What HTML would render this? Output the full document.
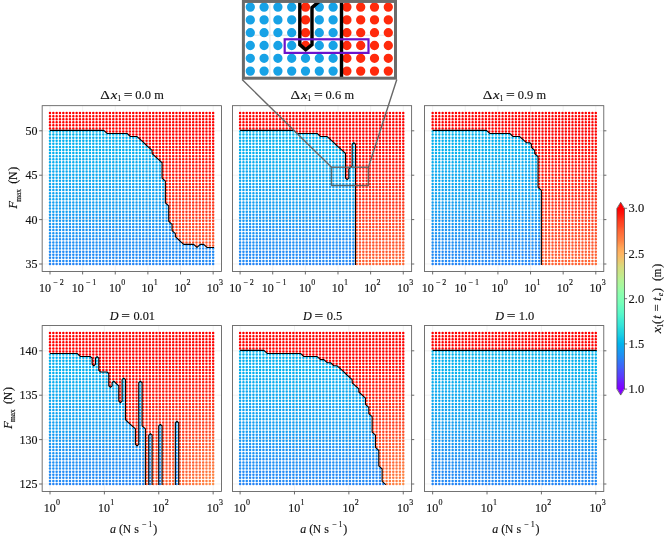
<!DOCTYPE html>
<html lang="en"><head><meta charset="utf-8"><title>Phase diagrams</title>
<style>html,body{margin:0;padding:0;background:#fff}svg{display:block}text{font-family:"Liberation Serif",serif;fill:#111;stroke:#111;stroke-width:.14px}.i{font-style:italic}</style></head><body>
<svg width="668" height="542" viewBox="0 0 668 542">
<rect width="668" height="542" fill="#fff"/>
<path d="M50 105.7V271.45M82.63 105.7V271.45M115.26 105.7V271.45M147.89 105.7V271.45M180.52 105.7V271.45M213.15 105.7V271.45M42.15 130.81H221.55M42.15 175.21H221.55M42.15 219.6H221.55M42.15 264H221.55" stroke="#ececec" stroke-width="0.7" fill="none"/>
<g stroke-linecap="round" stroke-width="2.5" fill="none">
<path stroke="#ff0000" d="M50 113.05h0M53.33 113.05h0M56.66 113.05h0M59.99 113.05h0M63.32 113.05h0M66.65 113.05h0M69.98 113.05h0M73.31 113.05h0M76.64 113.05h0M79.97 113.05h0M83.3 113.05h0M86.63 113.05h0M89.96 113.05h0M93.28 113.05h0M96.61 113.05h0M99.94 113.05h0M103.27 113.05h0M106.6 113.05h0M109.93 113.05h0M113.26 113.05h0M116.59 113.05h0M119.92 113.05h0M123.25 113.05h0M126.58 113.05h0M129.91 113.05h0M133.24 113.05h0M136.57 113.05h0M139.9 113.05h0M143.23 113.05h0M146.56 113.05h0M149.89 113.05h0M153.22 113.05h0M156.55 113.05h0M159.88 113.05h0M163.21 113.05h0M166.54 113.05h0M169.87 113.05h0M173.19 113.05h0M176.52 113.05h0M179.85 113.05h0M183.18 113.05h0M186.51 113.05h0M189.84 113.05h0M193.17 113.05h0M196.5 113.05h0M199.83 113.05h0M203.16 113.05h0M206.49 113.05h0M209.82 113.05h0M213.15 113.05h0M50 116.13h0M53.33 116.13h0M56.66 116.13h0M59.99 116.13h0M63.32 116.13h0M66.65 116.13h0M69.98 116.13h0M73.31 116.13h0M76.64 116.13h0M79.97 116.13h0M83.3 116.13h0M86.63 116.13h0M89.96 116.13h0M93.28 116.13h0M96.61 116.13h0M99.94 116.13h0M103.27 116.13h0M106.6 116.13h0M109.93 116.13h0M113.26 116.13h0M116.59 116.13h0M119.92 116.13h0M123.25 116.13h0M126.58 116.13h0M129.91 116.13h0M133.24 116.13h0M136.57 116.13h0M139.9 116.13h0M143.23 116.13h0M146.56 116.13h0M149.89 116.13h0M153.22 116.13h0M156.55 116.13h0M159.88 116.13h0M163.21 116.13h0M166.54 116.13h0M169.87 116.13h0M173.19 116.13h0M176.52 116.13h0M179.85 116.13h0M183.18 116.13h0M186.51 116.13h0M189.84 116.13h0M193.17 116.13h0M196.5 116.13h0M199.83 116.13h0M203.16 116.13h0M206.49 116.13h0M209.82 116.13h0M213.15 116.13h0M50 119.21h0M53.33 119.21h0M56.66 119.21h0M59.99 119.21h0M63.32 119.21h0M66.65 119.21h0M69.98 119.21h0M73.31 119.21h0M76.64 119.21h0M79.97 119.21h0M83.3 119.21h0M86.63 119.21h0M89.96 119.21h0M93.28 119.21h0M96.61 119.21h0M99.94 119.21h0M103.27 119.21h0M106.6 119.21h0M109.93 119.21h0M113.26 119.21h0M116.59 119.21h0M119.92 119.21h0M123.25 119.21h0M126.58 119.21h0M129.91 119.21h0M133.24 119.21h0M136.57 119.21h0M139.9 119.21h0M143.23 119.21h0M146.56 119.21h0M149.89 119.21h0M153.22 119.21h0M156.55 119.21h0M159.88 119.21h0M163.21 119.21h0M166.54 119.21h0M169.87 119.21h0M173.19 119.21h0M176.52 119.21h0M179.85 119.21h0M183.18 119.21h0M186.51 119.21h0M189.84 119.21h0M193.17 119.21h0M196.5 119.21h0M199.83 119.21h0M203.16 119.21h0M206.49 119.21h0M209.82 119.21h0M213.15 119.21h0M50 122.29h0M53.33 122.29h0M56.66 122.29h0M59.99 122.29h0M63.32 122.29h0M66.65 122.29h0M69.98 122.29h0M73.31 122.29h0M76.64 122.29h0M79.97 122.29h0M83.3 122.29h0M86.63 122.29h0M89.96 122.29h0M93.28 122.29h0M96.61 122.29h0M99.94 122.29h0M103.27 122.29h0M106.6 122.29h0M109.93 122.29h0M113.26 122.29h0M116.59 122.29h0M119.92 122.29h0M123.25 122.29h0M126.58 122.29h0M129.91 122.29h0M133.24 122.29h0M136.57 122.29h0M139.9 122.29h0M143.23 122.29h0M146.56 122.29h0M149.89 122.29h0M153.22 122.29h0M156.55 122.29h0M159.88 122.29h0M163.21 122.29h0M166.54 122.29h0M169.87 122.29h0M173.19 122.29h0M176.52 122.29h0M179.85 122.29h0M183.18 122.29h0M186.51 122.29h0M189.84 122.29h0M193.17 122.29h0M196.5 122.29h0M199.83 122.29h0M203.16 122.29h0M206.49 122.29h0M209.82 122.29h0M213.15 122.29h0M50 125.37h0M53.33 125.37h0M56.66 125.37h0M59.99 125.37h0M63.32 125.37h0M66.65 125.37h0M69.98 125.37h0M73.31 125.37h0M76.64 125.37h0M79.97 125.37h0M83.3 125.37h0M86.63 125.37h0M89.96 125.37h0M93.28 125.37h0M96.61 125.37h0M99.94 125.37h0M103.27 125.37h0M106.6 125.37h0M109.93 125.37h0M113.26 125.37h0M116.59 125.37h0M119.92 125.37h0M123.25 125.37h0M126.58 125.37h0M129.91 125.37h0M133.24 125.37h0M136.57 125.37h0M139.9 125.37h0M143.23 125.37h0M146.56 125.37h0M149.89 125.37h0M153.22 125.37h0M156.55 125.37h0M159.88 125.37h0M163.21 125.37h0M166.54 125.37h0M169.87 125.37h0M173.19 125.37h0M176.52 125.37h0M179.85 125.37h0M183.18 125.37h0M186.51 125.37h0M189.84 125.37h0M193.17 125.37h0M196.5 125.37h0M199.83 125.37h0M203.16 125.37h0M206.49 125.37h0M209.82 125.37h0M213.15 125.37h0M50 128.45h0M53.33 128.45h0M56.66 128.45h0M59.99 128.45h0M63.32 128.45h0M66.65 128.45h0M69.98 128.45h0M73.31 128.45h0M76.64 128.45h0M79.97 128.45h0M83.3 128.45h0M86.63 128.45h0M89.96 128.45h0M93.28 128.45h0M96.61 128.45h0M99.94 128.45h0M103.27 128.45h0M106.6 128.45h0M109.93 128.45h0M113.26 128.45h0M116.59 128.45h0M119.92 128.45h0M123.25 128.45h0M126.58 128.45h0M129.91 128.45h0M133.24 128.45h0M136.57 128.45h0M139.9 128.45h0M143.23 128.45h0M146.56 128.45h0M149.89 128.45h0M153.22 128.45h0M156.55 128.45h0M159.88 128.45h0M163.21 128.45h0M166.54 128.45h0M169.87 128.45h0M173.19 128.45h0M176.52 128.45h0M179.85 128.45h0M183.18 128.45h0M186.51 128.45h0M189.84 128.45h0M193.17 128.45h0M196.5 128.45h0M199.83 128.45h0M203.16 128.45h0M206.49 128.45h0M209.82 128.45h0M213.15 128.45h0M106.6 131.53h0M109.93 131.53h0M113.26 131.53h0M116.59 131.53h0M119.92 131.53h0M123.25 131.53h0M126.58 131.53h0M129.91 131.53h0M133.24 131.53h0M136.57 131.53h0M139.9 131.53h0M143.23 131.53h0M146.56 131.53h0M149.89 131.53h0M153.22 131.53h0M156.55 131.53h0M159.88 131.53h0M163.21 131.53h0M166.54 131.53h0M169.87 131.53h0M173.19 131.53h0M176.52 131.53h0M179.85 131.53h0M183.18 131.53h0M186.51 131.53h0M189.84 131.53h0M193.17 131.53h0M196.5 131.53h0M199.83 131.53h0M203.16 131.53h0M206.49 131.53h0M209.82 131.53h0M213.15 131.53h0M129.91 134.61h0M133.24 134.61h0M136.57 134.61h0M139.9 134.61h0M143.23 134.61h0M146.56 134.61h0M149.89 134.61h0M153.22 134.61h0M156.55 134.61h0M159.88 134.61h0M163.21 134.61h0M166.54 134.61h0M169.87 134.61h0M173.19 134.61h0M176.52 134.61h0M179.85 134.61h0M183.18 134.61h0M186.51 134.61h0M189.84 134.61h0M193.17 134.61h0M196.5 134.61h0M199.83 134.61h0M203.16 134.61h0M206.49 134.61h0M209.82 134.61h0M213.15 134.61h0M139.9 137.69h0M143.23 137.69h0M146.56 137.69h0M149.89 137.69h0M153.22 137.69h0M156.55 137.69h0M159.88 137.69h0M163.21 137.69h0M166.54 137.69h0M169.87 137.69h0M173.19 137.69h0M176.52 137.69h0M179.85 137.69h0M183.18 137.69h0M186.51 137.69h0M189.84 137.69h0"/>
<path stroke="#00b4ec" d="M50 131.53h0M53.33 131.53h0M56.66 131.53h0M59.99 131.53h0M63.32 131.53h0M66.65 131.53h0M69.98 131.53h0M73.31 131.53h0M76.64 131.53h0M79.97 131.53h0M83.3 131.53h0M86.63 131.53h0M89.96 131.53h0M93.28 131.53h0M96.61 131.53h0M99.94 131.53h0M103.27 131.53h0M50 134.61h0M53.33 134.61h0M56.66 134.61h0M59.99 134.61h0M63.32 134.61h0M66.65 134.61h0M69.98 134.61h0M73.31 134.61h0M76.64 134.61h0M79.97 134.61h0M83.3 134.61h0M86.63 134.61h0M89.96 134.61h0M93.28 134.61h0M96.61 134.61h0M99.94 134.61h0M103.27 134.61h0M106.6 134.61h0M109.93 134.61h0M113.26 134.61h0M116.59 134.61h0M119.92 134.61h0M123.25 134.61h0M126.58 134.61h0"/>
<path stroke="#04b0ed" d="M50 137.69h0M53.33 137.69h0M56.66 137.69h0M59.99 137.69h0M63.32 137.69h0M66.65 137.69h0M69.98 137.69h0M73.31 137.69h0M76.64 137.69h0M79.97 137.69h0M83.3 137.69h0M86.63 137.69h0M89.96 137.69h0M93.28 137.69h0M96.61 137.69h0M99.94 137.69h0M103.27 137.69h0M106.6 137.69h0M109.93 137.69h0M113.26 137.69h0M116.59 137.69h0M119.92 137.69h0M123.25 137.69h0M126.58 137.69h0M129.91 137.69h0M133.24 137.69h0M136.57 137.69h0M50 140.78h0M53.33 140.78h0M56.66 140.78h0M59.99 140.78h0M63.32 140.78h0M66.65 140.78h0M69.98 140.78h0M73.31 140.78h0M76.64 140.78h0M79.97 140.78h0M83.3 140.78h0M86.63 140.78h0M89.96 140.78h0M93.28 140.78h0M96.61 140.78h0M99.94 140.78h0M103.27 140.78h0M106.6 140.78h0M109.93 140.78h0M113.26 140.78h0M116.59 140.78h0M119.92 140.78h0M123.25 140.78h0M126.58 140.78h0M129.91 140.78h0M133.24 140.78h0M136.57 140.78h0M139.9 140.78h0M50 143.86h0M53.33 143.86h0M56.66 143.86h0M59.99 143.86h0M63.32 143.86h0M66.65 143.86h0M69.98 143.86h0M73.31 143.86h0M76.64 143.86h0M79.97 143.86h0M83.3 143.86h0M86.63 143.86h0M89.96 143.86h0M93.28 143.86h0M96.61 143.86h0M99.94 143.86h0M103.27 143.86h0M106.6 143.86h0M109.93 143.86h0M113.26 143.86h0M116.59 143.86h0M119.92 143.86h0M123.25 143.86h0M126.58 143.86h0M129.91 143.86h0M133.24 143.86h0M136.57 143.86h0M139.9 143.86h0M143.23 143.86h0M50 146.94h0M53.33 146.94h0M56.66 146.94h0M59.99 146.94h0M63.32 146.94h0M66.65 146.94h0M69.98 146.94h0M73.31 146.94h0M76.64 146.94h0M79.97 146.94h0M83.3 146.94h0M86.63 146.94h0M89.96 146.94h0M93.28 146.94h0M96.61 146.94h0M99.94 146.94h0M103.27 146.94h0M106.6 146.94h0M109.93 146.94h0M113.26 146.94h0M116.59 146.94h0M119.92 146.94h0M123.25 146.94h0M126.58 146.94h0M129.91 146.94h0M133.24 146.94h0M136.57 146.94h0M139.9 146.94h0M143.23 146.94h0M146.56 146.94h0M50 150.02h0M53.33 150.02h0M56.66 150.02h0M59.99 150.02h0M63.32 150.02h0M66.65 150.02h0M69.98 150.02h0M73.31 150.02h0M76.64 150.02h0M79.97 150.02h0M83.3 150.02h0M86.63 150.02h0M89.96 150.02h0M93.28 150.02h0M96.61 150.02h0M99.94 150.02h0M103.27 150.02h0M106.6 150.02h0M109.93 150.02h0M113.26 150.02h0M116.59 150.02h0M119.92 150.02h0M123.25 150.02h0M126.58 150.02h0M129.91 150.02h0M133.24 150.02h0M136.57 150.02h0M139.9 150.02h0M143.23 150.02h0M146.56 150.02h0M149.89 150.02h0M50 153.1h0M53.33 153.1h0M56.66 153.1h0M59.99 153.1h0M63.32 153.1h0M66.65 153.1h0M69.98 153.1h0M73.31 153.1h0M76.64 153.1h0M79.97 153.1h0M83.3 153.1h0M86.63 153.1h0M89.96 153.1h0M93.28 153.1h0M96.61 153.1h0M99.94 153.1h0M103.27 153.1h0M106.6 153.1h0M109.93 153.1h0M113.26 153.1h0M116.59 153.1h0M119.92 153.1h0M123.25 153.1h0M126.58 153.1h0M129.91 153.1h0M133.24 153.1h0M136.57 153.1h0M139.9 153.1h0M143.23 153.1h0M146.56 153.1h0M149.89 153.1h0"/>
<path stroke="#ff0603" d="M193.17 137.69h0M196.5 137.69h0M199.83 137.69h0M203.16 137.69h0M206.49 137.69h0M209.82 137.69h0M213.15 137.69h0M143.23 140.78h0M146.56 140.78h0M149.89 140.78h0M153.22 140.78h0M156.55 140.78h0M159.88 140.78h0M163.21 140.78h0M166.54 140.78h0M169.87 140.78h0M173.19 140.78h0M176.52 140.78h0M179.85 140.78h0M183.18 140.78h0M186.51 140.78h0M189.84 140.78h0M193.17 140.78h0M196.5 140.78h0M199.83 140.78h0M203.16 140.78h0M206.49 140.78h0M209.82 140.78h0M213.15 140.78h0M146.56 143.86h0M149.89 143.86h0M153.22 143.86h0M156.55 143.86h0M159.88 143.86h0M163.21 143.86h0M166.54 143.86h0M169.87 143.86h0M173.19 143.86h0M176.52 143.86h0M179.85 143.86h0M183.18 143.86h0M186.51 143.86h0M189.84 143.86h0M193.17 143.86h0M196.5 143.86h0M199.83 143.86h0M203.16 143.86h0M206.49 143.86h0M209.82 143.86h0M213.15 143.86h0M149.89 146.94h0M153.22 146.94h0M156.55 146.94h0M159.88 146.94h0M163.21 146.94h0M166.54 146.94h0M169.87 146.94h0M173.19 146.94h0M176.52 146.94h0M179.85 146.94h0M183.18 146.94h0M186.51 146.94h0M189.84 146.94h0M193.17 146.94h0M196.5 146.94h0M199.83 146.94h0"/>
<path stroke="#ff0c06" d="M203.16 146.94h0M206.49 146.94h0M209.82 146.94h0M213.15 146.94h0M153.22 150.02h0M156.55 150.02h0M159.88 150.02h0M163.21 150.02h0M166.54 150.02h0M169.87 150.02h0M173.19 150.02h0M176.52 150.02h0M179.85 150.02h0M183.18 150.02h0M186.51 150.02h0M189.84 150.02h0M193.17 150.02h0M196.5 150.02h0M199.83 150.02h0M203.16 150.02h0M206.49 150.02h0M209.82 150.02h0M213.15 150.02h0M153.22 153.1h0M156.55 153.1h0M159.88 153.1h0M163.21 153.1h0M166.54 153.1h0M169.87 153.1h0M173.19 153.1h0M176.52 153.1h0M179.85 153.1h0M183.18 153.1h0M186.51 153.1h0M189.84 153.1h0M193.17 153.1h0M196.5 153.1h0M199.83 153.1h0M203.16 153.1h0M206.49 153.1h0M209.82 153.1h0M213.15 153.1h0M156.55 156.18h0M159.88 156.18h0M163.21 156.18h0M166.54 156.18h0M169.87 156.18h0M173.19 156.18h0M176.52 156.18h0M179.85 156.18h0M183.18 156.18h0M186.51 156.18h0M189.84 156.18h0M193.17 156.18h0M196.5 156.18h0M199.83 156.18h0"/>
<path stroke="#08acee" d="M50 156.18h0M53.33 156.18h0M56.66 156.18h0M59.99 156.18h0M63.32 156.18h0M66.65 156.18h0M69.98 156.18h0M73.31 156.18h0M76.64 156.18h0M79.97 156.18h0M83.3 156.18h0M86.63 156.18h0M89.96 156.18h0M93.28 156.18h0M96.61 156.18h0M99.94 156.18h0M103.27 156.18h0M106.6 156.18h0M109.93 156.18h0M113.26 156.18h0M116.59 156.18h0M119.92 156.18h0M123.25 156.18h0M126.58 156.18h0M129.91 156.18h0M133.24 156.18h0M136.57 156.18h0M139.9 156.18h0M143.23 156.18h0M146.56 156.18h0M149.89 156.18h0M153.22 156.18h0M50 159.26h0M53.33 159.26h0M56.66 159.26h0M59.99 159.26h0M63.32 159.26h0M66.65 159.26h0M69.98 159.26h0M73.31 159.26h0M76.64 159.26h0M79.97 159.26h0M83.3 159.26h0M86.63 159.26h0M89.96 159.26h0M93.28 159.26h0M96.61 159.26h0M99.94 159.26h0M103.27 159.26h0M106.6 159.26h0M109.93 159.26h0M113.26 159.26h0M116.59 159.26h0M119.92 159.26h0M123.25 159.26h0M126.58 159.26h0M129.91 159.26h0M133.24 159.26h0M136.57 159.26h0M139.9 159.26h0M143.23 159.26h0M146.56 159.26h0M149.89 159.26h0M153.22 159.26h0M156.55 159.26h0M50 162.34h0M53.33 162.34h0M56.66 162.34h0M59.99 162.34h0M63.32 162.34h0M66.65 162.34h0M69.98 162.34h0M73.31 162.34h0M76.64 162.34h0M79.97 162.34h0M83.3 162.34h0M86.63 162.34h0M89.96 162.34h0M93.28 162.34h0M96.61 162.34h0M99.94 162.34h0M103.27 162.34h0M106.6 162.34h0M109.93 162.34h0M113.26 162.34h0M116.59 162.34h0M119.92 162.34h0M123.25 162.34h0M126.58 162.34h0M129.91 162.34h0M133.24 162.34h0M136.57 162.34h0M139.9 162.34h0M143.23 162.34h0M146.56 162.34h0M149.89 162.34h0M153.22 162.34h0M156.55 162.34h0M159.88 162.34h0M50 165.42h0M53.33 165.42h0M56.66 165.42h0M59.99 165.42h0M63.32 165.42h0M66.65 165.42h0M69.98 165.42h0M73.31 165.42h0M76.64 165.42h0M79.97 165.42h0M83.3 165.42h0M86.63 165.42h0M89.96 165.42h0M93.28 165.42h0M96.61 165.42h0M99.94 165.42h0M103.27 165.42h0M106.6 165.42h0M109.93 165.42h0M113.26 165.42h0M116.59 165.42h0M119.92 165.42h0M123.25 165.42h0M126.58 165.42h0M129.91 165.42h0M133.24 165.42h0M136.57 165.42h0M139.9 165.42h0M143.23 165.42h0M146.56 165.42h0M149.89 165.42h0M153.22 165.42h0M156.55 165.42h0M159.88 165.42h0M50 168.5h0M53.33 168.5h0M56.66 168.5h0M59.99 168.5h0M63.32 168.5h0M66.65 168.5h0M69.98 168.5h0M73.31 168.5h0M76.64 168.5h0M79.97 168.5h0M83.3 168.5h0M86.63 168.5h0M89.96 168.5h0M93.28 168.5h0M96.61 168.5h0M99.94 168.5h0M103.27 168.5h0M106.6 168.5h0M109.93 168.5h0M113.26 168.5h0M116.59 168.5h0M119.92 168.5h0M123.25 168.5h0M126.58 168.5h0M129.91 168.5h0M133.24 168.5h0M136.57 168.5h0M139.9 168.5h0M143.23 168.5h0M146.56 168.5h0M149.89 168.5h0M153.22 168.5h0M156.55 168.5h0M159.88 168.5h0"/>
<path stroke="#ff1209" d="M203.16 156.18h0M206.49 156.18h0M209.82 156.18h0M213.15 156.18h0M159.88 159.26h0M163.21 159.26h0M166.54 159.26h0M169.87 159.26h0M173.19 159.26h0M176.52 159.26h0M179.85 159.26h0M183.18 159.26h0M186.51 159.26h0M189.84 159.26h0M193.17 159.26h0M196.5 159.26h0M199.83 159.26h0M203.16 159.26h0M206.49 159.26h0M209.82 159.26h0M213.15 159.26h0M163.21 162.34h0M166.54 162.34h0M169.87 162.34h0M173.19 162.34h0M176.52 162.34h0M179.85 162.34h0M183.18 162.34h0M186.51 162.34h0M189.84 162.34h0M193.17 162.34h0M196.5 162.34h0M199.83 162.34h0M203.16 162.34h0M206.49 162.34h0M209.82 162.34h0M213.15 162.34h0M163.21 165.42h0M166.54 165.42h0M169.87 165.42h0M173.19 165.42h0M176.52 165.42h0M179.85 165.42h0M183.18 165.42h0M186.51 165.42h0M189.84 165.42h0M193.17 165.42h0M196.5 165.42h0"/>
<path stroke="#ff180c" d="M199.83 165.42h0M203.16 165.42h0M206.49 165.42h0M209.82 165.42h0M213.15 165.42h0M163.21 168.5h0M166.54 168.5h0M169.87 168.5h0M173.19 168.5h0M176.52 168.5h0M179.85 168.5h0M183.18 168.5h0M186.51 168.5h0M189.84 168.5h0M193.17 168.5h0M196.5 168.5h0M199.83 168.5h0M203.16 168.5h0M206.49 168.5h0M209.82 168.5h0M213.15 168.5h0M163.21 171.58h0M166.54 171.58h0M169.87 171.58h0M173.19 171.58h0M176.52 171.58h0M179.85 171.58h0M183.18 171.58h0M186.51 171.58h0M189.84 171.58h0M193.17 171.58h0M196.5 171.58h0M199.83 171.58h0M203.16 171.58h0M206.49 171.58h0M209.82 171.58h0M163.21 174.66h0M166.54 174.66h0M169.87 174.66h0M173.19 174.66h0M176.52 174.66h0M179.85 174.66h0M183.18 174.66h0M186.51 174.66h0"/>
<path stroke="#0ba7ef" d="M50 171.58h0M53.33 171.58h0M56.66 171.58h0M59.99 171.58h0M63.32 171.58h0M66.65 171.58h0M69.98 171.58h0M73.31 171.58h0M76.64 171.58h0M79.97 171.58h0M83.3 171.58h0M86.63 171.58h0M89.96 171.58h0M93.28 171.58h0M96.61 171.58h0M99.94 171.58h0M103.27 171.58h0M106.6 171.58h0M109.93 171.58h0M113.26 171.58h0M116.59 171.58h0M119.92 171.58h0M123.25 171.58h0M126.58 171.58h0M129.91 171.58h0M133.24 171.58h0M136.57 171.58h0M139.9 171.58h0M143.23 171.58h0M146.56 171.58h0M149.89 171.58h0M153.22 171.58h0M156.55 171.58h0M159.88 171.58h0M50 174.66h0M53.33 174.66h0M56.66 174.66h0M59.99 174.66h0M63.32 174.66h0M66.65 174.66h0M69.98 174.66h0M73.31 174.66h0M76.64 174.66h0M79.97 174.66h0M83.3 174.66h0M86.63 174.66h0M89.96 174.66h0M93.28 174.66h0M96.61 174.66h0M99.94 174.66h0M103.27 174.66h0M106.6 174.66h0M109.93 174.66h0M113.26 174.66h0M116.59 174.66h0M119.92 174.66h0M123.25 174.66h0M126.58 174.66h0M129.91 174.66h0M133.24 174.66h0M136.57 174.66h0M139.9 174.66h0M143.23 174.66h0M146.56 174.66h0M149.89 174.66h0M153.22 174.66h0M156.55 174.66h0M159.88 174.66h0M50 177.74h0M53.33 177.74h0M56.66 177.74h0M59.99 177.74h0M63.32 177.74h0M66.65 177.74h0M69.98 177.74h0M73.31 177.74h0M76.64 177.74h0M79.97 177.74h0M83.3 177.74h0M86.63 177.74h0M89.96 177.74h0M93.28 177.74h0M96.61 177.74h0M99.94 177.74h0M103.27 177.74h0M106.6 177.74h0M109.93 177.74h0M113.26 177.74h0M116.59 177.74h0M119.92 177.74h0M123.25 177.74h0M126.58 177.74h0M129.91 177.74h0M133.24 177.74h0M136.57 177.74h0M139.9 177.74h0M143.23 177.74h0M146.56 177.74h0M149.89 177.74h0M153.22 177.74h0M156.55 177.74h0M159.88 177.74h0M50 180.82h0M53.33 180.82h0M56.66 180.82h0M59.99 180.82h0M63.32 180.82h0M66.65 180.82h0M69.98 180.82h0M73.31 180.82h0M76.64 180.82h0M79.97 180.82h0M83.3 180.82h0M86.63 180.82h0M89.96 180.82h0M93.28 180.82h0M96.61 180.82h0M99.94 180.82h0M103.27 180.82h0M106.6 180.82h0M109.93 180.82h0M113.26 180.82h0M116.59 180.82h0M119.92 180.82h0M123.25 180.82h0M126.58 180.82h0M129.91 180.82h0M133.24 180.82h0M136.57 180.82h0M139.9 180.82h0M143.23 180.82h0M146.56 180.82h0M149.89 180.82h0M153.22 180.82h0M156.55 180.82h0M159.88 180.82h0M163.21 180.82h0M50 183.9h0M53.33 183.9h0M56.66 183.9h0M59.99 183.9h0M63.32 183.9h0M66.65 183.9h0M69.98 183.9h0M73.31 183.9h0M76.64 183.9h0M79.97 183.9h0M83.3 183.9h0M86.63 183.9h0M89.96 183.9h0M93.28 183.9h0M96.61 183.9h0M99.94 183.9h0M103.27 183.9h0M106.6 183.9h0M109.93 183.9h0M113.26 183.9h0M116.59 183.9h0M119.92 183.9h0M123.25 183.9h0M126.58 183.9h0M129.91 183.9h0M133.24 183.9h0M136.57 183.9h0M139.9 183.9h0M143.23 183.9h0M146.56 183.9h0M149.89 183.9h0M153.22 183.9h0M156.55 183.9h0M159.88 183.9h0M163.21 183.9h0"/>
<path stroke="#ff1e0f" d="M213.15 171.58h0M189.84 174.66h0M193.17 174.66h0M196.5 174.66h0M199.83 174.66h0M203.16 174.66h0M206.49 174.66h0M209.82 174.66h0M213.15 174.66h0M163.21 177.74h0M166.54 177.74h0M169.87 177.74h0M173.19 177.74h0M176.52 177.74h0M179.85 177.74h0M183.18 177.74h0M186.51 177.74h0M189.84 177.74h0M193.17 177.74h0M196.5 177.74h0M199.83 177.74h0M203.16 177.74h0M206.49 177.74h0M209.82 177.74h0M213.15 177.74h0M166.54 180.82h0M169.87 180.82h0M173.19 180.82h0M176.52 180.82h0M179.85 180.82h0M183.18 180.82h0M186.51 180.82h0M189.84 180.82h0M193.17 180.82h0M196.5 180.82h0M199.83 180.82h0M203.16 180.82h0M166.54 183.9h0M169.87 183.9h0M173.19 183.9h0M176.52 183.9h0"/>
<path stroke="#ff2412" d="M206.49 180.82h0M209.82 180.82h0M213.15 180.82h0M179.85 183.9h0M183.18 183.9h0M186.51 183.9h0M189.84 183.9h0M193.17 183.9h0M196.5 183.9h0M199.83 183.9h0M203.16 183.9h0M206.49 183.9h0M209.82 183.9h0M213.15 183.9h0M166.54 186.98h0M169.87 186.98h0M173.19 186.98h0M176.52 186.98h0M179.85 186.98h0M183.18 186.98h0M186.51 186.98h0M189.84 186.98h0M193.17 186.98h0M196.5 186.98h0M199.83 186.98h0M203.16 186.98h0M206.49 186.98h0M209.82 186.98h0M213.15 186.98h0M166.54 190.07h0M169.87 190.07h0M173.19 190.07h0M176.52 190.07h0M179.85 190.07h0M183.18 190.07h0M186.51 190.07h0M189.84 190.07h0M193.17 190.07h0"/>
<path stroke="#0fa3f0" d="M50 186.98h0M53.33 186.98h0M56.66 186.98h0M59.99 186.98h0M63.32 186.98h0M66.65 186.98h0M69.98 186.98h0M73.31 186.98h0M76.64 186.98h0M79.97 186.98h0M83.3 186.98h0M86.63 186.98h0M89.96 186.98h0M93.28 186.98h0M96.61 186.98h0M99.94 186.98h0M103.27 186.98h0M106.6 186.98h0M109.93 186.98h0M113.26 186.98h0M116.59 186.98h0M119.92 186.98h0M123.25 186.98h0M126.58 186.98h0M129.91 186.98h0M133.24 186.98h0M136.57 186.98h0M139.9 186.98h0M143.23 186.98h0M146.56 186.98h0M149.89 186.98h0M153.22 186.98h0M156.55 186.98h0M159.88 186.98h0M163.21 186.98h0M50 190.07h0M53.33 190.07h0M56.66 190.07h0M59.99 190.07h0M63.32 190.07h0M66.65 190.07h0M69.98 190.07h0M73.31 190.07h0M76.64 190.07h0M79.97 190.07h0M83.3 190.07h0M86.63 190.07h0M89.96 190.07h0M93.28 190.07h0M96.61 190.07h0M99.94 190.07h0M103.27 190.07h0M106.6 190.07h0M109.93 190.07h0M113.26 190.07h0M116.59 190.07h0M119.92 190.07h0M123.25 190.07h0M126.58 190.07h0M129.91 190.07h0M133.24 190.07h0M136.57 190.07h0M139.9 190.07h0M143.23 190.07h0M146.56 190.07h0M149.89 190.07h0M153.22 190.07h0M156.55 190.07h0M159.88 190.07h0M163.21 190.07h0M50 193.15h0M53.33 193.15h0M56.66 193.15h0M59.99 193.15h0M63.32 193.15h0M66.65 193.15h0M69.98 193.15h0M73.31 193.15h0M76.64 193.15h0M79.97 193.15h0M83.3 193.15h0M86.63 193.15h0M89.96 193.15h0M93.28 193.15h0M96.61 193.15h0M99.94 193.15h0M103.27 193.15h0M106.6 193.15h0M109.93 193.15h0M113.26 193.15h0M116.59 193.15h0M119.92 193.15h0M123.25 193.15h0M126.58 193.15h0M129.91 193.15h0M133.24 193.15h0M136.57 193.15h0M139.9 193.15h0M143.23 193.15h0M146.56 193.15h0M149.89 193.15h0M153.22 193.15h0M156.55 193.15h0M159.88 193.15h0M163.21 193.15h0M50 196.23h0M53.33 196.23h0M56.66 196.23h0M59.99 196.23h0M63.32 196.23h0M66.65 196.23h0M69.98 196.23h0M73.31 196.23h0M76.64 196.23h0M79.97 196.23h0M83.3 196.23h0M86.63 196.23h0M89.96 196.23h0M93.28 196.23h0M96.61 196.23h0M99.94 196.23h0M103.27 196.23h0M106.6 196.23h0M109.93 196.23h0M113.26 196.23h0M116.59 196.23h0M119.92 196.23h0M123.25 196.23h0M126.58 196.23h0M129.91 196.23h0M133.24 196.23h0M136.57 196.23h0M139.9 196.23h0M143.23 196.23h0M146.56 196.23h0M149.89 196.23h0M153.22 196.23h0M156.55 196.23h0M159.88 196.23h0M163.21 196.23h0M50 199.31h0M53.33 199.31h0M56.66 199.31h0M59.99 199.31h0M63.32 199.31h0M66.65 199.31h0M69.98 199.31h0M73.31 199.31h0M76.64 199.31h0M79.97 199.31h0M83.3 199.31h0M86.63 199.31h0M89.96 199.31h0M93.28 199.31h0M96.61 199.31h0M99.94 199.31h0M103.27 199.31h0M106.6 199.31h0M109.93 199.31h0M113.26 199.31h0M116.59 199.31h0M119.92 199.31h0M123.25 199.31h0M126.58 199.31h0M129.91 199.31h0M133.24 199.31h0M136.57 199.31h0M139.9 199.31h0M143.23 199.31h0M146.56 199.31h0M149.89 199.31h0M153.22 199.31h0M156.55 199.31h0M159.88 199.31h0M163.21 199.31h0"/>
<path stroke="#ff2a15" d="M196.5 190.07h0M199.83 190.07h0M203.16 190.07h0M206.49 190.07h0M209.82 190.07h0M213.15 190.07h0M166.54 193.15h0M169.87 193.15h0M173.19 193.15h0M176.52 193.15h0M179.85 193.15h0M183.18 193.15h0M186.51 193.15h0M189.84 193.15h0M193.17 193.15h0M196.5 193.15h0M199.83 193.15h0M203.16 193.15h0M206.49 193.15h0M209.82 193.15h0M213.15 193.15h0M166.54 196.23h0M169.87 196.23h0M173.19 196.23h0M176.52 196.23h0M179.85 196.23h0M183.18 196.23h0M186.51 196.23h0M189.84 196.23h0M193.17 196.23h0M196.5 196.23h0M199.83 196.23h0M166.54 199.31h0M169.87 199.31h0M173.19 199.31h0M176.52 199.31h0M179.85 199.31h0"/>
<path stroke="#ff3018" d="M203.16 196.23h0M206.49 196.23h0M209.82 196.23h0M213.15 196.23h0M183.18 199.31h0M186.51 199.31h0M189.84 199.31h0M193.17 199.31h0M196.5 199.31h0M199.83 199.31h0M203.16 199.31h0M206.49 199.31h0M209.82 199.31h0M213.15 199.31h0M166.54 202.39h0M169.87 202.39h0M173.19 202.39h0M176.52 202.39h0M179.85 202.39h0M183.18 202.39h0M186.51 202.39h0M189.84 202.39h0M193.17 202.39h0M196.5 202.39h0M199.83 202.39h0M203.16 202.39h0M206.49 202.39h0M169.87 205.47h0M173.19 205.47h0M176.52 205.47h0M179.85 205.47h0M183.18 205.47h0M186.51 205.47h0M189.84 205.47h0"/>
<path stroke="#139ef1" d="M50 202.39h0M53.33 202.39h0M56.66 202.39h0M59.99 202.39h0M63.32 202.39h0M66.65 202.39h0M69.98 202.39h0M73.31 202.39h0M76.64 202.39h0M79.97 202.39h0M83.3 202.39h0M86.63 202.39h0M89.96 202.39h0M93.28 202.39h0M96.61 202.39h0M99.94 202.39h0M103.27 202.39h0M106.6 202.39h0M109.93 202.39h0M113.26 202.39h0M116.59 202.39h0M119.92 202.39h0M123.25 202.39h0M126.58 202.39h0M129.91 202.39h0M133.24 202.39h0M136.57 202.39h0M139.9 202.39h0M143.23 202.39h0M146.56 202.39h0M149.89 202.39h0M153.22 202.39h0M156.55 202.39h0M159.88 202.39h0M163.21 202.39h0M50 205.47h0M53.33 205.47h0M56.66 205.47h0M59.99 205.47h0M63.32 205.47h0M66.65 205.47h0M69.98 205.47h0M73.31 205.47h0M76.64 205.47h0M79.97 205.47h0M83.3 205.47h0M86.63 205.47h0M89.96 205.47h0M93.28 205.47h0M96.61 205.47h0M99.94 205.47h0M103.27 205.47h0M106.6 205.47h0M109.93 205.47h0M113.26 205.47h0M116.59 205.47h0M119.92 205.47h0M123.25 205.47h0M126.58 205.47h0M129.91 205.47h0M133.24 205.47h0M136.57 205.47h0M139.9 205.47h0M143.23 205.47h0M146.56 205.47h0M149.89 205.47h0M153.22 205.47h0M156.55 205.47h0M159.88 205.47h0M163.21 205.47h0M166.54 205.47h0M50 208.55h0M53.33 208.55h0M56.66 208.55h0M59.99 208.55h0M63.32 208.55h0M66.65 208.55h0M69.98 208.55h0M73.31 208.55h0M76.64 208.55h0M79.97 208.55h0M83.3 208.55h0M86.63 208.55h0M89.96 208.55h0M93.28 208.55h0M96.61 208.55h0M99.94 208.55h0M103.27 208.55h0M106.6 208.55h0M109.93 208.55h0M113.26 208.55h0M116.59 208.55h0M119.92 208.55h0M123.25 208.55h0M126.58 208.55h0M129.91 208.55h0M133.24 208.55h0M136.57 208.55h0M139.9 208.55h0M143.23 208.55h0M146.56 208.55h0M149.89 208.55h0M153.22 208.55h0M156.55 208.55h0M159.88 208.55h0M163.21 208.55h0M166.54 208.55h0M50 211.63h0M53.33 211.63h0M56.66 211.63h0M59.99 211.63h0M63.32 211.63h0M66.65 211.63h0M69.98 211.63h0M73.31 211.63h0M76.64 211.63h0M79.97 211.63h0M83.3 211.63h0M86.63 211.63h0M89.96 211.63h0M93.28 211.63h0M96.61 211.63h0M99.94 211.63h0M103.27 211.63h0M106.6 211.63h0M109.93 211.63h0M113.26 211.63h0M116.59 211.63h0M119.92 211.63h0M123.25 211.63h0M126.58 211.63h0M129.91 211.63h0M133.24 211.63h0M136.57 211.63h0M139.9 211.63h0M143.23 211.63h0M146.56 211.63h0M149.89 211.63h0M153.22 211.63h0M156.55 211.63h0M159.88 211.63h0M163.21 211.63h0M166.54 211.63h0"/>
<path stroke="#ff361b" d="M209.82 202.39h0M213.15 202.39h0M193.17 205.47h0M196.5 205.47h0M199.83 205.47h0M203.16 205.47h0M206.49 205.47h0M209.82 205.47h0M213.15 205.47h0M169.87 208.55h0M173.19 208.55h0M176.52 208.55h0M179.85 208.55h0M183.18 208.55h0M186.51 208.55h0M189.84 208.55h0M193.17 208.55h0M196.5 208.55h0M199.83 208.55h0M203.16 208.55h0M206.49 208.55h0M209.82 208.55h0M213.15 208.55h0M169.87 211.63h0M173.19 211.63h0M176.52 211.63h0M179.85 211.63h0M183.18 211.63h0M186.51 211.63h0M189.84 211.63h0M193.17 211.63h0M196.5 211.63h0M169.87 214.71h0M173.19 214.71h0"/>
<path stroke="#ff3c1e" d="M199.83 211.63h0M203.16 211.63h0M206.49 211.63h0M209.82 211.63h0M213.15 211.63h0M176.52 214.71h0M179.85 214.71h0M183.18 214.71h0M186.51 214.71h0M189.84 214.71h0M193.17 214.71h0M196.5 214.71h0M199.83 214.71h0M203.16 214.71h0M206.49 214.71h0M209.82 214.71h0M213.15 214.71h0M169.87 217.79h0M173.19 217.79h0M176.52 217.79h0M179.85 217.79h0M183.18 217.79h0M186.51 217.79h0M189.84 217.79h0M193.17 217.79h0M196.5 217.79h0M199.83 217.79h0M169.87 220.87h0M173.19 220.87h0M176.52 220.87h0M179.85 220.87h0M183.18 220.87h0"/>
<path stroke="#1799f2" d="M50 214.71h0M53.33 214.71h0M56.66 214.71h0M59.99 214.71h0M63.32 214.71h0M66.65 214.71h0M69.98 214.71h0M73.31 214.71h0M76.64 214.71h0M79.97 214.71h0M83.3 214.71h0M86.63 214.71h0M89.96 214.71h0M93.28 214.71h0M96.61 214.71h0M99.94 214.71h0M103.27 214.71h0M106.6 214.71h0M109.93 214.71h0M113.26 214.71h0M116.59 214.71h0M119.92 214.71h0M123.25 214.71h0M126.58 214.71h0M129.91 214.71h0M133.24 214.71h0M136.57 214.71h0M139.9 214.71h0M143.23 214.71h0M146.56 214.71h0M149.89 214.71h0M153.22 214.71h0M156.55 214.71h0M159.88 214.71h0M163.21 214.71h0M166.54 214.71h0M50 217.79h0M53.33 217.79h0M56.66 217.79h0M59.99 217.79h0M63.32 217.79h0M66.65 217.79h0M69.98 217.79h0M73.31 217.79h0M76.64 217.79h0M79.97 217.79h0M83.3 217.79h0M86.63 217.79h0M89.96 217.79h0M93.28 217.79h0M96.61 217.79h0M99.94 217.79h0M103.27 217.79h0M106.6 217.79h0M109.93 217.79h0M113.26 217.79h0M116.59 217.79h0M119.92 217.79h0M123.25 217.79h0M126.58 217.79h0M129.91 217.79h0M133.24 217.79h0M136.57 217.79h0M139.9 217.79h0M143.23 217.79h0M146.56 217.79h0M149.89 217.79h0M153.22 217.79h0M156.55 217.79h0M159.88 217.79h0M163.21 217.79h0M166.54 217.79h0M50 220.87h0M53.33 220.87h0M56.66 220.87h0M59.99 220.87h0M63.32 220.87h0M66.65 220.87h0M69.98 220.87h0M73.31 220.87h0M76.64 220.87h0M79.97 220.87h0M83.3 220.87h0M86.63 220.87h0M89.96 220.87h0M93.28 220.87h0M96.61 220.87h0M99.94 220.87h0M103.27 220.87h0M106.6 220.87h0M109.93 220.87h0M113.26 220.87h0M116.59 220.87h0M119.92 220.87h0M123.25 220.87h0M126.58 220.87h0M129.91 220.87h0M133.24 220.87h0M136.57 220.87h0M139.9 220.87h0M143.23 220.87h0M146.56 220.87h0M149.89 220.87h0M153.22 220.87h0M156.55 220.87h0M159.88 220.87h0M163.21 220.87h0M166.54 220.87h0M50 223.95h0M53.33 223.95h0M56.66 223.95h0M59.99 223.95h0M63.32 223.95h0M66.65 223.95h0M69.98 223.95h0M73.31 223.95h0M76.64 223.95h0M79.97 223.95h0M83.3 223.95h0M86.63 223.95h0M89.96 223.95h0M93.28 223.95h0M96.61 223.95h0M99.94 223.95h0M103.27 223.95h0M106.6 223.95h0M109.93 223.95h0M113.26 223.95h0M116.59 223.95h0M119.92 223.95h0M123.25 223.95h0M126.58 223.95h0M129.91 223.95h0M133.24 223.95h0M136.57 223.95h0M139.9 223.95h0M143.23 223.95h0M146.56 223.95h0M149.89 223.95h0M153.22 223.95h0M156.55 223.95h0M159.88 223.95h0M163.21 223.95h0M166.54 223.95h0M169.87 223.95h0"/>
<path stroke="#ff4121" d="M203.16 217.79h0M206.49 217.79h0M209.82 217.79h0M213.15 217.79h0M186.51 220.87h0M189.84 220.87h0M193.17 220.87h0M196.5 220.87h0M199.83 220.87h0M203.16 220.87h0M206.49 220.87h0M209.82 220.87h0M213.15 220.87h0M173.19 223.95h0M176.52 223.95h0M179.85 223.95h0M183.18 223.95h0M186.51 223.95h0M189.84 223.95h0M193.17 223.95h0M196.5 223.95h0M199.83 223.95h0M203.16 223.95h0M173.19 227.03h0M176.52 227.03h0M179.85 227.03h0M183.18 227.03h0M186.51 227.03h0"/>
<path stroke="#ff4724" d="M206.49 223.95h0M209.82 223.95h0M213.15 223.95h0M189.84 227.03h0M193.17 227.03h0M196.5 227.03h0M199.83 227.03h0M203.16 227.03h0M206.49 227.03h0M209.82 227.03h0M213.15 227.03h0M173.19 230.11h0M176.52 230.11h0M179.85 230.11h0M183.18 230.11h0M186.51 230.11h0M189.84 230.11h0M193.17 230.11h0M196.5 230.11h0M199.83 230.11h0M203.16 230.11h0M206.49 230.11h0M176.52 233.19h0M179.85 233.19h0M183.18 233.19h0M186.51 233.19h0M189.84 233.19h0M193.17 233.19h0"/>
<path stroke="#1b94f3" d="M50 227.03h0M53.33 227.03h0M56.66 227.03h0M59.99 227.03h0M63.32 227.03h0M66.65 227.03h0M69.98 227.03h0M73.31 227.03h0M76.64 227.03h0M79.97 227.03h0M83.3 227.03h0M86.63 227.03h0M89.96 227.03h0M93.28 227.03h0M96.61 227.03h0M99.94 227.03h0M103.27 227.03h0M106.6 227.03h0M109.93 227.03h0M113.26 227.03h0M116.59 227.03h0M119.92 227.03h0M123.25 227.03h0M126.58 227.03h0M129.91 227.03h0M133.24 227.03h0M136.57 227.03h0M139.9 227.03h0M143.23 227.03h0M146.56 227.03h0M149.89 227.03h0M153.22 227.03h0M156.55 227.03h0M159.88 227.03h0M163.21 227.03h0M166.54 227.03h0M169.87 227.03h0M50 230.11h0M53.33 230.11h0M56.66 230.11h0M59.99 230.11h0M63.32 230.11h0M66.65 230.11h0M69.98 230.11h0M73.31 230.11h0M76.64 230.11h0M79.97 230.11h0M83.3 230.11h0M86.63 230.11h0M89.96 230.11h0M93.28 230.11h0M96.61 230.11h0M99.94 230.11h0M103.27 230.11h0M106.6 230.11h0M109.93 230.11h0M113.26 230.11h0M116.59 230.11h0M119.92 230.11h0M123.25 230.11h0M126.58 230.11h0M129.91 230.11h0M133.24 230.11h0M136.57 230.11h0M139.9 230.11h0M143.23 230.11h0M146.56 230.11h0M149.89 230.11h0M153.22 230.11h0M156.55 230.11h0M159.88 230.11h0M163.21 230.11h0M166.54 230.11h0M169.87 230.11h0M50 233.19h0M53.33 233.19h0M56.66 233.19h0M59.99 233.19h0M63.32 233.19h0M66.65 233.19h0M69.98 233.19h0M73.31 233.19h0M76.64 233.19h0M79.97 233.19h0M83.3 233.19h0M86.63 233.19h0M89.96 233.19h0M93.28 233.19h0M96.61 233.19h0M99.94 233.19h0M103.27 233.19h0M106.6 233.19h0M109.93 233.19h0M113.26 233.19h0M116.59 233.19h0M119.92 233.19h0M123.25 233.19h0M126.58 233.19h0M129.91 233.19h0M133.24 233.19h0M136.57 233.19h0M139.9 233.19h0M143.23 233.19h0M146.56 233.19h0M149.89 233.19h0M153.22 233.19h0M156.55 233.19h0M159.88 233.19h0M163.21 233.19h0M166.54 233.19h0M169.87 233.19h0M173.19 233.19h0M50 236.27h0M53.33 236.27h0M56.66 236.27h0M59.99 236.27h0M63.32 236.27h0M66.65 236.27h0M69.98 236.27h0M73.31 236.27h0M76.64 236.27h0M79.97 236.27h0M83.3 236.27h0M86.63 236.27h0M89.96 236.27h0M93.28 236.27h0M96.61 236.27h0M99.94 236.27h0M103.27 236.27h0M106.6 236.27h0M109.93 236.27h0M113.26 236.27h0M116.59 236.27h0M119.92 236.27h0M123.25 236.27h0M126.58 236.27h0M129.91 236.27h0M133.24 236.27h0M136.57 236.27h0M139.9 236.27h0M143.23 236.27h0M146.56 236.27h0M149.89 236.27h0M153.22 236.27h0M156.55 236.27h0M159.88 236.27h0M163.21 236.27h0M166.54 236.27h0M169.87 236.27h0M173.19 236.27h0"/>
<path stroke="#ff4d27" d="M209.82 230.11h0M213.15 230.11h0M196.5 233.19h0M199.83 233.19h0M203.16 233.19h0M206.49 233.19h0M209.82 233.19h0M213.15 233.19h0M176.52 236.27h0M179.85 236.27h0M183.18 236.27h0M186.51 236.27h0M189.84 236.27h0M193.17 236.27h0M196.5 236.27h0M199.83 236.27h0M203.16 236.27h0M206.49 236.27h0M209.82 236.27h0M179.85 239.36h0M183.18 239.36h0M186.51 239.36h0M189.84 239.36h0M193.17 239.36h0"/>
<path stroke="#ff532a" d="M213.15 236.27h0M196.5 239.36h0M199.83 239.36h0M203.16 239.36h0M206.49 239.36h0M209.82 239.36h0M213.15 239.36h0M183.18 242.44h0M186.51 242.44h0M189.84 242.44h0M193.17 242.44h0M196.5 242.44h0M199.83 242.44h0M203.16 242.44h0M206.49 242.44h0M209.82 242.44h0M196.5 245.52h0"/>
<path stroke="#1f8ff4" d="M50 239.36h0M53.33 239.36h0M56.66 239.36h0M59.99 239.36h0M63.32 239.36h0M66.65 239.36h0M69.98 239.36h0M73.31 239.36h0M76.64 239.36h0M79.97 239.36h0M83.3 239.36h0M86.63 239.36h0M89.96 239.36h0M93.28 239.36h0M96.61 239.36h0M99.94 239.36h0M103.27 239.36h0M106.6 239.36h0M109.93 239.36h0M113.26 239.36h0M116.59 239.36h0M119.92 239.36h0M123.25 239.36h0M126.58 239.36h0M129.91 239.36h0M133.24 239.36h0M136.57 239.36h0M139.9 239.36h0M143.23 239.36h0M146.56 239.36h0M149.89 239.36h0M153.22 239.36h0M156.55 239.36h0M159.88 239.36h0M163.21 239.36h0M166.54 239.36h0M169.87 239.36h0M173.19 239.36h0M176.52 239.36h0M50 242.44h0M53.33 242.44h0M56.66 242.44h0M59.99 242.44h0M63.32 242.44h0M66.65 242.44h0M69.98 242.44h0M73.31 242.44h0M76.64 242.44h0M79.97 242.44h0M83.3 242.44h0M86.63 242.44h0M89.96 242.44h0M93.28 242.44h0M96.61 242.44h0M99.94 242.44h0M103.27 242.44h0M106.6 242.44h0M109.93 242.44h0M113.26 242.44h0M116.59 242.44h0M119.92 242.44h0M123.25 242.44h0M126.58 242.44h0M129.91 242.44h0M133.24 242.44h0M136.57 242.44h0M139.9 242.44h0M143.23 242.44h0M146.56 242.44h0M149.89 242.44h0M153.22 242.44h0M156.55 242.44h0M159.88 242.44h0M163.21 242.44h0M166.54 242.44h0M169.87 242.44h0M173.19 242.44h0M176.52 242.44h0M179.85 242.44h0M50 245.52h0M53.33 245.52h0M56.66 245.52h0M59.99 245.52h0M63.32 245.52h0M66.65 245.52h0M69.98 245.52h0M73.31 245.52h0M76.64 245.52h0M79.97 245.52h0M83.3 245.52h0M86.63 245.52h0M89.96 245.52h0M93.28 245.52h0M96.61 245.52h0M99.94 245.52h0M103.27 245.52h0M106.6 245.52h0M109.93 245.52h0M113.26 245.52h0M116.59 245.52h0M119.92 245.52h0M123.25 245.52h0M126.58 245.52h0M129.91 245.52h0M133.24 245.52h0M136.57 245.52h0M139.9 245.52h0M143.23 245.52h0M146.56 245.52h0M149.89 245.52h0M153.22 245.52h0M156.55 245.52h0M159.88 245.52h0M163.21 245.52h0M166.54 245.52h0M169.87 245.52h0M173.19 245.52h0M176.52 245.52h0M179.85 245.52h0M183.18 245.52h0M186.51 245.52h0M189.84 245.52h0M193.17 245.52h0M199.83 245.52h0M203.16 245.52h0M50 248.6h0M53.33 248.6h0M56.66 248.6h0M59.99 248.6h0M63.32 248.6h0M66.65 248.6h0M69.98 248.6h0M73.31 248.6h0M76.64 248.6h0M79.97 248.6h0M83.3 248.6h0M86.63 248.6h0M89.96 248.6h0M93.28 248.6h0M96.61 248.6h0M99.94 248.6h0M103.27 248.6h0M106.6 248.6h0M109.93 248.6h0M113.26 248.6h0M116.59 248.6h0M119.92 248.6h0M123.25 248.6h0M126.58 248.6h0M129.91 248.6h0M133.24 248.6h0M136.57 248.6h0M139.9 248.6h0M143.23 248.6h0M146.56 248.6h0M149.89 248.6h0M153.22 248.6h0M156.55 248.6h0M159.88 248.6h0M163.21 248.6h0M166.54 248.6h0M169.87 248.6h0M173.19 248.6h0M176.52 248.6h0M179.85 248.6h0M183.18 248.6h0M186.51 248.6h0M189.84 248.6h0M193.17 248.6h0M196.5 248.6h0M199.83 248.6h0M203.16 248.6h0M206.49 248.6h0M209.82 248.6h0M213.15 248.6h0"/>
<path stroke="#ff582d" d="M213.15 242.44h0M206.49 245.52h0M209.82 245.52h0M213.15 245.52h0"/>
<path stroke="#228af5" d="M50 251.68h0M53.33 251.68h0M56.66 251.68h0M59.99 251.68h0M63.32 251.68h0M66.65 251.68h0M69.98 251.68h0M73.31 251.68h0M76.64 251.68h0M79.97 251.68h0M83.3 251.68h0M86.63 251.68h0M89.96 251.68h0M93.28 251.68h0M96.61 251.68h0M99.94 251.68h0M103.27 251.68h0M106.6 251.68h0M109.93 251.68h0M113.26 251.68h0M116.59 251.68h0M119.92 251.68h0M123.25 251.68h0M126.58 251.68h0M129.91 251.68h0M133.24 251.68h0M136.57 251.68h0M139.9 251.68h0M143.23 251.68h0M146.56 251.68h0M149.89 251.68h0M153.22 251.68h0M156.55 251.68h0M159.88 251.68h0M163.21 251.68h0M166.54 251.68h0M169.87 251.68h0M173.19 251.68h0M176.52 251.68h0M179.85 251.68h0M183.18 251.68h0M186.51 251.68h0M189.84 251.68h0M193.17 251.68h0M196.5 251.68h0M199.83 251.68h0M203.16 251.68h0M206.49 251.68h0M209.82 251.68h0M213.15 251.68h0M50 254.76h0M53.33 254.76h0M56.66 254.76h0M59.99 254.76h0M63.32 254.76h0M66.65 254.76h0M69.98 254.76h0M73.31 254.76h0M76.64 254.76h0M79.97 254.76h0M83.3 254.76h0M86.63 254.76h0M89.96 254.76h0M93.28 254.76h0M96.61 254.76h0M99.94 254.76h0M103.27 254.76h0M106.6 254.76h0M109.93 254.76h0M113.26 254.76h0M116.59 254.76h0M119.92 254.76h0M123.25 254.76h0M126.58 254.76h0M129.91 254.76h0M133.24 254.76h0M136.57 254.76h0M139.9 254.76h0M143.23 254.76h0M146.56 254.76h0M149.89 254.76h0M153.22 254.76h0M156.55 254.76h0M159.88 254.76h0M163.21 254.76h0M166.54 254.76h0M169.87 254.76h0M173.19 254.76h0M176.52 254.76h0M179.85 254.76h0M183.18 254.76h0M186.51 254.76h0M189.84 254.76h0M193.17 254.76h0M196.5 254.76h0M199.83 254.76h0M203.16 254.76h0M206.49 254.76h0M209.82 254.76h0M213.15 254.76h0M50 257.84h0M53.33 257.84h0M56.66 257.84h0M59.99 257.84h0M63.32 257.84h0M66.65 257.84h0M69.98 257.84h0M73.31 257.84h0M76.64 257.84h0M79.97 257.84h0M83.3 257.84h0M86.63 257.84h0M89.96 257.84h0M93.28 257.84h0M96.61 257.84h0M99.94 257.84h0M103.27 257.84h0M106.6 257.84h0M109.93 257.84h0M113.26 257.84h0M116.59 257.84h0M119.92 257.84h0M123.25 257.84h0M126.58 257.84h0M129.91 257.84h0M133.24 257.84h0M136.57 257.84h0M139.9 257.84h0M143.23 257.84h0M146.56 257.84h0M149.89 257.84h0M153.22 257.84h0M156.55 257.84h0M159.88 257.84h0M163.21 257.84h0M166.54 257.84h0M169.87 257.84h0M173.19 257.84h0M176.52 257.84h0M179.85 257.84h0M183.18 257.84h0M186.51 257.84h0M189.84 257.84h0M193.17 257.84h0M196.5 257.84h0M199.83 257.84h0M203.16 257.84h0M206.49 257.84h0M209.82 257.84h0M213.15 257.84h0M50 260.92h0M53.33 260.92h0M56.66 260.92h0M59.99 260.92h0M63.32 260.92h0M66.65 260.92h0M69.98 260.92h0M73.31 260.92h0M76.64 260.92h0M79.97 260.92h0M83.3 260.92h0M86.63 260.92h0M89.96 260.92h0M93.28 260.92h0M96.61 260.92h0M99.94 260.92h0M103.27 260.92h0M106.6 260.92h0M109.93 260.92h0M113.26 260.92h0M116.59 260.92h0M119.92 260.92h0M123.25 260.92h0M126.58 260.92h0M129.91 260.92h0M133.24 260.92h0M136.57 260.92h0M139.9 260.92h0M143.23 260.92h0M146.56 260.92h0M149.89 260.92h0M153.22 260.92h0M156.55 260.92h0M159.88 260.92h0M163.21 260.92h0M166.54 260.92h0M169.87 260.92h0M173.19 260.92h0M176.52 260.92h0M179.85 260.92h0M183.18 260.92h0M186.51 260.92h0M189.84 260.92h0M193.17 260.92h0M196.5 260.92h0M199.83 260.92h0M203.16 260.92h0M206.49 260.92h0M209.82 260.92h0M213.15 260.92h0"/>
<path stroke="#2685f5" d="M50 264h0M53.33 264h0M56.66 264h0M59.99 264h0M63.32 264h0M66.65 264h0M69.98 264h0M73.31 264h0M76.64 264h0M79.97 264h0M83.3 264h0M86.63 264h0M89.96 264h0M93.28 264h0M96.61 264h0M99.94 264h0M103.27 264h0M106.6 264h0M109.93 264h0M113.26 264h0M116.59 264h0M119.92 264h0M123.25 264h0M126.58 264h0M129.91 264h0M133.24 264h0M136.57 264h0M139.9 264h0M143.23 264h0M146.56 264h0M149.89 264h0M153.22 264h0M156.55 264h0M159.88 264h0M163.21 264h0M166.54 264h0M169.87 264h0M173.19 264h0M176.52 264h0M179.85 264h0M183.18 264h0M186.51 264h0M189.84 264h0M193.17 264h0M196.5 264h0M199.83 264h0M203.16 264h0M206.49 264h0M209.82 264h0M213.15 264h0"/>
</g>
<path d="M50.5 130.39L53.83 130.39L57.16 130.39L60.49 130.39L63.82 130.39L67.15 130.39L70.48 130.39L73.81 130.39L77.14 130.39L80.47 130.39L83.8 130.39L87.13 130.39L90.46 130.39L93.78 130.39L97.11 130.39L100.44 130.39L103.77 130.39L105.44 131.93L107.1 133.47L110.43 133.47L113.76 133.47L117.09 133.47L120.42 133.47L123.75 133.47L127.08 133.47L128.75 135.01L130.41 136.55L133.74 136.55L137.07 136.55L138.73 138.09L140.4 139.64L142.06 141.18L143.73 142.72L145.39 144.26L147.06 145.8L148.72 147.34L150.39 148.88L152.05 150.42L152.05 153.5L153.72 155.04L155.38 156.58L157.05 158.12L158.71 159.66L160.38 161.2L162.04 162.74L162.04 165.82L162.04 168.9L162.04 171.98L162.04 175.06L162.04 178.14L163.71 179.68L165.37 181.22L165.37 184.3L165.37 187.38L165.37 190.47L165.37 193.55L165.37 196.63L165.37 199.71L165.37 202.79L167.04 204.33L168.7 205.87L168.7 208.95L168.7 212.03L168.7 215.11L168.7 218.19L168.7 221.27L170.37 222.81L172.03 224.35L172.03 227.43L172.03 230.51L173.69 232.05L175.36 233.59L175.36 236.67L177.02 238.21L178.69 239.76L180.35 241.3L182.02 242.84L183.68 244.38L187.01 244.38L190.34 244.38L193.67 244.38L195.34 245.92L197 247.46L198.67 245.92L200.33 244.38L203.66 244.38L205.33 245.92L206.99 247.46L210.32 247.46L213.65 247.46" stroke="#000" stroke-width="1.1" fill="none" stroke-linejoin="round" stroke-linecap="round"/>
<rect x="42.15" y="105.7" width="179.4" height="165.75" fill="none" stroke="#505050" stroke-width="0.8"/>
<path d="M50 271.45v3M82.63 271.45v3M115.26 271.45v3M147.89 271.45v3M180.52 271.45v3M213.15 271.45v3M42.15 130.81h-3M42.15 175.21h-3M42.15 219.6h-3M42.15 264h-3" stroke="#5a5a5a" stroke-width="0.9" fill="none"/>
<text x="39.1" y="291.55" font-size="12">10</text>
<text y="285.25" font-size="8"><tspan x="53.3">−</tspan><tspan x="59.7">2</tspan></text>
<text x="71.73" y="291.55" font-size="12">10</text>
<text y="285.25" font-size="8"><tspan x="85.93">−</tspan><tspan x="92.33">1</tspan></text>
<text x="108.96" y="291.55" font-size="12">10</text>
<text x="121.16" y="285.25" font-size="8">0</text>
<text x="141.59" y="291.55" font-size="12">10</text>
<text x="153.79" y="285.25" font-size="8">1</text>
<text x="174.22" y="291.55" font-size="12">10</text>
<text x="186.42" y="285.25" font-size="8">2</text>
<text x="206.85" y="291.55" font-size="12">10</text>
<text x="219.05" y="285.25" font-size="8">3</text>
<text x="37.6" y="134.81" font-size="12" text-anchor="end">50</text>
<text x="37.6" y="179.21" font-size="12" text-anchor="end">45</text>
<text x="37.6" y="223.6" font-size="12" text-anchor="end">40</text>
<text x="37.6" y="268" font-size="12" text-anchor="end">35</text>
<path d="M240.1 105.7V271.45M272.73 105.7V271.45M305.36 105.7V271.45M337.99 105.7V271.45M370.62 105.7V271.45M403.25 105.7V271.45M232.45 130.81H411.65M232.45 175.21H411.65M232.45 219.6H411.65M232.45 264H411.65" stroke="#ececec" stroke-width="0.7" fill="none"/>
<g stroke-linecap="round" stroke-width="2.5" fill="none">
<path stroke="#ff0000" d="M240.1 113.05h0M243.43 113.05h0M246.76 113.05h0M250.09 113.05h0M253.42 113.05h0M256.75 113.05h0M260.08 113.05h0M263.41 113.05h0M266.74 113.05h0M270.07 113.05h0M273.4 113.05h0M276.73 113.05h0M280.06 113.05h0M283.38 113.05h0M286.71 113.05h0M290.04 113.05h0M293.37 113.05h0M296.7 113.05h0M300.03 113.05h0M303.36 113.05h0M306.69 113.05h0M310.02 113.05h0M313.35 113.05h0M316.68 113.05h0M320.01 113.05h0M323.34 113.05h0M326.67 113.05h0M330 113.05h0M333.33 113.05h0M336.66 113.05h0M339.99 113.05h0M343.32 113.05h0M346.65 113.05h0M349.98 113.05h0M353.31 113.05h0M356.64 113.05h0M359.97 113.05h0M363.29 113.05h0M366.62 113.05h0M369.95 113.05h0M373.28 113.05h0M376.61 113.05h0M379.94 113.05h0M383.27 113.05h0M386.6 113.05h0M389.93 113.05h0M393.26 113.05h0M396.59 113.05h0M399.92 113.05h0M403.25 113.05h0M240.1 116.13h0M243.43 116.13h0M246.76 116.13h0M250.09 116.13h0M253.42 116.13h0M256.75 116.13h0M260.08 116.13h0M263.41 116.13h0M266.74 116.13h0M270.07 116.13h0M273.4 116.13h0M276.73 116.13h0M280.06 116.13h0M283.38 116.13h0M286.71 116.13h0M290.04 116.13h0M293.37 116.13h0M296.7 116.13h0M300.03 116.13h0M303.36 116.13h0M306.69 116.13h0M310.02 116.13h0M313.35 116.13h0M316.68 116.13h0M320.01 116.13h0M323.34 116.13h0M326.67 116.13h0M330 116.13h0M333.33 116.13h0M336.66 116.13h0M339.99 116.13h0M343.32 116.13h0M346.65 116.13h0M349.98 116.13h0M353.31 116.13h0M356.64 116.13h0M359.97 116.13h0M363.29 116.13h0M366.62 116.13h0M369.95 116.13h0M373.28 116.13h0M376.61 116.13h0M379.94 116.13h0M383.27 116.13h0M386.6 116.13h0M389.93 116.13h0M393.26 116.13h0M396.59 116.13h0M399.92 116.13h0M403.25 116.13h0M240.1 119.21h0M243.43 119.21h0M246.76 119.21h0M250.09 119.21h0M253.42 119.21h0M256.75 119.21h0M260.08 119.21h0M263.41 119.21h0M266.74 119.21h0M270.07 119.21h0M273.4 119.21h0M276.73 119.21h0M280.06 119.21h0M283.38 119.21h0M286.71 119.21h0M290.04 119.21h0M293.37 119.21h0M296.7 119.21h0M300.03 119.21h0M303.36 119.21h0M306.69 119.21h0M310.02 119.21h0M313.35 119.21h0M316.68 119.21h0M320.01 119.21h0M323.34 119.21h0M326.67 119.21h0M330 119.21h0M333.33 119.21h0M336.66 119.21h0M339.99 119.21h0M343.32 119.21h0M346.65 119.21h0M349.98 119.21h0M353.31 119.21h0M356.64 119.21h0M359.97 119.21h0M363.29 119.21h0M366.62 119.21h0M369.95 119.21h0M373.28 119.21h0M376.61 119.21h0M379.94 119.21h0M383.27 119.21h0M386.6 119.21h0M389.93 119.21h0M393.26 119.21h0M396.59 119.21h0M399.92 119.21h0M403.25 119.21h0M240.1 122.29h0M243.43 122.29h0M246.76 122.29h0M250.09 122.29h0M253.42 122.29h0M256.75 122.29h0M260.08 122.29h0M263.41 122.29h0M266.74 122.29h0M270.07 122.29h0M273.4 122.29h0M276.73 122.29h0M280.06 122.29h0M283.38 122.29h0M286.71 122.29h0M290.04 122.29h0M293.37 122.29h0M296.7 122.29h0M300.03 122.29h0M303.36 122.29h0M306.69 122.29h0M310.02 122.29h0M313.35 122.29h0M316.68 122.29h0M320.01 122.29h0M323.34 122.29h0M326.67 122.29h0M330 122.29h0M333.33 122.29h0M336.66 122.29h0M339.99 122.29h0M343.32 122.29h0M346.65 122.29h0M349.98 122.29h0M353.31 122.29h0M356.64 122.29h0M359.97 122.29h0M363.29 122.29h0M366.62 122.29h0M369.95 122.29h0M373.28 122.29h0M376.61 122.29h0M379.94 122.29h0M383.27 122.29h0M386.6 122.29h0M389.93 122.29h0M393.26 122.29h0M396.59 122.29h0M399.92 122.29h0M403.25 122.29h0M240.1 125.37h0M243.43 125.37h0M246.76 125.37h0M250.09 125.37h0M253.42 125.37h0M256.75 125.37h0M260.08 125.37h0M263.41 125.37h0M266.74 125.37h0M270.07 125.37h0M273.4 125.37h0M276.73 125.37h0M280.06 125.37h0M283.38 125.37h0M286.71 125.37h0M290.04 125.37h0M293.37 125.37h0M296.7 125.37h0M300.03 125.37h0M303.36 125.37h0M306.69 125.37h0M310.02 125.37h0M313.35 125.37h0M316.68 125.37h0M320.01 125.37h0M323.34 125.37h0M326.67 125.37h0M330 125.37h0M333.33 125.37h0M336.66 125.37h0M339.99 125.37h0M343.32 125.37h0M346.65 125.37h0M349.98 125.37h0M353.31 125.37h0M356.64 125.37h0M359.97 125.37h0M363.29 125.37h0M366.62 125.37h0M369.95 125.37h0M373.28 125.37h0M376.61 125.37h0M379.94 125.37h0M383.27 125.37h0M386.6 125.37h0M389.93 125.37h0M393.26 125.37h0M396.59 125.37h0M399.92 125.37h0M403.25 125.37h0M240.1 128.45h0M243.43 128.45h0M246.76 128.45h0M250.09 128.45h0M253.42 128.45h0M256.75 128.45h0M260.08 128.45h0M263.41 128.45h0M266.74 128.45h0M270.07 128.45h0M273.4 128.45h0M276.73 128.45h0M280.06 128.45h0M283.38 128.45h0M286.71 128.45h0M290.04 128.45h0M293.37 128.45h0M296.7 128.45h0M300.03 128.45h0M303.36 128.45h0M306.69 128.45h0M310.02 128.45h0M313.35 128.45h0M316.68 128.45h0M320.01 128.45h0M323.34 128.45h0M326.67 128.45h0M330 128.45h0M333.33 128.45h0M336.66 128.45h0M339.99 128.45h0M343.32 128.45h0M346.65 128.45h0M349.98 128.45h0M353.31 128.45h0M356.64 128.45h0M359.97 128.45h0M363.29 128.45h0M366.62 128.45h0M369.95 128.45h0M373.28 128.45h0M376.61 128.45h0M379.94 128.45h0M383.27 128.45h0M386.6 128.45h0M389.93 128.45h0M393.26 128.45h0M396.59 128.45h0M399.92 128.45h0M403.25 128.45h0M296.7 131.53h0M300.03 131.53h0M303.36 131.53h0M306.69 131.53h0M310.02 131.53h0M313.35 131.53h0M316.68 131.53h0M320.01 131.53h0M323.34 131.53h0M326.67 131.53h0M330 131.53h0M333.33 131.53h0M336.66 131.53h0M339.99 131.53h0M343.32 131.53h0M346.65 131.53h0M349.98 131.53h0M353.31 131.53h0M356.64 131.53h0M359.97 131.53h0M363.29 131.53h0M366.62 131.53h0M369.95 131.53h0M373.28 131.53h0M376.61 131.53h0M379.94 131.53h0M383.27 131.53h0M386.6 131.53h0M389.93 131.53h0M393.26 131.53h0M396.59 131.53h0M399.92 131.53h0M403.25 131.53h0M320.01 134.61h0M323.34 134.61h0M326.67 134.61h0M330 134.61h0M333.33 134.61h0M336.66 134.61h0M339.99 134.61h0M343.32 134.61h0M346.65 134.61h0M349.98 134.61h0M353.31 134.61h0M356.64 134.61h0M359.97 134.61h0M363.29 134.61h0M366.62 134.61h0M369.95 134.61h0M373.28 134.61h0M376.61 134.61h0M379.94 134.61h0M383.27 134.61h0M386.6 134.61h0M389.93 134.61h0M393.26 134.61h0M396.59 134.61h0M399.92 134.61h0M403.25 134.61h0M330 137.69h0M333.33 137.69h0M336.66 137.69h0M339.99 137.69h0M343.32 137.69h0M346.65 137.69h0M349.98 137.69h0M353.31 137.69h0M356.64 137.69h0M359.97 137.69h0M363.29 137.69h0M366.62 137.69h0M369.95 137.69h0M373.28 137.69h0M376.61 137.69h0M379.94 137.69h0"/>
<path stroke="#00b4ec" d="M240.1 131.53h0M243.43 131.53h0M246.76 131.53h0M250.09 131.53h0M253.42 131.53h0M256.75 131.53h0M260.08 131.53h0M263.41 131.53h0M266.74 131.53h0M270.07 131.53h0M273.4 131.53h0M276.73 131.53h0M280.06 131.53h0M283.38 131.53h0M286.71 131.53h0M290.04 131.53h0M293.37 131.53h0M240.1 134.61h0M243.43 134.61h0M246.76 134.61h0M250.09 134.61h0M253.42 134.61h0M256.75 134.61h0M260.08 134.61h0M263.41 134.61h0M266.74 134.61h0M270.07 134.61h0M273.4 134.61h0M276.73 134.61h0M280.06 134.61h0M283.38 134.61h0M286.71 134.61h0M290.04 134.61h0M293.37 134.61h0M296.7 134.61h0M300.03 134.61h0M303.36 134.61h0M306.69 134.61h0M310.02 134.61h0M313.35 134.61h0M316.68 134.61h0"/>
<path stroke="#04b0ed" d="M240.1 137.69h0M243.43 137.69h0M246.76 137.69h0M250.09 137.69h0M253.42 137.69h0M256.75 137.69h0M260.08 137.69h0M263.41 137.69h0M266.74 137.69h0M270.07 137.69h0M273.4 137.69h0M276.73 137.69h0M280.06 137.69h0M283.38 137.69h0M286.71 137.69h0M290.04 137.69h0M293.37 137.69h0M296.7 137.69h0M300.03 137.69h0M303.36 137.69h0M306.69 137.69h0M310.02 137.69h0M313.35 137.69h0M316.68 137.69h0M320.01 137.69h0M323.34 137.69h0M326.67 137.69h0M240.1 140.78h0M243.43 140.78h0M246.76 140.78h0M250.09 140.78h0M253.42 140.78h0M256.75 140.78h0M260.08 140.78h0M263.41 140.78h0M266.74 140.78h0M270.07 140.78h0M273.4 140.78h0M276.73 140.78h0M280.06 140.78h0M283.38 140.78h0M286.71 140.78h0M290.04 140.78h0M293.37 140.78h0M296.7 140.78h0M300.03 140.78h0M303.36 140.78h0M306.69 140.78h0M310.02 140.78h0M313.35 140.78h0M316.68 140.78h0M320.01 140.78h0M323.34 140.78h0M326.67 140.78h0M330 140.78h0M240.1 143.86h0M243.43 143.86h0M246.76 143.86h0M250.09 143.86h0M253.42 143.86h0M256.75 143.86h0M260.08 143.86h0M263.41 143.86h0M266.74 143.86h0M270.07 143.86h0M273.4 143.86h0M276.73 143.86h0M280.06 143.86h0M283.38 143.86h0M286.71 143.86h0M290.04 143.86h0M293.37 143.86h0M296.7 143.86h0M300.03 143.86h0M303.36 143.86h0M306.69 143.86h0M310.02 143.86h0M313.35 143.86h0M316.68 143.86h0M320.01 143.86h0M323.34 143.86h0M326.67 143.86h0M330 143.86h0M333.33 143.86h0M353.31 143.86h0M240.1 146.94h0M243.43 146.94h0M246.76 146.94h0M250.09 146.94h0M253.42 146.94h0M256.75 146.94h0M260.08 146.94h0M263.41 146.94h0M266.74 146.94h0M270.07 146.94h0M273.4 146.94h0M276.73 146.94h0M280.06 146.94h0M283.38 146.94h0M286.71 146.94h0M290.04 146.94h0M293.37 146.94h0M296.7 146.94h0M300.03 146.94h0M303.36 146.94h0M306.69 146.94h0M310.02 146.94h0M313.35 146.94h0M316.68 146.94h0M320.01 146.94h0M323.34 146.94h0M326.67 146.94h0M330 146.94h0M333.33 146.94h0M336.66 146.94h0M353.31 146.94h0M240.1 150.02h0M243.43 150.02h0M246.76 150.02h0M250.09 150.02h0M253.42 150.02h0M256.75 150.02h0M260.08 150.02h0M263.41 150.02h0M266.74 150.02h0M270.07 150.02h0M273.4 150.02h0M276.73 150.02h0M280.06 150.02h0M283.38 150.02h0M286.71 150.02h0M290.04 150.02h0M293.37 150.02h0M296.7 150.02h0M300.03 150.02h0M303.36 150.02h0M306.69 150.02h0M310.02 150.02h0M313.35 150.02h0M316.68 150.02h0M320.01 150.02h0M323.34 150.02h0M326.67 150.02h0M330 150.02h0M333.33 150.02h0M336.66 150.02h0M339.99 150.02h0M353.31 150.02h0M240.1 153.1h0M243.43 153.1h0M246.76 153.1h0M250.09 153.1h0M253.42 153.1h0M256.75 153.1h0M260.08 153.1h0M263.41 153.1h0M266.74 153.1h0M270.07 153.1h0M273.4 153.1h0M276.73 153.1h0M280.06 153.1h0M283.38 153.1h0M286.71 153.1h0M290.04 153.1h0M293.37 153.1h0M296.7 153.1h0M300.03 153.1h0M303.36 153.1h0M306.69 153.1h0M310.02 153.1h0M313.35 153.1h0M316.68 153.1h0M320.01 153.1h0M323.34 153.1h0M326.67 153.1h0M330 153.1h0M333.33 153.1h0M336.66 153.1h0M339.99 153.1h0M343.32 153.1h0M353.31 153.1h0"/>
<path stroke="#ff0603" d="M383.27 137.69h0M386.6 137.69h0M389.93 137.69h0M393.26 137.69h0M396.59 137.69h0M399.92 137.69h0M403.25 137.69h0M333.33 140.78h0M336.66 140.78h0M339.99 140.78h0M343.32 140.78h0M346.65 140.78h0M349.98 140.78h0M353.31 140.78h0M356.64 140.78h0M359.97 140.78h0M363.29 140.78h0M366.62 140.78h0M369.95 140.78h0M373.28 140.78h0M376.61 140.78h0M379.94 140.78h0M383.27 140.78h0M386.6 140.78h0M389.93 140.78h0M393.26 140.78h0M396.59 140.78h0M399.92 140.78h0M403.25 140.78h0M336.66 143.86h0M339.99 143.86h0M343.32 143.86h0M346.65 143.86h0M349.98 143.86h0M356.64 143.86h0M359.97 143.86h0M363.29 143.86h0M366.62 143.86h0M369.95 143.86h0M373.28 143.86h0M376.61 143.86h0M379.94 143.86h0M383.27 143.86h0M386.6 143.86h0M389.93 143.86h0M393.26 143.86h0M396.59 143.86h0M399.92 143.86h0M403.25 143.86h0M339.99 146.94h0M343.32 146.94h0M346.65 146.94h0M349.98 146.94h0M356.64 146.94h0M359.97 146.94h0M363.29 146.94h0M366.62 146.94h0M369.95 146.94h0M373.28 146.94h0M376.61 146.94h0M379.94 146.94h0M383.27 146.94h0M386.6 146.94h0M389.93 146.94h0"/>
<path stroke="#ff0c06" d="M393.26 146.94h0M396.59 146.94h0M399.92 146.94h0M403.25 146.94h0M343.32 150.02h0M346.65 150.02h0M349.98 150.02h0M356.64 150.02h0M359.97 150.02h0M363.29 150.02h0M366.62 150.02h0M369.95 150.02h0M373.28 150.02h0M376.61 150.02h0M379.94 150.02h0M383.27 150.02h0M386.6 150.02h0M389.93 150.02h0M393.26 150.02h0M396.59 150.02h0M399.92 150.02h0M403.25 150.02h0M346.65 153.1h0M349.98 153.1h0M356.64 153.1h0M359.97 153.1h0M363.29 153.1h0M366.62 153.1h0M369.95 153.1h0M373.28 153.1h0M376.61 153.1h0M379.94 153.1h0M383.27 153.1h0M386.6 153.1h0M389.93 153.1h0M393.26 153.1h0M396.59 153.1h0M399.92 153.1h0M403.25 153.1h0M346.65 156.18h0M349.98 156.18h0M356.64 156.18h0M359.97 156.18h0M363.29 156.18h0M366.62 156.18h0M369.95 156.18h0M373.28 156.18h0M376.61 156.18h0M379.94 156.18h0M383.27 156.18h0M386.6 156.18h0M389.93 156.18h0M346.65 159.26h0"/>
<path stroke="#08acee" d="M240.1 156.18h0M243.43 156.18h0M246.76 156.18h0M250.09 156.18h0M253.42 156.18h0M256.75 156.18h0M260.08 156.18h0M263.41 156.18h0M266.74 156.18h0M270.07 156.18h0M273.4 156.18h0M276.73 156.18h0M280.06 156.18h0M283.38 156.18h0M286.71 156.18h0M290.04 156.18h0M293.37 156.18h0M296.7 156.18h0M300.03 156.18h0M303.36 156.18h0M306.69 156.18h0M310.02 156.18h0M313.35 156.18h0M316.68 156.18h0M320.01 156.18h0M323.34 156.18h0M326.67 156.18h0M330 156.18h0M333.33 156.18h0M336.66 156.18h0M339.99 156.18h0M343.32 156.18h0M353.31 156.18h0M240.1 159.26h0M243.43 159.26h0M246.76 159.26h0M250.09 159.26h0M253.42 159.26h0M256.75 159.26h0M260.08 159.26h0M263.41 159.26h0M266.74 159.26h0M270.07 159.26h0M273.4 159.26h0M276.73 159.26h0M280.06 159.26h0M283.38 159.26h0M286.71 159.26h0M290.04 159.26h0M293.37 159.26h0M296.7 159.26h0M300.03 159.26h0M303.36 159.26h0M306.69 159.26h0M310.02 159.26h0M313.35 159.26h0M316.68 159.26h0M320.01 159.26h0M323.34 159.26h0M326.67 159.26h0M330 159.26h0M333.33 159.26h0M336.66 159.26h0M339.99 159.26h0M343.32 159.26h0M353.31 159.26h0M240.1 162.34h0M243.43 162.34h0M246.76 162.34h0M250.09 162.34h0M253.42 162.34h0M256.75 162.34h0M260.08 162.34h0M263.41 162.34h0M266.74 162.34h0M270.07 162.34h0M273.4 162.34h0M276.73 162.34h0M280.06 162.34h0M283.38 162.34h0M286.71 162.34h0M290.04 162.34h0M293.37 162.34h0M296.7 162.34h0M300.03 162.34h0M303.36 162.34h0M306.69 162.34h0M310.02 162.34h0M313.35 162.34h0M316.68 162.34h0M320.01 162.34h0M323.34 162.34h0M326.67 162.34h0M330 162.34h0M333.33 162.34h0M336.66 162.34h0M339.99 162.34h0M343.32 162.34h0M353.31 162.34h0M240.1 165.42h0M243.43 165.42h0M246.76 165.42h0M250.09 165.42h0M253.42 165.42h0M256.75 165.42h0M260.08 165.42h0M263.41 165.42h0M266.74 165.42h0M270.07 165.42h0M273.4 165.42h0M276.73 165.42h0M280.06 165.42h0M283.38 165.42h0M286.71 165.42h0M290.04 165.42h0M293.37 165.42h0M296.7 165.42h0M300.03 165.42h0M303.36 165.42h0M306.69 165.42h0M310.02 165.42h0M313.35 165.42h0M316.68 165.42h0M320.01 165.42h0M323.34 165.42h0M326.67 165.42h0M330 165.42h0M333.33 165.42h0M336.66 165.42h0M339.99 165.42h0M343.32 165.42h0M353.31 165.42h0M240.1 168.5h0M243.43 168.5h0M246.76 168.5h0M250.09 168.5h0M253.42 168.5h0M256.75 168.5h0M260.08 168.5h0M263.41 168.5h0M266.74 168.5h0M270.07 168.5h0M273.4 168.5h0M276.73 168.5h0M280.06 168.5h0M283.38 168.5h0M286.71 168.5h0M290.04 168.5h0M293.37 168.5h0M296.7 168.5h0M300.03 168.5h0M303.36 168.5h0M306.69 168.5h0M310.02 168.5h0M313.35 168.5h0M316.68 168.5h0M320.01 168.5h0M323.34 168.5h0M326.67 168.5h0M330 168.5h0M333.33 168.5h0M336.66 168.5h0M339.99 168.5h0M343.32 168.5h0M349.98 168.5h0M353.31 168.5h0"/>
<path stroke="#ff1209" d="M393.26 156.18h0M396.59 156.18h0M399.92 156.18h0M403.25 156.18h0M349.98 159.26h0M356.64 159.26h0M359.97 159.26h0M363.29 159.26h0M366.62 159.26h0M369.95 159.26h0M373.28 159.26h0M376.61 159.26h0M379.94 159.26h0M383.27 159.26h0M386.6 159.26h0M389.93 159.26h0M393.26 159.26h0M396.59 159.26h0M399.92 159.26h0M403.25 159.26h0M346.65 162.34h0M349.98 162.34h0M356.64 162.34h0M359.97 162.34h0M363.29 162.34h0M366.62 162.34h0M369.95 162.34h0M373.28 162.34h0M376.61 162.34h0M379.94 162.34h0M383.27 162.34h0M386.6 162.34h0M389.93 162.34h0M393.26 162.34h0M396.59 162.34h0M399.92 162.34h0M403.25 162.34h0M346.65 165.42h0M349.98 165.42h0M356.64 165.42h0M359.97 165.42h0M363.29 165.42h0M366.62 165.42h0M369.95 165.42h0M373.28 165.42h0M376.61 165.42h0M379.94 165.42h0M383.27 165.42h0M386.6 165.42h0"/>
<path stroke="#ff180c" d="M389.93 165.42h0M393.26 165.42h0M396.59 165.42h0M399.92 165.42h0M403.25 165.42h0M346.65 168.5h0M356.64 168.5h0M359.97 168.5h0M363.29 168.5h0M366.62 168.5h0M369.95 168.5h0M373.28 168.5h0M376.61 168.5h0M379.94 168.5h0M383.27 168.5h0M386.6 168.5h0M389.93 168.5h0M393.26 168.5h0M396.59 168.5h0M399.92 168.5h0M403.25 168.5h0M346.65 171.58h0M356.64 171.58h0M359.97 171.58h0M363.29 171.58h0M366.62 171.58h0M369.95 171.58h0M373.28 171.58h0M376.61 171.58h0M379.94 171.58h0M383.27 171.58h0M386.6 171.58h0M389.93 171.58h0M393.26 171.58h0M396.59 171.58h0M399.92 171.58h0M346.65 174.66h0M356.64 174.66h0M359.97 174.66h0M363.29 174.66h0M366.62 174.66h0M369.95 174.66h0M373.28 174.66h0M376.61 174.66h0"/>
<path stroke="#0ba7ef" d="M240.1 171.58h0M243.43 171.58h0M246.76 171.58h0M250.09 171.58h0M253.42 171.58h0M256.75 171.58h0M260.08 171.58h0M263.41 171.58h0M266.74 171.58h0M270.07 171.58h0M273.4 171.58h0M276.73 171.58h0M280.06 171.58h0M283.38 171.58h0M286.71 171.58h0M290.04 171.58h0M293.37 171.58h0M296.7 171.58h0M300.03 171.58h0M303.36 171.58h0M306.69 171.58h0M310.02 171.58h0M313.35 171.58h0M316.68 171.58h0M320.01 171.58h0M323.34 171.58h0M326.67 171.58h0M330 171.58h0M333.33 171.58h0M336.66 171.58h0M339.99 171.58h0M343.32 171.58h0M349.98 171.58h0M353.31 171.58h0M240.1 174.66h0M243.43 174.66h0M246.76 174.66h0M250.09 174.66h0M253.42 174.66h0M256.75 174.66h0M260.08 174.66h0M263.41 174.66h0M266.74 174.66h0M270.07 174.66h0M273.4 174.66h0M276.73 174.66h0M280.06 174.66h0M283.38 174.66h0M286.71 174.66h0M290.04 174.66h0M293.37 174.66h0M296.7 174.66h0M300.03 174.66h0M303.36 174.66h0M306.69 174.66h0M310.02 174.66h0M313.35 174.66h0M316.68 174.66h0M320.01 174.66h0M323.34 174.66h0M326.67 174.66h0M330 174.66h0M333.33 174.66h0M336.66 174.66h0M339.99 174.66h0M343.32 174.66h0M349.98 174.66h0M353.31 174.66h0M240.1 177.74h0M243.43 177.74h0M246.76 177.74h0M250.09 177.74h0M253.42 177.74h0M256.75 177.74h0M260.08 177.74h0M263.41 177.74h0M266.74 177.74h0M270.07 177.74h0M273.4 177.74h0M276.73 177.74h0M280.06 177.74h0M283.38 177.74h0M286.71 177.74h0M290.04 177.74h0M293.37 177.74h0M296.7 177.74h0M300.03 177.74h0M303.36 177.74h0M306.69 177.74h0M310.02 177.74h0M313.35 177.74h0M316.68 177.74h0M320.01 177.74h0M323.34 177.74h0M326.67 177.74h0M330 177.74h0M333.33 177.74h0M336.66 177.74h0M339.99 177.74h0M343.32 177.74h0M349.98 177.74h0M353.31 177.74h0M240.1 180.82h0M243.43 180.82h0M246.76 180.82h0M250.09 180.82h0M253.42 180.82h0M256.75 180.82h0M260.08 180.82h0M263.41 180.82h0M266.74 180.82h0M270.07 180.82h0M273.4 180.82h0M276.73 180.82h0M280.06 180.82h0M283.38 180.82h0M286.71 180.82h0M290.04 180.82h0M293.37 180.82h0M296.7 180.82h0M300.03 180.82h0M303.36 180.82h0M306.69 180.82h0M310.02 180.82h0M313.35 180.82h0M316.68 180.82h0M320.01 180.82h0M323.34 180.82h0M326.67 180.82h0M330 180.82h0M333.33 180.82h0M336.66 180.82h0M339.99 180.82h0M343.32 180.82h0M346.65 180.82h0M349.98 180.82h0M353.31 180.82h0M240.1 183.9h0M243.43 183.9h0M246.76 183.9h0M250.09 183.9h0M253.42 183.9h0M256.75 183.9h0M260.08 183.9h0M263.41 183.9h0M266.74 183.9h0M270.07 183.9h0M273.4 183.9h0M276.73 183.9h0M280.06 183.9h0M283.38 183.9h0M286.71 183.9h0M290.04 183.9h0M293.37 183.9h0M296.7 183.9h0M300.03 183.9h0M303.36 183.9h0M306.69 183.9h0M310.02 183.9h0M313.35 183.9h0M316.68 183.9h0M320.01 183.9h0M323.34 183.9h0M326.67 183.9h0M330 183.9h0M333.33 183.9h0M336.66 183.9h0M339.99 183.9h0M343.32 183.9h0M346.65 183.9h0M349.98 183.9h0M353.31 183.9h0"/>
<path stroke="#ff1e0f" d="M403.25 171.58h0M379.94 174.66h0M383.27 174.66h0M386.6 174.66h0M389.93 174.66h0M393.26 174.66h0M396.59 174.66h0M399.92 174.66h0M403.25 174.66h0M346.65 177.74h0M356.64 177.74h0M359.97 177.74h0M363.29 177.74h0M366.62 177.74h0M369.95 177.74h0M373.28 177.74h0M376.61 177.74h0M379.94 177.74h0M383.27 177.74h0M386.6 177.74h0M389.93 177.74h0M393.26 177.74h0M396.59 177.74h0M399.92 177.74h0M403.25 177.74h0M356.64 180.82h0M359.97 180.82h0M363.29 180.82h0M366.62 180.82h0M369.95 180.82h0M373.28 180.82h0M376.61 180.82h0M379.94 180.82h0M383.27 180.82h0M386.6 180.82h0M389.93 180.82h0M393.26 180.82h0M356.64 183.9h0M359.97 183.9h0M363.29 183.9h0M366.62 183.9h0"/>
<path stroke="#ff2412" d="M396.59 180.82h0M399.92 180.82h0M403.25 180.82h0M369.95 183.9h0M373.28 183.9h0M376.61 183.9h0M379.94 183.9h0M383.27 183.9h0M386.6 183.9h0M389.93 183.9h0M393.26 183.9h0M396.59 183.9h0M399.92 183.9h0M403.25 183.9h0M356.64 186.98h0M359.97 186.98h0M363.29 186.98h0M366.62 186.98h0M369.95 186.98h0M373.28 186.98h0M376.61 186.98h0M379.94 186.98h0M383.27 186.98h0M386.6 186.98h0M389.93 186.98h0M393.26 186.98h0M396.59 186.98h0M399.92 186.98h0M403.25 186.98h0M356.64 190.07h0M359.97 190.07h0M363.29 190.07h0M366.62 190.07h0M369.95 190.07h0M373.28 190.07h0M376.61 190.07h0M379.94 190.07h0M383.27 190.07h0"/>
<path stroke="#0fa3f0" d="M240.1 186.98h0M243.43 186.98h0M246.76 186.98h0M250.09 186.98h0M253.42 186.98h0M256.75 186.98h0M260.08 186.98h0M263.41 186.98h0M266.74 186.98h0M270.07 186.98h0M273.4 186.98h0M276.73 186.98h0M280.06 186.98h0M283.38 186.98h0M286.71 186.98h0M290.04 186.98h0M293.37 186.98h0M296.7 186.98h0M300.03 186.98h0M303.36 186.98h0M306.69 186.98h0M310.02 186.98h0M313.35 186.98h0M316.68 186.98h0M320.01 186.98h0M323.34 186.98h0M326.67 186.98h0M330 186.98h0M333.33 186.98h0M336.66 186.98h0M339.99 186.98h0M343.32 186.98h0M346.65 186.98h0M349.98 186.98h0M353.31 186.98h0M240.1 190.07h0M243.43 190.07h0M246.76 190.07h0M250.09 190.07h0M253.42 190.07h0M256.75 190.07h0M260.08 190.07h0M263.41 190.07h0M266.74 190.07h0M270.07 190.07h0M273.4 190.07h0M276.73 190.07h0M280.06 190.07h0M283.38 190.07h0M286.71 190.07h0M290.04 190.07h0M293.37 190.07h0M296.7 190.07h0M300.03 190.07h0M303.36 190.07h0M306.69 190.07h0M310.02 190.07h0M313.35 190.07h0M316.68 190.07h0M320.01 190.07h0M323.34 190.07h0M326.67 190.07h0M330 190.07h0M333.33 190.07h0M336.66 190.07h0M339.99 190.07h0M343.32 190.07h0M346.65 190.07h0M349.98 190.07h0M353.31 190.07h0M240.1 193.15h0M243.43 193.15h0M246.76 193.15h0M250.09 193.15h0M253.42 193.15h0M256.75 193.15h0M260.08 193.15h0M263.41 193.15h0M266.74 193.15h0M270.07 193.15h0M273.4 193.15h0M276.73 193.15h0M280.06 193.15h0M283.38 193.15h0M286.71 193.15h0M290.04 193.15h0M293.37 193.15h0M296.7 193.15h0M300.03 193.15h0M303.36 193.15h0M306.69 193.15h0M310.02 193.15h0M313.35 193.15h0M316.68 193.15h0M320.01 193.15h0M323.34 193.15h0M326.67 193.15h0M330 193.15h0M333.33 193.15h0M336.66 193.15h0M339.99 193.15h0M343.32 193.15h0M346.65 193.15h0M349.98 193.15h0M353.31 193.15h0M240.1 196.23h0M243.43 196.23h0M246.76 196.23h0M250.09 196.23h0M253.42 196.23h0M256.75 196.23h0M260.08 196.23h0M263.41 196.23h0M266.74 196.23h0M270.07 196.23h0M273.4 196.23h0M276.73 196.23h0M280.06 196.23h0M283.38 196.23h0M286.71 196.23h0M290.04 196.23h0M293.37 196.23h0M296.7 196.23h0M300.03 196.23h0M303.36 196.23h0M306.69 196.23h0M310.02 196.23h0M313.35 196.23h0M316.68 196.23h0M320.01 196.23h0M323.34 196.23h0M326.67 196.23h0M330 196.23h0M333.33 196.23h0M336.66 196.23h0M339.99 196.23h0M343.32 196.23h0M346.65 196.23h0M349.98 196.23h0M353.31 196.23h0M240.1 199.31h0M243.43 199.31h0M246.76 199.31h0M250.09 199.31h0M253.42 199.31h0M256.75 199.31h0M260.08 199.31h0M263.41 199.31h0M266.74 199.31h0M270.07 199.31h0M273.4 199.31h0M276.73 199.31h0M280.06 199.31h0M283.38 199.31h0M286.71 199.31h0M290.04 199.31h0M293.37 199.31h0M296.7 199.31h0M300.03 199.31h0M303.36 199.31h0M306.69 199.31h0M310.02 199.31h0M313.35 199.31h0M316.68 199.31h0M320.01 199.31h0M323.34 199.31h0M326.67 199.31h0M330 199.31h0M333.33 199.31h0M336.66 199.31h0M339.99 199.31h0M343.32 199.31h0M346.65 199.31h0M349.98 199.31h0M353.31 199.31h0"/>
<path stroke="#ff2a15" d="M386.6 190.07h0M389.93 190.07h0M393.26 190.07h0M396.59 190.07h0M399.92 190.07h0M403.25 190.07h0M356.64 193.15h0M359.97 193.15h0M363.29 193.15h0M366.62 193.15h0M369.95 193.15h0M373.28 193.15h0M376.61 193.15h0M379.94 193.15h0M383.27 193.15h0M386.6 193.15h0M389.93 193.15h0M393.26 193.15h0M396.59 193.15h0M399.92 193.15h0M403.25 193.15h0M356.64 196.23h0M359.97 196.23h0M363.29 196.23h0M366.62 196.23h0M369.95 196.23h0M373.28 196.23h0M376.61 196.23h0M379.94 196.23h0M383.27 196.23h0M386.6 196.23h0M389.93 196.23h0M356.64 199.31h0M359.97 199.31h0M363.29 199.31h0M366.62 199.31h0M369.95 199.31h0"/>
<path stroke="#ff3018" d="M393.26 196.23h0M396.59 196.23h0M399.92 196.23h0M403.25 196.23h0M373.28 199.31h0M376.61 199.31h0M379.94 199.31h0M383.27 199.31h0M386.6 199.31h0M389.93 199.31h0M393.26 199.31h0M396.59 199.31h0M399.92 199.31h0M403.25 199.31h0M356.64 202.39h0M359.97 202.39h0M363.29 202.39h0M366.62 202.39h0M369.95 202.39h0M373.28 202.39h0M376.61 202.39h0M379.94 202.39h0M383.27 202.39h0M386.6 202.39h0M389.93 202.39h0M393.26 202.39h0M396.59 202.39h0M356.64 205.47h0M359.97 205.47h0M363.29 205.47h0M366.62 205.47h0M369.95 205.47h0M373.28 205.47h0M376.61 205.47h0M379.94 205.47h0"/>
<path stroke="#139ef1" d="M240.1 202.39h0M243.43 202.39h0M246.76 202.39h0M250.09 202.39h0M253.42 202.39h0M256.75 202.39h0M260.08 202.39h0M263.41 202.39h0M266.74 202.39h0M270.07 202.39h0M273.4 202.39h0M276.73 202.39h0M280.06 202.39h0M283.38 202.39h0M286.71 202.39h0M290.04 202.39h0M293.37 202.39h0M296.7 202.39h0M300.03 202.39h0M303.36 202.39h0M306.69 202.39h0M310.02 202.39h0M313.35 202.39h0M316.68 202.39h0M320.01 202.39h0M323.34 202.39h0M326.67 202.39h0M330 202.39h0M333.33 202.39h0M336.66 202.39h0M339.99 202.39h0M343.32 202.39h0M346.65 202.39h0M349.98 202.39h0M353.31 202.39h0M240.1 205.47h0M243.43 205.47h0M246.76 205.47h0M250.09 205.47h0M253.42 205.47h0M256.75 205.47h0M260.08 205.47h0M263.41 205.47h0M266.74 205.47h0M270.07 205.47h0M273.4 205.47h0M276.73 205.47h0M280.06 205.47h0M283.38 205.47h0M286.71 205.47h0M290.04 205.47h0M293.37 205.47h0M296.7 205.47h0M300.03 205.47h0M303.36 205.47h0M306.69 205.47h0M310.02 205.47h0M313.35 205.47h0M316.68 205.47h0M320.01 205.47h0M323.34 205.47h0M326.67 205.47h0M330 205.47h0M333.33 205.47h0M336.66 205.47h0M339.99 205.47h0M343.32 205.47h0M346.65 205.47h0M349.98 205.47h0M353.31 205.47h0M240.1 208.55h0M243.43 208.55h0M246.76 208.55h0M250.09 208.55h0M253.42 208.55h0M256.75 208.55h0M260.08 208.55h0M263.41 208.55h0M266.74 208.55h0M270.07 208.55h0M273.4 208.55h0M276.73 208.55h0M280.06 208.55h0M283.38 208.55h0M286.71 208.55h0M290.04 208.55h0M293.37 208.55h0M296.7 208.55h0M300.03 208.55h0M303.36 208.55h0M306.69 208.55h0M310.02 208.55h0M313.35 208.55h0M316.68 208.55h0M320.01 208.55h0M323.34 208.55h0M326.67 208.55h0M330 208.55h0M333.33 208.55h0M336.66 208.55h0M339.99 208.55h0M343.32 208.55h0M346.65 208.55h0M349.98 208.55h0M353.31 208.55h0M240.1 211.63h0M243.43 211.63h0M246.76 211.63h0M250.09 211.63h0M253.42 211.63h0M256.75 211.63h0M260.08 211.63h0M263.41 211.63h0M266.74 211.63h0M270.07 211.63h0M273.4 211.63h0M276.73 211.63h0M280.06 211.63h0M283.38 211.63h0M286.71 211.63h0M290.04 211.63h0M293.37 211.63h0M296.7 211.63h0M300.03 211.63h0M303.36 211.63h0M306.69 211.63h0M310.02 211.63h0M313.35 211.63h0M316.68 211.63h0M320.01 211.63h0M323.34 211.63h0M326.67 211.63h0M330 211.63h0M333.33 211.63h0M336.66 211.63h0M339.99 211.63h0M343.32 211.63h0M346.65 211.63h0M349.98 211.63h0M353.31 211.63h0"/>
<path stroke="#ff361b" d="M399.92 202.39h0M403.25 202.39h0M383.27 205.47h0M386.6 205.47h0M389.93 205.47h0M393.26 205.47h0M396.59 205.47h0M399.92 205.47h0M403.25 205.47h0M356.64 208.55h0M359.97 208.55h0M363.29 208.55h0M366.62 208.55h0M369.95 208.55h0M373.28 208.55h0M376.61 208.55h0M379.94 208.55h0M383.27 208.55h0M386.6 208.55h0M389.93 208.55h0M393.26 208.55h0M396.59 208.55h0M399.92 208.55h0M403.25 208.55h0M356.64 211.63h0M359.97 211.63h0M363.29 211.63h0M366.62 211.63h0M369.95 211.63h0M373.28 211.63h0M376.61 211.63h0M379.94 211.63h0M383.27 211.63h0M386.6 211.63h0M356.64 214.71h0M359.97 214.71h0M363.29 214.71h0"/>
<path stroke="#ff3c1e" d="M389.93 211.63h0M393.26 211.63h0M396.59 211.63h0M399.92 211.63h0M403.25 211.63h0M366.62 214.71h0M369.95 214.71h0M373.28 214.71h0M376.61 214.71h0M379.94 214.71h0M383.27 214.71h0M386.6 214.71h0M389.93 214.71h0M393.26 214.71h0M396.59 214.71h0M399.92 214.71h0M403.25 214.71h0M356.64 217.79h0M359.97 217.79h0M363.29 217.79h0M366.62 217.79h0M369.95 217.79h0M373.28 217.79h0M376.61 217.79h0M379.94 217.79h0M383.27 217.79h0M386.6 217.79h0M389.93 217.79h0M356.64 220.87h0M359.97 220.87h0M363.29 220.87h0M366.62 220.87h0M369.95 220.87h0M373.28 220.87h0"/>
<path stroke="#1799f2" d="M240.1 214.71h0M243.43 214.71h0M246.76 214.71h0M250.09 214.71h0M253.42 214.71h0M256.75 214.71h0M260.08 214.71h0M263.41 214.71h0M266.74 214.71h0M270.07 214.71h0M273.4 214.71h0M276.73 214.71h0M280.06 214.71h0M283.38 214.71h0M286.71 214.71h0M290.04 214.71h0M293.37 214.71h0M296.7 214.71h0M300.03 214.71h0M303.36 214.71h0M306.69 214.71h0M310.02 214.71h0M313.35 214.71h0M316.68 214.71h0M320.01 214.71h0M323.34 214.71h0M326.67 214.71h0M330 214.71h0M333.33 214.71h0M336.66 214.71h0M339.99 214.71h0M343.32 214.71h0M346.65 214.71h0M349.98 214.71h0M353.31 214.71h0M240.1 217.79h0M243.43 217.79h0M246.76 217.79h0M250.09 217.79h0M253.42 217.79h0M256.75 217.79h0M260.08 217.79h0M263.41 217.79h0M266.74 217.79h0M270.07 217.79h0M273.4 217.79h0M276.73 217.79h0M280.06 217.79h0M283.38 217.79h0M286.71 217.79h0M290.04 217.79h0M293.37 217.79h0M296.7 217.79h0M300.03 217.79h0M303.36 217.79h0M306.69 217.79h0M310.02 217.79h0M313.35 217.79h0M316.68 217.79h0M320.01 217.79h0M323.34 217.79h0M326.67 217.79h0M330 217.79h0M333.33 217.79h0M336.66 217.79h0M339.99 217.79h0M343.32 217.79h0M346.65 217.79h0M349.98 217.79h0M353.31 217.79h0M240.1 220.87h0M243.43 220.87h0M246.76 220.87h0M250.09 220.87h0M253.42 220.87h0M256.75 220.87h0M260.08 220.87h0M263.41 220.87h0M266.74 220.87h0M270.07 220.87h0M273.4 220.87h0M276.73 220.87h0M280.06 220.87h0M283.38 220.87h0M286.71 220.87h0M290.04 220.87h0M293.37 220.87h0M296.7 220.87h0M300.03 220.87h0M303.36 220.87h0M306.69 220.87h0M310.02 220.87h0M313.35 220.87h0M316.68 220.87h0M320.01 220.87h0M323.34 220.87h0M326.67 220.87h0M330 220.87h0M333.33 220.87h0M336.66 220.87h0M339.99 220.87h0M343.32 220.87h0M346.65 220.87h0M349.98 220.87h0M353.31 220.87h0M240.1 223.95h0M243.43 223.95h0M246.76 223.95h0M250.09 223.95h0M253.42 223.95h0M256.75 223.95h0M260.08 223.95h0M263.41 223.95h0M266.74 223.95h0M270.07 223.95h0M273.4 223.95h0M276.73 223.95h0M280.06 223.95h0M283.38 223.95h0M286.71 223.95h0M290.04 223.95h0M293.37 223.95h0M296.7 223.95h0M300.03 223.95h0M303.36 223.95h0M306.69 223.95h0M310.02 223.95h0M313.35 223.95h0M316.68 223.95h0M320.01 223.95h0M323.34 223.95h0M326.67 223.95h0M330 223.95h0M333.33 223.95h0M336.66 223.95h0M339.99 223.95h0M343.32 223.95h0M346.65 223.95h0M349.98 223.95h0M353.31 223.95h0"/>
<path stroke="#ff4121" d="M393.26 217.79h0M396.59 217.79h0M399.92 217.79h0M403.25 217.79h0M376.61 220.87h0M379.94 220.87h0M383.27 220.87h0M386.6 220.87h0M389.93 220.87h0M393.26 220.87h0M396.59 220.87h0M399.92 220.87h0M403.25 220.87h0M356.64 223.95h0M359.97 223.95h0M363.29 223.95h0M366.62 223.95h0M369.95 223.95h0M373.28 223.95h0M376.61 223.95h0M379.94 223.95h0M383.27 223.95h0M386.6 223.95h0M389.93 223.95h0M393.26 223.95h0M356.64 227.03h0M359.97 227.03h0M363.29 227.03h0M366.62 227.03h0M369.95 227.03h0M373.28 227.03h0M376.61 227.03h0"/>
<path stroke="#ff4724" d="M396.59 223.95h0M399.92 223.95h0M403.25 223.95h0M379.94 227.03h0M383.27 227.03h0M386.6 227.03h0M389.93 227.03h0M393.26 227.03h0M396.59 227.03h0M399.92 227.03h0M403.25 227.03h0M356.64 230.11h0M359.97 230.11h0M363.29 230.11h0M366.62 230.11h0M369.95 230.11h0M373.28 230.11h0M376.61 230.11h0M379.94 230.11h0M383.27 230.11h0M386.6 230.11h0M389.93 230.11h0M393.26 230.11h0M396.59 230.11h0M356.64 233.19h0M359.97 233.19h0M363.29 233.19h0M366.62 233.19h0M369.95 233.19h0M373.28 233.19h0M376.61 233.19h0M379.94 233.19h0M383.27 233.19h0M356.64 236.27h0M359.97 236.27h0"/>
<path stroke="#1b94f3" d="M240.1 227.03h0M243.43 227.03h0M246.76 227.03h0M250.09 227.03h0M253.42 227.03h0M256.75 227.03h0M260.08 227.03h0M263.41 227.03h0M266.74 227.03h0M270.07 227.03h0M273.4 227.03h0M276.73 227.03h0M280.06 227.03h0M283.38 227.03h0M286.71 227.03h0M290.04 227.03h0M293.37 227.03h0M296.7 227.03h0M300.03 227.03h0M303.36 227.03h0M306.69 227.03h0M310.02 227.03h0M313.35 227.03h0M316.68 227.03h0M320.01 227.03h0M323.34 227.03h0M326.67 227.03h0M330 227.03h0M333.33 227.03h0M336.66 227.03h0M339.99 227.03h0M343.32 227.03h0M346.65 227.03h0M349.98 227.03h0M353.31 227.03h0M240.1 230.11h0M243.43 230.11h0M246.76 230.11h0M250.09 230.11h0M253.42 230.11h0M256.75 230.11h0M260.08 230.11h0M263.41 230.11h0M266.74 230.11h0M270.07 230.11h0M273.4 230.11h0M276.73 230.11h0M280.06 230.11h0M283.38 230.11h0M286.71 230.11h0M290.04 230.11h0M293.37 230.11h0M296.7 230.11h0M300.03 230.11h0M303.36 230.11h0M306.69 230.11h0M310.02 230.11h0M313.35 230.11h0M316.68 230.11h0M320.01 230.11h0M323.34 230.11h0M326.67 230.11h0M330 230.11h0M333.33 230.11h0M336.66 230.11h0M339.99 230.11h0M343.32 230.11h0M346.65 230.11h0M349.98 230.11h0M353.31 230.11h0M240.1 233.19h0M243.43 233.19h0M246.76 233.19h0M250.09 233.19h0M253.42 233.19h0M256.75 233.19h0M260.08 233.19h0M263.41 233.19h0M266.74 233.19h0M270.07 233.19h0M273.4 233.19h0M276.73 233.19h0M280.06 233.19h0M283.38 233.19h0M286.71 233.19h0M290.04 233.19h0M293.37 233.19h0M296.7 233.19h0M300.03 233.19h0M303.36 233.19h0M306.69 233.19h0M310.02 233.19h0M313.35 233.19h0M316.68 233.19h0M320.01 233.19h0M323.34 233.19h0M326.67 233.19h0M330 233.19h0M333.33 233.19h0M336.66 233.19h0M339.99 233.19h0M343.32 233.19h0M346.65 233.19h0M349.98 233.19h0M353.31 233.19h0M240.1 236.27h0M243.43 236.27h0M246.76 236.27h0M250.09 236.27h0M253.42 236.27h0M256.75 236.27h0M260.08 236.27h0M263.41 236.27h0M266.74 236.27h0M270.07 236.27h0M273.4 236.27h0M276.73 236.27h0M280.06 236.27h0M283.38 236.27h0M286.71 236.27h0M290.04 236.27h0M293.37 236.27h0M296.7 236.27h0M300.03 236.27h0M303.36 236.27h0M306.69 236.27h0M310.02 236.27h0M313.35 236.27h0M316.68 236.27h0M320.01 236.27h0M323.34 236.27h0M326.67 236.27h0M330 236.27h0M333.33 236.27h0M336.66 236.27h0M339.99 236.27h0M343.32 236.27h0M346.65 236.27h0M349.98 236.27h0M353.31 236.27h0"/>
<path stroke="#ff4d27" d="M399.92 230.11h0M403.25 230.11h0M386.6 233.19h0M389.93 233.19h0M393.26 233.19h0M396.59 233.19h0M399.92 233.19h0M403.25 233.19h0M363.29 236.27h0M366.62 236.27h0M369.95 236.27h0M373.28 236.27h0M376.61 236.27h0M379.94 236.27h0M383.27 236.27h0M386.6 236.27h0M389.93 236.27h0M393.26 236.27h0M396.59 236.27h0M399.92 236.27h0M356.64 239.36h0M359.97 239.36h0M363.29 239.36h0M366.62 239.36h0M369.95 239.36h0M373.28 239.36h0M376.61 239.36h0M379.94 239.36h0M383.27 239.36h0M356.64 242.44h0M359.97 242.44h0M363.29 242.44h0M366.62 242.44h0"/>
<path stroke="#ff532a" d="M403.25 236.27h0M386.6 239.36h0M389.93 239.36h0M393.26 239.36h0M396.59 239.36h0M399.92 239.36h0M403.25 239.36h0M369.95 242.44h0M373.28 242.44h0M376.61 242.44h0M379.94 242.44h0M383.27 242.44h0M386.6 242.44h0M389.93 242.44h0M393.26 242.44h0M396.59 242.44h0M399.92 242.44h0M356.64 245.52h0M359.97 245.52h0M363.29 245.52h0M366.62 245.52h0M369.95 245.52h0M373.28 245.52h0M376.61 245.52h0M379.94 245.52h0M383.27 245.52h0M386.6 245.52h0M356.64 248.6h0M359.97 248.6h0M363.29 248.6h0M366.62 248.6h0M369.95 248.6h0"/>
<path stroke="#1f8ff4" d="M240.1 239.36h0M243.43 239.36h0M246.76 239.36h0M250.09 239.36h0M253.42 239.36h0M256.75 239.36h0M260.08 239.36h0M263.41 239.36h0M266.74 239.36h0M270.07 239.36h0M273.4 239.36h0M276.73 239.36h0M280.06 239.36h0M283.38 239.36h0M286.71 239.36h0M290.04 239.36h0M293.37 239.36h0M296.7 239.36h0M300.03 239.36h0M303.36 239.36h0M306.69 239.36h0M310.02 239.36h0M313.35 239.36h0M316.68 239.36h0M320.01 239.36h0M323.34 239.36h0M326.67 239.36h0M330 239.36h0M333.33 239.36h0M336.66 239.36h0M339.99 239.36h0M343.32 239.36h0M346.65 239.36h0M349.98 239.36h0M353.31 239.36h0M240.1 242.44h0M243.43 242.44h0M246.76 242.44h0M250.09 242.44h0M253.42 242.44h0M256.75 242.44h0M260.08 242.44h0M263.41 242.44h0M266.74 242.44h0M270.07 242.44h0M273.4 242.44h0M276.73 242.44h0M280.06 242.44h0M283.38 242.44h0M286.71 242.44h0M290.04 242.44h0M293.37 242.44h0M296.7 242.44h0M300.03 242.44h0M303.36 242.44h0M306.69 242.44h0M310.02 242.44h0M313.35 242.44h0M316.68 242.44h0M320.01 242.44h0M323.34 242.44h0M326.67 242.44h0M330 242.44h0M333.33 242.44h0M336.66 242.44h0M339.99 242.44h0M343.32 242.44h0M346.65 242.44h0M349.98 242.44h0M353.31 242.44h0M240.1 245.52h0M243.43 245.52h0M246.76 245.52h0M250.09 245.52h0M253.42 245.52h0M256.75 245.52h0M260.08 245.52h0M263.41 245.52h0M266.74 245.52h0M270.07 245.52h0M273.4 245.52h0M276.73 245.52h0M280.06 245.52h0M283.38 245.52h0M286.71 245.52h0M290.04 245.52h0M293.37 245.52h0M296.7 245.52h0M300.03 245.52h0M303.36 245.52h0M306.69 245.52h0M310.02 245.52h0M313.35 245.52h0M316.68 245.52h0M320.01 245.52h0M323.34 245.52h0M326.67 245.52h0M330 245.52h0M333.33 245.52h0M336.66 245.52h0M339.99 245.52h0M343.32 245.52h0M346.65 245.52h0M349.98 245.52h0M353.31 245.52h0M240.1 248.6h0M243.43 248.6h0M246.76 248.6h0M250.09 248.6h0M253.42 248.6h0M256.75 248.6h0M260.08 248.6h0M263.41 248.6h0M266.74 248.6h0M270.07 248.6h0M273.4 248.6h0M276.73 248.6h0M280.06 248.6h0M283.38 248.6h0M286.71 248.6h0M290.04 248.6h0M293.37 248.6h0M296.7 248.6h0M300.03 248.6h0M303.36 248.6h0M306.69 248.6h0M310.02 248.6h0M313.35 248.6h0M316.68 248.6h0M320.01 248.6h0M323.34 248.6h0M326.67 248.6h0M330 248.6h0M333.33 248.6h0M336.66 248.6h0M339.99 248.6h0M343.32 248.6h0M346.65 248.6h0M349.98 248.6h0M353.31 248.6h0"/>
<path stroke="#ff582d" d="M403.25 242.44h0M389.93 245.52h0M393.26 245.52h0M396.59 245.52h0M399.92 245.52h0M403.25 245.52h0M373.28 248.6h0M376.61 248.6h0M379.94 248.6h0M383.27 248.6h0M386.6 248.6h0M389.93 248.6h0M393.26 248.6h0M396.59 248.6h0M399.92 248.6h0M356.64 251.68h0M359.97 251.68h0M363.29 251.68h0M366.62 251.68h0M369.95 251.68h0M373.28 251.68h0M376.61 251.68h0M379.94 251.68h0M383.27 251.68h0M386.6 251.68h0M389.93 251.68h0M356.64 254.76h0M359.97 254.76h0M363.29 254.76h0M366.62 254.76h0M369.95 254.76h0M373.28 254.76h0"/>
<path stroke="#ff5e30" d="M403.25 248.6h0M393.26 251.68h0M396.59 251.68h0M399.92 251.68h0M403.25 251.68h0M376.61 254.76h0M379.94 254.76h0M383.27 254.76h0M386.6 254.76h0M389.93 254.76h0M393.26 254.76h0M396.59 254.76h0M399.92 254.76h0M356.64 257.84h0M359.97 257.84h0M363.29 257.84h0M366.62 257.84h0M369.95 257.84h0M373.28 257.84h0M376.61 257.84h0M379.94 257.84h0M383.27 257.84h0M386.6 257.84h0M389.93 257.84h0M356.64 260.92h0M359.97 260.92h0M363.29 260.92h0M366.62 260.92h0M369.95 260.92h0M373.28 260.92h0"/>
<path stroke="#228af5" d="M240.1 251.68h0M243.43 251.68h0M246.76 251.68h0M250.09 251.68h0M253.42 251.68h0M256.75 251.68h0M260.08 251.68h0M263.41 251.68h0M266.74 251.68h0M270.07 251.68h0M273.4 251.68h0M276.73 251.68h0M280.06 251.68h0M283.38 251.68h0M286.71 251.68h0M290.04 251.68h0M293.37 251.68h0M296.7 251.68h0M300.03 251.68h0M303.36 251.68h0M306.69 251.68h0M310.02 251.68h0M313.35 251.68h0M316.68 251.68h0M320.01 251.68h0M323.34 251.68h0M326.67 251.68h0M330 251.68h0M333.33 251.68h0M336.66 251.68h0M339.99 251.68h0M343.32 251.68h0M346.65 251.68h0M349.98 251.68h0M353.31 251.68h0M240.1 254.76h0M243.43 254.76h0M246.76 254.76h0M250.09 254.76h0M253.42 254.76h0M256.75 254.76h0M260.08 254.76h0M263.41 254.76h0M266.74 254.76h0M270.07 254.76h0M273.4 254.76h0M276.73 254.76h0M280.06 254.76h0M283.38 254.76h0M286.71 254.76h0M290.04 254.76h0M293.37 254.76h0M296.7 254.76h0M300.03 254.76h0M303.36 254.76h0M306.69 254.76h0M310.02 254.76h0M313.35 254.76h0M316.68 254.76h0M320.01 254.76h0M323.34 254.76h0M326.67 254.76h0M330 254.76h0M333.33 254.76h0M336.66 254.76h0M339.99 254.76h0M343.32 254.76h0M346.65 254.76h0M349.98 254.76h0M353.31 254.76h0M240.1 257.84h0M243.43 257.84h0M246.76 257.84h0M250.09 257.84h0M253.42 257.84h0M256.75 257.84h0M260.08 257.84h0M263.41 257.84h0M266.74 257.84h0M270.07 257.84h0M273.4 257.84h0M276.73 257.84h0M280.06 257.84h0M283.38 257.84h0M286.71 257.84h0M290.04 257.84h0M293.37 257.84h0M296.7 257.84h0M300.03 257.84h0M303.36 257.84h0M306.69 257.84h0M310.02 257.84h0M313.35 257.84h0M316.68 257.84h0M320.01 257.84h0M323.34 257.84h0M326.67 257.84h0M330 257.84h0M333.33 257.84h0M336.66 257.84h0M339.99 257.84h0M343.32 257.84h0M346.65 257.84h0M349.98 257.84h0M353.31 257.84h0M240.1 260.92h0M243.43 260.92h0M246.76 260.92h0M250.09 260.92h0M253.42 260.92h0M256.75 260.92h0M260.08 260.92h0M263.41 260.92h0M266.74 260.92h0M270.07 260.92h0M273.4 260.92h0M276.73 260.92h0M280.06 260.92h0M283.38 260.92h0M286.71 260.92h0M290.04 260.92h0M293.37 260.92h0M296.7 260.92h0M300.03 260.92h0M303.36 260.92h0M306.69 260.92h0M310.02 260.92h0M313.35 260.92h0M316.68 260.92h0M320.01 260.92h0M323.34 260.92h0M326.67 260.92h0M330 260.92h0M333.33 260.92h0M336.66 260.92h0M339.99 260.92h0M343.32 260.92h0M346.65 260.92h0M349.98 260.92h0M353.31 260.92h0"/>
<path stroke="#ff6333" d="M403.25 254.76h0M393.26 257.84h0M396.59 257.84h0M399.92 257.84h0M403.25 257.84h0M376.61 260.92h0M379.94 260.92h0M383.27 260.92h0M386.6 260.92h0M389.93 260.92h0M393.26 260.92h0M396.59 260.92h0M399.92 260.92h0M356.64 264h0M359.97 264h0M363.29 264h0M366.62 264h0M369.95 264h0M373.28 264h0M376.61 264h0M379.94 264h0M383.27 264h0M386.6 264h0M389.93 264h0"/>
<path stroke="#ff6936" d="M403.25 260.92h0M393.26 264h0M396.59 264h0M399.92 264h0M403.25 264h0"/>
<path stroke="#2685f5" d="M240.1 264h0M243.43 264h0M246.76 264h0M250.09 264h0M253.42 264h0M256.75 264h0M260.08 264h0M263.41 264h0M266.74 264h0M270.07 264h0M273.4 264h0M276.73 264h0M280.06 264h0M283.38 264h0M286.71 264h0M290.04 264h0M293.37 264h0M296.7 264h0M300.03 264h0M303.36 264h0M306.69 264h0M310.02 264h0M313.35 264h0M316.68 264h0M320.01 264h0M323.34 264h0M326.67 264h0M330 264h0M333.33 264h0M336.66 264h0M339.99 264h0M343.32 264h0M346.65 264h0M349.98 264h0M353.31 264h0"/>
</g>
<path d="M240.6 130.39L243.93 130.39L247.26 130.39L250.59 130.39L253.92 130.39L257.25 130.39L260.58 130.39L263.91 130.39L267.24 130.39L270.57 130.39L273.9 130.39L277.23 130.39L280.56 130.39L283.88 130.39L287.21 130.39L290.54 130.39L293.87 130.39L295.54 131.93L297.2 133.47L300.53 133.47L303.86 133.47L307.19 133.47L310.52 133.47L313.85 133.47L317.18 133.47L318.85 135.01L320.51 136.55L323.84 136.55L327.17 136.55L328.83 138.09L330.5 139.64L332.16 141.18L333.83 142.72L335.49 144.26L337.16 145.8L338.82 147.34L340.49 148.88L342.15 150.42L343.82 151.96L345.48 153.5L345.48 156.58L345.48 159.66L345.48 162.74L345.48 165.82L345.48 168.9L345.48 171.98L345.48 175.06L345.48 178.14L347.15 179.68L348.81 178.14L348.81 175.06L348.81 171.98L348.81 168.9L350.48 167.36L352.14 165.82L352.14 162.74L352.14 159.66L352.14 156.58L352.14 153.5L352.14 150.42L352.14 147.34L352.14 144.26L353.81 142.72L355.47 144.26L355.47 147.34L355.47 150.42L355.47 153.5L355.47 156.58L355.47 159.66L355.47 162.74L355.47 165.82L355.47 168.9L355.47 171.98L355.47 175.06L355.47 178.14L355.47 181.22L355.47 184.3L355.47 187.38L355.47 190.47L355.47 193.55L355.47 196.63L355.47 199.71L355.47 202.79L355.47 205.87L355.47 208.95L355.47 212.03L355.47 215.11L355.47 218.19L355.47 221.27L355.47 224.35L355.47 227.43L355.47 230.51L355.47 233.59L355.47 236.67L355.47 239.76L355.47 242.84L355.47 245.92L355.47 249L355.47 252.08L355.47 255.16L355.47 258.24L355.47 261.32L355.47 264.4" stroke="#000" stroke-width="1.1" fill="none" stroke-linejoin="round" stroke-linecap="round"/>
<rect x="232.45" y="105.7" width="179.2" height="165.75" fill="none" stroke="#505050" stroke-width="0.8"/>
<path d="M240.1 271.45v3M272.73 271.45v3M305.36 271.45v3M337.99 271.45v3M370.62 271.45v3M403.25 271.45v3M411.65 130.81h2.6M411.65 175.21h2.6M411.65 219.6h2.6M411.65 264h2.6" stroke="#5a5a5a" stroke-width="0.9" fill="none"/>
<text x="229.2" y="291.55" font-size="12">10</text>
<text y="285.25" font-size="8"><tspan x="243.4">−</tspan><tspan x="249.8">2</tspan></text>
<text x="261.83" y="291.55" font-size="12">10</text>
<text y="285.25" font-size="8"><tspan x="276.03">−</tspan><tspan x="282.43">1</tspan></text>
<text x="299.06" y="291.55" font-size="12">10</text>
<text x="311.26" y="285.25" font-size="8">0</text>
<text x="331.69" y="291.55" font-size="12">10</text>
<text x="343.89" y="285.25" font-size="8">1</text>
<text x="364.32" y="291.55" font-size="12">10</text>
<text x="376.52" y="285.25" font-size="8">2</text>
<text x="396.95" y="291.55" font-size="12">10</text>
<text x="409.15" y="285.25" font-size="8">3</text>
<path d="M432.65 105.7V271.45M465.28 105.7V271.45M497.91 105.7V271.45M530.54 105.7V271.45M563.17 105.7V271.45M595.8 105.7V271.45M424.5 130.81H603.8M424.5 175.21H603.8M424.5 219.6H603.8M424.5 264H603.8" stroke="#ececec" stroke-width="0.7" fill="none"/>
<g stroke-linecap="round" stroke-width="2.5" fill="none">
<path stroke="#ff0000" d="M432.65 113.05h0M435.98 113.05h0M439.31 113.05h0M442.64 113.05h0M445.97 113.05h0M449.3 113.05h0M452.63 113.05h0M455.96 113.05h0M459.29 113.05h0M462.62 113.05h0M465.95 113.05h0M469.28 113.05h0M472.61 113.05h0M475.93 113.05h0M479.26 113.05h0M482.59 113.05h0M485.92 113.05h0M489.25 113.05h0M492.58 113.05h0M495.91 113.05h0M499.24 113.05h0M502.57 113.05h0M505.9 113.05h0M509.23 113.05h0M512.56 113.05h0M515.89 113.05h0M519.22 113.05h0M522.55 113.05h0M525.88 113.05h0M529.21 113.05h0M532.54 113.05h0M535.87 113.05h0M539.2 113.05h0M542.53 113.05h0M545.86 113.05h0M549.19 113.05h0M552.52 113.05h0M555.84 113.05h0M559.17 113.05h0M562.5 113.05h0M565.83 113.05h0M569.16 113.05h0M572.49 113.05h0M575.82 113.05h0M579.15 113.05h0M582.48 113.05h0M585.81 113.05h0M589.14 113.05h0M592.47 113.05h0M595.8 113.05h0M432.65 116.13h0M435.98 116.13h0M439.31 116.13h0M442.64 116.13h0M445.97 116.13h0M449.3 116.13h0M452.63 116.13h0M455.96 116.13h0M459.29 116.13h0M462.62 116.13h0M465.95 116.13h0M469.28 116.13h0M472.61 116.13h0M475.93 116.13h0M479.26 116.13h0M482.59 116.13h0M485.92 116.13h0M489.25 116.13h0M492.58 116.13h0M495.91 116.13h0M499.24 116.13h0M502.57 116.13h0M505.9 116.13h0M509.23 116.13h0M512.56 116.13h0M515.89 116.13h0M519.22 116.13h0M522.55 116.13h0M525.88 116.13h0M529.21 116.13h0M532.54 116.13h0M535.87 116.13h0M539.2 116.13h0M542.53 116.13h0M545.86 116.13h0M549.19 116.13h0M552.52 116.13h0M555.84 116.13h0M559.17 116.13h0M562.5 116.13h0M565.83 116.13h0M569.16 116.13h0M572.49 116.13h0M575.82 116.13h0M579.15 116.13h0M582.48 116.13h0M585.81 116.13h0M589.14 116.13h0M592.47 116.13h0M595.8 116.13h0M432.65 119.21h0M435.98 119.21h0M439.31 119.21h0M442.64 119.21h0M445.97 119.21h0M449.3 119.21h0M452.63 119.21h0M455.96 119.21h0M459.29 119.21h0M462.62 119.21h0M465.95 119.21h0M469.28 119.21h0M472.61 119.21h0M475.93 119.21h0M479.26 119.21h0M482.59 119.21h0M485.92 119.21h0M489.25 119.21h0M492.58 119.21h0M495.91 119.21h0M499.24 119.21h0M502.57 119.21h0M505.9 119.21h0M509.23 119.21h0M512.56 119.21h0M515.89 119.21h0M519.22 119.21h0M522.55 119.21h0M525.88 119.21h0M529.21 119.21h0M532.54 119.21h0M535.87 119.21h0M539.2 119.21h0M542.53 119.21h0M545.86 119.21h0M549.19 119.21h0M552.52 119.21h0M555.84 119.21h0M559.17 119.21h0M562.5 119.21h0M565.83 119.21h0M569.16 119.21h0M572.49 119.21h0M575.82 119.21h0M579.15 119.21h0M582.48 119.21h0M585.81 119.21h0M589.14 119.21h0M592.47 119.21h0M595.8 119.21h0M432.65 122.29h0M435.98 122.29h0M439.31 122.29h0M442.64 122.29h0M445.97 122.29h0M449.3 122.29h0M452.63 122.29h0M455.96 122.29h0M459.29 122.29h0M462.62 122.29h0M465.95 122.29h0M469.28 122.29h0M472.61 122.29h0M475.93 122.29h0M479.26 122.29h0M482.59 122.29h0M485.92 122.29h0M489.25 122.29h0M492.58 122.29h0M495.91 122.29h0M499.24 122.29h0M502.57 122.29h0M505.9 122.29h0M509.23 122.29h0M512.56 122.29h0M515.89 122.29h0M519.22 122.29h0M522.55 122.29h0M525.88 122.29h0M529.21 122.29h0M532.54 122.29h0M535.87 122.29h0M539.2 122.29h0M542.53 122.29h0M545.86 122.29h0M549.19 122.29h0M552.52 122.29h0M555.84 122.29h0M559.17 122.29h0M562.5 122.29h0M565.83 122.29h0M569.16 122.29h0M572.49 122.29h0M575.82 122.29h0M579.15 122.29h0M582.48 122.29h0M585.81 122.29h0M589.14 122.29h0M592.47 122.29h0M595.8 122.29h0M432.65 125.37h0M435.98 125.37h0M439.31 125.37h0M442.64 125.37h0M445.97 125.37h0M449.3 125.37h0M452.63 125.37h0M455.96 125.37h0M459.29 125.37h0M462.62 125.37h0M465.95 125.37h0M469.28 125.37h0M472.61 125.37h0M475.93 125.37h0M479.26 125.37h0M482.59 125.37h0M485.92 125.37h0M489.25 125.37h0M492.58 125.37h0M495.91 125.37h0M499.24 125.37h0M502.57 125.37h0M505.9 125.37h0M509.23 125.37h0M512.56 125.37h0M515.89 125.37h0M519.22 125.37h0M522.55 125.37h0M525.88 125.37h0M529.21 125.37h0M532.54 125.37h0M535.87 125.37h0M539.2 125.37h0M542.53 125.37h0M545.86 125.37h0M549.19 125.37h0M552.52 125.37h0M555.84 125.37h0M559.17 125.37h0M562.5 125.37h0M565.83 125.37h0M569.16 125.37h0M572.49 125.37h0M575.82 125.37h0M579.15 125.37h0M582.48 125.37h0M585.81 125.37h0M589.14 125.37h0M592.47 125.37h0M595.8 125.37h0M432.65 128.45h0M435.98 128.45h0M439.31 128.45h0M442.64 128.45h0M445.97 128.45h0M449.3 128.45h0M452.63 128.45h0M455.96 128.45h0M459.29 128.45h0M462.62 128.45h0M465.95 128.45h0M469.28 128.45h0M472.61 128.45h0M475.93 128.45h0M479.26 128.45h0M482.59 128.45h0M485.92 128.45h0M489.25 128.45h0M492.58 128.45h0M495.91 128.45h0M499.24 128.45h0M502.57 128.45h0M505.9 128.45h0M509.23 128.45h0M512.56 128.45h0M515.89 128.45h0M519.22 128.45h0M522.55 128.45h0M525.88 128.45h0M529.21 128.45h0M532.54 128.45h0M535.87 128.45h0M539.2 128.45h0M542.53 128.45h0M545.86 128.45h0M549.19 128.45h0M552.52 128.45h0M555.84 128.45h0M559.17 128.45h0M562.5 128.45h0M565.83 128.45h0M569.16 128.45h0M572.49 128.45h0M575.82 128.45h0M579.15 128.45h0M582.48 128.45h0M585.81 128.45h0M589.14 128.45h0M592.47 128.45h0M595.8 128.45h0M489.25 131.53h0M492.58 131.53h0M495.91 131.53h0M499.24 131.53h0M502.57 131.53h0M505.9 131.53h0M509.23 131.53h0M512.56 131.53h0M515.89 131.53h0M519.22 131.53h0M522.55 131.53h0M525.88 131.53h0M529.21 131.53h0M532.54 131.53h0M535.87 131.53h0M539.2 131.53h0M542.53 131.53h0M545.86 131.53h0M549.19 131.53h0M552.52 131.53h0M555.84 131.53h0M559.17 131.53h0M562.5 131.53h0M565.83 131.53h0M569.16 131.53h0M572.49 131.53h0M575.82 131.53h0M579.15 131.53h0M582.48 131.53h0M585.81 131.53h0M589.14 131.53h0M592.47 131.53h0M595.8 131.53h0M512.56 134.61h0M515.89 134.61h0M519.22 134.61h0M522.55 134.61h0M525.88 134.61h0M529.21 134.61h0M532.54 134.61h0M535.87 134.61h0M539.2 134.61h0M542.53 134.61h0M545.86 134.61h0M549.19 134.61h0M552.52 134.61h0M555.84 134.61h0M559.17 134.61h0M562.5 134.61h0M565.83 134.61h0M569.16 134.61h0M572.49 134.61h0M575.82 134.61h0M579.15 134.61h0M582.48 134.61h0M585.81 134.61h0M589.14 134.61h0M592.47 134.61h0M595.8 134.61h0M522.55 137.69h0M525.88 137.69h0M529.21 137.69h0M532.54 137.69h0M535.87 137.69h0M539.2 137.69h0M542.53 137.69h0M545.86 137.69h0M549.19 137.69h0M552.52 137.69h0M555.84 137.69h0M559.17 137.69h0M562.5 137.69h0M565.83 137.69h0M569.16 137.69h0M572.49 137.69h0"/>
<path stroke="#00b4ec" d="M432.65 131.53h0M435.98 131.53h0M439.31 131.53h0M442.64 131.53h0M445.97 131.53h0M449.3 131.53h0M452.63 131.53h0M455.96 131.53h0M459.29 131.53h0M462.62 131.53h0M465.95 131.53h0M469.28 131.53h0M472.61 131.53h0M475.93 131.53h0M479.26 131.53h0M482.59 131.53h0M485.92 131.53h0M432.65 134.61h0M435.98 134.61h0M439.31 134.61h0M442.64 134.61h0M445.97 134.61h0M449.3 134.61h0M452.63 134.61h0M455.96 134.61h0M459.29 134.61h0M462.62 134.61h0M465.95 134.61h0M469.28 134.61h0M472.61 134.61h0M475.93 134.61h0M479.26 134.61h0M482.59 134.61h0M485.92 134.61h0M489.25 134.61h0M492.58 134.61h0M495.91 134.61h0M499.24 134.61h0M502.57 134.61h0M505.9 134.61h0M509.23 134.61h0"/>
<path stroke="#04b0ed" d="M432.65 137.69h0M435.98 137.69h0M439.31 137.69h0M442.64 137.69h0M445.97 137.69h0M449.3 137.69h0M452.63 137.69h0M455.96 137.69h0M459.29 137.69h0M462.62 137.69h0M465.95 137.69h0M469.28 137.69h0M472.61 137.69h0M475.93 137.69h0M479.26 137.69h0M482.59 137.69h0M485.92 137.69h0M489.25 137.69h0M492.58 137.69h0M495.91 137.69h0M499.24 137.69h0M502.57 137.69h0M505.9 137.69h0M509.23 137.69h0M512.56 137.69h0M515.89 137.69h0M519.22 137.69h0M432.65 140.78h0M435.98 140.78h0M439.31 140.78h0M442.64 140.78h0M445.97 140.78h0M449.3 140.78h0M452.63 140.78h0M455.96 140.78h0M459.29 140.78h0M462.62 140.78h0M465.95 140.78h0M469.28 140.78h0M472.61 140.78h0M475.93 140.78h0M479.26 140.78h0M482.59 140.78h0M485.92 140.78h0M489.25 140.78h0M492.58 140.78h0M495.91 140.78h0M499.24 140.78h0M502.57 140.78h0M505.9 140.78h0M509.23 140.78h0M512.56 140.78h0M515.89 140.78h0M519.22 140.78h0M522.55 140.78h0M432.65 143.86h0M435.98 143.86h0M439.31 143.86h0M442.64 143.86h0M445.97 143.86h0M449.3 143.86h0M452.63 143.86h0M455.96 143.86h0M459.29 143.86h0M462.62 143.86h0M465.95 143.86h0M469.28 143.86h0M472.61 143.86h0M475.93 143.86h0M479.26 143.86h0M482.59 143.86h0M485.92 143.86h0M489.25 143.86h0M492.58 143.86h0M495.91 143.86h0M499.24 143.86h0M502.57 143.86h0M505.9 143.86h0M509.23 143.86h0M512.56 143.86h0M515.89 143.86h0M519.22 143.86h0M522.55 143.86h0M525.88 143.86h0M529.21 143.86h0M432.65 146.94h0M435.98 146.94h0M439.31 146.94h0M442.64 146.94h0M445.97 146.94h0M449.3 146.94h0M452.63 146.94h0M455.96 146.94h0M459.29 146.94h0M462.62 146.94h0M465.95 146.94h0M469.28 146.94h0M472.61 146.94h0M475.93 146.94h0M479.26 146.94h0M482.59 146.94h0M485.92 146.94h0M489.25 146.94h0M492.58 146.94h0M495.91 146.94h0M499.24 146.94h0M502.57 146.94h0M505.9 146.94h0M509.23 146.94h0M512.56 146.94h0M515.89 146.94h0M519.22 146.94h0M522.55 146.94h0M525.88 146.94h0M529.21 146.94h0M432.65 150.02h0M435.98 150.02h0M439.31 150.02h0M442.64 150.02h0M445.97 150.02h0M449.3 150.02h0M452.63 150.02h0M455.96 150.02h0M459.29 150.02h0M462.62 150.02h0M465.95 150.02h0M469.28 150.02h0M472.61 150.02h0M475.93 150.02h0M479.26 150.02h0M482.59 150.02h0M485.92 150.02h0M489.25 150.02h0M492.58 150.02h0M495.91 150.02h0M499.24 150.02h0M502.57 150.02h0M505.9 150.02h0M509.23 150.02h0M512.56 150.02h0M515.89 150.02h0M519.22 150.02h0M522.55 150.02h0M525.88 150.02h0M529.21 150.02h0M532.54 150.02h0M432.65 153.1h0M435.98 153.1h0M439.31 153.1h0M442.64 153.1h0M445.97 153.1h0M449.3 153.1h0M452.63 153.1h0M455.96 153.1h0M459.29 153.1h0M462.62 153.1h0M465.95 153.1h0M469.28 153.1h0M472.61 153.1h0M475.93 153.1h0M479.26 153.1h0M482.59 153.1h0M485.92 153.1h0M489.25 153.1h0M492.58 153.1h0M495.91 153.1h0M499.24 153.1h0M502.57 153.1h0M505.9 153.1h0M509.23 153.1h0M512.56 153.1h0M515.89 153.1h0M519.22 153.1h0M522.55 153.1h0M525.88 153.1h0M529.21 153.1h0M532.54 153.1h0"/>
<path stroke="#ff0603" d="M575.82 137.69h0M579.15 137.69h0M582.48 137.69h0M585.81 137.69h0M589.14 137.69h0M592.47 137.69h0M595.8 137.69h0M525.88 140.78h0M529.21 140.78h0M532.54 140.78h0M535.87 140.78h0M539.2 140.78h0M542.53 140.78h0M545.86 140.78h0M549.19 140.78h0M552.52 140.78h0M555.84 140.78h0M559.17 140.78h0M562.5 140.78h0M565.83 140.78h0M569.16 140.78h0M572.49 140.78h0M575.82 140.78h0M579.15 140.78h0M582.48 140.78h0M585.81 140.78h0M589.14 140.78h0M592.47 140.78h0M595.8 140.78h0M532.54 143.86h0M535.87 143.86h0M539.2 143.86h0M542.53 143.86h0M545.86 143.86h0M549.19 143.86h0M552.52 143.86h0M555.84 143.86h0M559.17 143.86h0M562.5 143.86h0M565.83 143.86h0M569.16 143.86h0M572.49 143.86h0M575.82 143.86h0M579.15 143.86h0M582.48 143.86h0M585.81 143.86h0M589.14 143.86h0M592.47 143.86h0M595.8 143.86h0M532.54 146.94h0M535.87 146.94h0M539.2 146.94h0M542.53 146.94h0M545.86 146.94h0M549.19 146.94h0M552.52 146.94h0M555.84 146.94h0M559.17 146.94h0M562.5 146.94h0M565.83 146.94h0M569.16 146.94h0M572.49 146.94h0M575.82 146.94h0M579.15 146.94h0M582.48 146.94h0"/>
<path stroke="#ff0c06" d="M585.81 146.94h0M589.14 146.94h0M592.47 146.94h0M595.8 146.94h0M535.87 150.02h0M539.2 150.02h0M542.53 150.02h0M545.86 150.02h0M549.19 150.02h0M552.52 150.02h0M555.84 150.02h0M559.17 150.02h0M562.5 150.02h0M565.83 150.02h0M569.16 150.02h0M572.49 150.02h0M575.82 150.02h0M579.15 150.02h0M582.48 150.02h0M585.81 150.02h0M589.14 150.02h0M592.47 150.02h0M595.8 150.02h0M535.87 153.1h0M539.2 153.1h0M542.53 153.1h0M545.86 153.1h0M549.19 153.1h0M552.52 153.1h0M555.84 153.1h0M559.17 153.1h0M562.5 153.1h0M565.83 153.1h0M569.16 153.1h0M572.49 153.1h0M575.82 153.1h0M579.15 153.1h0M582.48 153.1h0M585.81 153.1h0M589.14 153.1h0M592.47 153.1h0M595.8 153.1h0M539.2 156.18h0M542.53 156.18h0M545.86 156.18h0M549.19 156.18h0M552.52 156.18h0M555.84 156.18h0M559.17 156.18h0M562.5 156.18h0M565.83 156.18h0M569.16 156.18h0M572.49 156.18h0M575.82 156.18h0M579.15 156.18h0M582.48 156.18h0M539.2 159.26h0"/>
<path stroke="#08acee" d="M432.65 156.18h0M435.98 156.18h0M439.31 156.18h0M442.64 156.18h0M445.97 156.18h0M449.3 156.18h0M452.63 156.18h0M455.96 156.18h0M459.29 156.18h0M462.62 156.18h0M465.95 156.18h0M469.28 156.18h0M472.61 156.18h0M475.93 156.18h0M479.26 156.18h0M482.59 156.18h0M485.92 156.18h0M489.25 156.18h0M492.58 156.18h0M495.91 156.18h0M499.24 156.18h0M502.57 156.18h0M505.9 156.18h0M509.23 156.18h0M512.56 156.18h0M515.89 156.18h0M519.22 156.18h0M522.55 156.18h0M525.88 156.18h0M529.21 156.18h0M532.54 156.18h0M535.87 156.18h0M432.65 159.26h0M435.98 159.26h0M439.31 159.26h0M442.64 159.26h0M445.97 159.26h0M449.3 159.26h0M452.63 159.26h0M455.96 159.26h0M459.29 159.26h0M462.62 159.26h0M465.95 159.26h0M469.28 159.26h0M472.61 159.26h0M475.93 159.26h0M479.26 159.26h0M482.59 159.26h0M485.92 159.26h0M489.25 159.26h0M492.58 159.26h0M495.91 159.26h0M499.24 159.26h0M502.57 159.26h0M505.9 159.26h0M509.23 159.26h0M512.56 159.26h0M515.89 159.26h0M519.22 159.26h0M522.55 159.26h0M525.88 159.26h0M529.21 159.26h0M532.54 159.26h0M535.87 159.26h0M432.65 162.34h0M435.98 162.34h0M439.31 162.34h0M442.64 162.34h0M445.97 162.34h0M449.3 162.34h0M452.63 162.34h0M455.96 162.34h0M459.29 162.34h0M462.62 162.34h0M465.95 162.34h0M469.28 162.34h0M472.61 162.34h0M475.93 162.34h0M479.26 162.34h0M482.59 162.34h0M485.92 162.34h0M489.25 162.34h0M492.58 162.34h0M495.91 162.34h0M499.24 162.34h0M502.57 162.34h0M505.9 162.34h0M509.23 162.34h0M512.56 162.34h0M515.89 162.34h0M519.22 162.34h0M522.55 162.34h0M525.88 162.34h0M529.21 162.34h0M532.54 162.34h0M535.87 162.34h0M432.65 165.42h0M435.98 165.42h0M439.31 165.42h0M442.64 165.42h0M445.97 165.42h0M449.3 165.42h0M452.63 165.42h0M455.96 165.42h0M459.29 165.42h0M462.62 165.42h0M465.95 165.42h0M469.28 165.42h0M472.61 165.42h0M475.93 165.42h0M479.26 165.42h0M482.59 165.42h0M485.92 165.42h0M489.25 165.42h0M492.58 165.42h0M495.91 165.42h0M499.24 165.42h0M502.57 165.42h0M505.9 165.42h0M509.23 165.42h0M512.56 165.42h0M515.89 165.42h0M519.22 165.42h0M522.55 165.42h0M525.88 165.42h0M529.21 165.42h0M532.54 165.42h0M535.87 165.42h0M432.65 168.5h0M435.98 168.5h0M439.31 168.5h0M442.64 168.5h0M445.97 168.5h0M449.3 168.5h0M452.63 168.5h0M455.96 168.5h0M459.29 168.5h0M462.62 168.5h0M465.95 168.5h0M469.28 168.5h0M472.61 168.5h0M475.93 168.5h0M479.26 168.5h0M482.59 168.5h0M485.92 168.5h0M489.25 168.5h0M492.58 168.5h0M495.91 168.5h0M499.24 168.5h0M502.57 168.5h0M505.9 168.5h0M509.23 168.5h0M512.56 168.5h0M515.89 168.5h0M519.22 168.5h0M522.55 168.5h0M525.88 168.5h0M529.21 168.5h0M532.54 168.5h0M535.87 168.5h0"/>
<path stroke="#ff1209" d="M585.81 156.18h0M589.14 156.18h0M592.47 156.18h0M595.8 156.18h0M542.53 159.26h0M545.86 159.26h0M549.19 159.26h0M552.52 159.26h0M555.84 159.26h0M559.17 159.26h0M562.5 159.26h0M565.83 159.26h0M569.16 159.26h0M572.49 159.26h0M575.82 159.26h0M579.15 159.26h0M582.48 159.26h0M585.81 159.26h0M589.14 159.26h0M592.47 159.26h0M595.8 159.26h0M539.2 162.34h0M542.53 162.34h0M545.86 162.34h0M549.19 162.34h0M552.52 162.34h0M555.84 162.34h0M559.17 162.34h0M562.5 162.34h0M565.83 162.34h0M569.16 162.34h0M572.49 162.34h0M575.82 162.34h0M579.15 162.34h0M582.48 162.34h0M585.81 162.34h0M589.14 162.34h0M592.47 162.34h0M595.8 162.34h0M539.2 165.42h0M542.53 165.42h0M545.86 165.42h0M549.19 165.42h0M552.52 165.42h0M555.84 165.42h0M559.17 165.42h0M562.5 165.42h0M565.83 165.42h0M569.16 165.42h0M572.49 165.42h0M575.82 165.42h0M579.15 165.42h0"/>
<path stroke="#ff180c" d="M582.48 165.42h0M585.81 165.42h0M589.14 165.42h0M592.47 165.42h0M595.8 165.42h0M539.2 168.5h0M542.53 168.5h0M545.86 168.5h0M549.19 168.5h0M552.52 168.5h0M555.84 168.5h0M559.17 168.5h0M562.5 168.5h0M565.83 168.5h0M569.16 168.5h0M572.49 168.5h0M575.82 168.5h0M579.15 168.5h0M582.48 168.5h0M585.81 168.5h0M589.14 168.5h0M592.47 168.5h0M595.8 168.5h0M539.2 171.58h0M542.53 171.58h0M545.86 171.58h0M549.19 171.58h0M552.52 171.58h0M555.84 171.58h0M559.17 171.58h0M562.5 171.58h0M565.83 171.58h0M569.16 171.58h0M572.49 171.58h0M575.82 171.58h0M579.15 171.58h0M582.48 171.58h0M585.81 171.58h0M589.14 171.58h0M592.47 171.58h0M539.2 174.66h0M542.53 174.66h0M545.86 174.66h0M549.19 174.66h0M552.52 174.66h0M555.84 174.66h0M559.17 174.66h0M562.5 174.66h0M565.83 174.66h0M569.16 174.66h0"/>
<path stroke="#0ba7ef" d="M432.65 171.58h0M435.98 171.58h0M439.31 171.58h0M442.64 171.58h0M445.97 171.58h0M449.3 171.58h0M452.63 171.58h0M455.96 171.58h0M459.29 171.58h0M462.62 171.58h0M465.95 171.58h0M469.28 171.58h0M472.61 171.58h0M475.93 171.58h0M479.26 171.58h0M482.59 171.58h0M485.92 171.58h0M489.25 171.58h0M492.58 171.58h0M495.91 171.58h0M499.24 171.58h0M502.57 171.58h0M505.9 171.58h0M509.23 171.58h0M512.56 171.58h0M515.89 171.58h0M519.22 171.58h0M522.55 171.58h0M525.88 171.58h0M529.21 171.58h0M532.54 171.58h0M535.87 171.58h0M432.65 174.66h0M435.98 174.66h0M439.31 174.66h0M442.64 174.66h0M445.97 174.66h0M449.3 174.66h0M452.63 174.66h0M455.96 174.66h0M459.29 174.66h0M462.62 174.66h0M465.95 174.66h0M469.28 174.66h0M472.61 174.66h0M475.93 174.66h0M479.26 174.66h0M482.59 174.66h0M485.92 174.66h0M489.25 174.66h0M492.58 174.66h0M495.91 174.66h0M499.24 174.66h0M502.57 174.66h0M505.9 174.66h0M509.23 174.66h0M512.56 174.66h0M515.89 174.66h0M519.22 174.66h0M522.55 174.66h0M525.88 174.66h0M529.21 174.66h0M532.54 174.66h0M535.87 174.66h0M432.65 177.74h0M435.98 177.74h0M439.31 177.74h0M442.64 177.74h0M445.97 177.74h0M449.3 177.74h0M452.63 177.74h0M455.96 177.74h0M459.29 177.74h0M462.62 177.74h0M465.95 177.74h0M469.28 177.74h0M472.61 177.74h0M475.93 177.74h0M479.26 177.74h0M482.59 177.74h0M485.92 177.74h0M489.25 177.74h0M492.58 177.74h0M495.91 177.74h0M499.24 177.74h0M502.57 177.74h0M505.9 177.74h0M509.23 177.74h0M512.56 177.74h0M515.89 177.74h0M519.22 177.74h0M522.55 177.74h0M525.88 177.74h0M529.21 177.74h0M532.54 177.74h0M535.87 177.74h0M432.65 180.82h0M435.98 180.82h0M439.31 180.82h0M442.64 180.82h0M445.97 180.82h0M449.3 180.82h0M452.63 180.82h0M455.96 180.82h0M459.29 180.82h0M462.62 180.82h0M465.95 180.82h0M469.28 180.82h0M472.61 180.82h0M475.93 180.82h0M479.26 180.82h0M482.59 180.82h0M485.92 180.82h0M489.25 180.82h0M492.58 180.82h0M495.91 180.82h0M499.24 180.82h0M502.57 180.82h0M505.9 180.82h0M509.23 180.82h0M512.56 180.82h0M515.89 180.82h0M519.22 180.82h0M522.55 180.82h0M525.88 180.82h0M529.21 180.82h0M532.54 180.82h0M535.87 180.82h0M432.65 183.9h0M435.98 183.9h0M439.31 183.9h0M442.64 183.9h0M445.97 183.9h0M449.3 183.9h0M452.63 183.9h0M455.96 183.9h0M459.29 183.9h0M462.62 183.9h0M465.95 183.9h0M469.28 183.9h0M472.61 183.9h0M475.93 183.9h0M479.26 183.9h0M482.59 183.9h0M485.92 183.9h0M489.25 183.9h0M492.58 183.9h0M495.91 183.9h0M499.24 183.9h0M502.57 183.9h0M505.9 183.9h0M509.23 183.9h0M512.56 183.9h0M515.89 183.9h0M519.22 183.9h0M522.55 183.9h0M525.88 183.9h0M529.21 183.9h0M532.54 183.9h0M535.87 183.9h0"/>
<path stroke="#ff1e0f" d="M595.8 171.58h0M572.49 174.66h0M575.82 174.66h0M579.15 174.66h0M582.48 174.66h0M585.81 174.66h0M589.14 174.66h0M592.47 174.66h0M595.8 174.66h0M539.2 177.74h0M542.53 177.74h0M545.86 177.74h0M549.19 177.74h0M552.52 177.74h0M555.84 177.74h0M559.17 177.74h0M562.5 177.74h0M565.83 177.74h0M569.16 177.74h0M572.49 177.74h0M575.82 177.74h0M579.15 177.74h0M582.48 177.74h0M585.81 177.74h0M589.14 177.74h0M592.47 177.74h0M595.8 177.74h0M539.2 180.82h0M542.53 180.82h0M545.86 180.82h0M549.19 180.82h0M552.52 180.82h0M555.84 180.82h0M559.17 180.82h0M562.5 180.82h0M565.83 180.82h0M569.16 180.82h0M572.49 180.82h0M575.82 180.82h0M579.15 180.82h0M582.48 180.82h0M585.81 180.82h0M539.2 183.9h0M542.53 183.9h0M545.86 183.9h0M549.19 183.9h0M552.52 183.9h0M555.84 183.9h0M559.17 183.9h0"/>
<path stroke="#ff2412" d="M589.14 180.82h0M592.47 180.82h0M595.8 180.82h0M562.5 183.9h0M565.83 183.9h0M569.16 183.9h0M572.49 183.9h0M575.82 183.9h0M579.15 183.9h0M582.48 183.9h0M585.81 183.9h0M589.14 183.9h0M592.47 183.9h0M595.8 183.9h0M539.2 186.98h0M542.53 186.98h0M545.86 186.98h0M549.19 186.98h0M552.52 186.98h0M555.84 186.98h0M559.17 186.98h0M562.5 186.98h0M565.83 186.98h0M569.16 186.98h0M572.49 186.98h0M575.82 186.98h0M579.15 186.98h0M582.48 186.98h0M585.81 186.98h0M589.14 186.98h0M592.47 186.98h0M595.8 186.98h0M542.53 190.07h0M545.86 190.07h0M549.19 190.07h0M552.52 190.07h0M555.84 190.07h0M559.17 190.07h0M562.5 190.07h0M565.83 190.07h0M569.16 190.07h0M572.49 190.07h0M575.82 190.07h0M542.53 193.15h0"/>
<path stroke="#0fa3f0" d="M432.65 186.98h0M435.98 186.98h0M439.31 186.98h0M442.64 186.98h0M445.97 186.98h0M449.3 186.98h0M452.63 186.98h0M455.96 186.98h0M459.29 186.98h0M462.62 186.98h0M465.95 186.98h0M469.28 186.98h0M472.61 186.98h0M475.93 186.98h0M479.26 186.98h0M482.59 186.98h0M485.92 186.98h0M489.25 186.98h0M492.58 186.98h0M495.91 186.98h0M499.24 186.98h0M502.57 186.98h0M505.9 186.98h0M509.23 186.98h0M512.56 186.98h0M515.89 186.98h0M519.22 186.98h0M522.55 186.98h0M525.88 186.98h0M529.21 186.98h0M532.54 186.98h0M535.87 186.98h0M432.65 190.07h0M435.98 190.07h0M439.31 190.07h0M442.64 190.07h0M445.97 190.07h0M449.3 190.07h0M452.63 190.07h0M455.96 190.07h0M459.29 190.07h0M462.62 190.07h0M465.95 190.07h0M469.28 190.07h0M472.61 190.07h0M475.93 190.07h0M479.26 190.07h0M482.59 190.07h0M485.92 190.07h0M489.25 190.07h0M492.58 190.07h0M495.91 190.07h0M499.24 190.07h0M502.57 190.07h0M505.9 190.07h0M509.23 190.07h0M512.56 190.07h0M515.89 190.07h0M519.22 190.07h0M522.55 190.07h0M525.88 190.07h0M529.21 190.07h0M532.54 190.07h0M535.87 190.07h0M539.2 190.07h0M432.65 193.15h0M435.98 193.15h0M439.31 193.15h0M442.64 193.15h0M445.97 193.15h0M449.3 193.15h0M452.63 193.15h0M455.96 193.15h0M459.29 193.15h0M462.62 193.15h0M465.95 193.15h0M469.28 193.15h0M472.61 193.15h0M475.93 193.15h0M479.26 193.15h0M482.59 193.15h0M485.92 193.15h0M489.25 193.15h0M492.58 193.15h0M495.91 193.15h0M499.24 193.15h0M502.57 193.15h0M505.9 193.15h0M509.23 193.15h0M512.56 193.15h0M515.89 193.15h0M519.22 193.15h0M522.55 193.15h0M525.88 193.15h0M529.21 193.15h0M532.54 193.15h0M535.87 193.15h0M539.2 193.15h0M432.65 196.23h0M435.98 196.23h0M439.31 196.23h0M442.64 196.23h0M445.97 196.23h0M449.3 196.23h0M452.63 196.23h0M455.96 196.23h0M459.29 196.23h0M462.62 196.23h0M465.95 196.23h0M469.28 196.23h0M472.61 196.23h0M475.93 196.23h0M479.26 196.23h0M482.59 196.23h0M485.92 196.23h0M489.25 196.23h0M492.58 196.23h0M495.91 196.23h0M499.24 196.23h0M502.57 196.23h0M505.9 196.23h0M509.23 196.23h0M512.56 196.23h0M515.89 196.23h0M519.22 196.23h0M522.55 196.23h0M525.88 196.23h0M529.21 196.23h0M532.54 196.23h0M535.87 196.23h0M539.2 196.23h0M432.65 199.31h0M435.98 199.31h0M439.31 199.31h0M442.64 199.31h0M445.97 199.31h0M449.3 199.31h0M452.63 199.31h0M455.96 199.31h0M459.29 199.31h0M462.62 199.31h0M465.95 199.31h0M469.28 199.31h0M472.61 199.31h0M475.93 199.31h0M479.26 199.31h0M482.59 199.31h0M485.92 199.31h0M489.25 199.31h0M492.58 199.31h0M495.91 199.31h0M499.24 199.31h0M502.57 199.31h0M505.9 199.31h0M509.23 199.31h0M512.56 199.31h0M515.89 199.31h0M519.22 199.31h0M522.55 199.31h0M525.88 199.31h0M529.21 199.31h0M532.54 199.31h0M535.87 199.31h0M539.2 199.31h0"/>
<path stroke="#ff2a15" d="M579.15 190.07h0M582.48 190.07h0M585.81 190.07h0M589.14 190.07h0M592.47 190.07h0M595.8 190.07h0M545.86 193.15h0M549.19 193.15h0M552.52 193.15h0M555.84 193.15h0M559.17 193.15h0M562.5 193.15h0M565.83 193.15h0M569.16 193.15h0M572.49 193.15h0M575.82 193.15h0M579.15 193.15h0M582.48 193.15h0M585.81 193.15h0M589.14 193.15h0M592.47 193.15h0M595.8 193.15h0M542.53 196.23h0M545.86 196.23h0M549.19 196.23h0M552.52 196.23h0M555.84 196.23h0M559.17 196.23h0M562.5 196.23h0M565.83 196.23h0M569.16 196.23h0M572.49 196.23h0M575.82 196.23h0M579.15 196.23h0M582.48 196.23h0M542.53 199.31h0M545.86 199.31h0M549.19 199.31h0M552.52 199.31h0M555.84 199.31h0M559.17 199.31h0M562.5 199.31h0"/>
<path stroke="#ff3018" d="M585.81 196.23h0M589.14 196.23h0M592.47 196.23h0M595.8 196.23h0M565.83 199.31h0M569.16 199.31h0M572.49 199.31h0M575.82 199.31h0M579.15 199.31h0M582.48 199.31h0M585.81 199.31h0M589.14 199.31h0M592.47 199.31h0M595.8 199.31h0M542.53 202.39h0M545.86 202.39h0M549.19 202.39h0M552.52 202.39h0M555.84 202.39h0M559.17 202.39h0M562.5 202.39h0M565.83 202.39h0M569.16 202.39h0M572.49 202.39h0M575.82 202.39h0M579.15 202.39h0M582.48 202.39h0M585.81 202.39h0M589.14 202.39h0M542.53 205.47h0M545.86 205.47h0M549.19 205.47h0M552.52 205.47h0M555.84 205.47h0M559.17 205.47h0M562.5 205.47h0M565.83 205.47h0M569.16 205.47h0M572.49 205.47h0M542.53 208.55h0"/>
<path stroke="#139ef1" d="M432.65 202.39h0M435.98 202.39h0M439.31 202.39h0M442.64 202.39h0M445.97 202.39h0M449.3 202.39h0M452.63 202.39h0M455.96 202.39h0M459.29 202.39h0M462.62 202.39h0M465.95 202.39h0M469.28 202.39h0M472.61 202.39h0M475.93 202.39h0M479.26 202.39h0M482.59 202.39h0M485.92 202.39h0M489.25 202.39h0M492.58 202.39h0M495.91 202.39h0M499.24 202.39h0M502.57 202.39h0M505.9 202.39h0M509.23 202.39h0M512.56 202.39h0M515.89 202.39h0M519.22 202.39h0M522.55 202.39h0M525.88 202.39h0M529.21 202.39h0M532.54 202.39h0M535.87 202.39h0M539.2 202.39h0M432.65 205.47h0M435.98 205.47h0M439.31 205.47h0M442.64 205.47h0M445.97 205.47h0M449.3 205.47h0M452.63 205.47h0M455.96 205.47h0M459.29 205.47h0M462.62 205.47h0M465.95 205.47h0M469.28 205.47h0M472.61 205.47h0M475.93 205.47h0M479.26 205.47h0M482.59 205.47h0M485.92 205.47h0M489.25 205.47h0M492.58 205.47h0M495.91 205.47h0M499.24 205.47h0M502.57 205.47h0M505.9 205.47h0M509.23 205.47h0M512.56 205.47h0M515.89 205.47h0M519.22 205.47h0M522.55 205.47h0M525.88 205.47h0M529.21 205.47h0M532.54 205.47h0M535.87 205.47h0M539.2 205.47h0M432.65 208.55h0M435.98 208.55h0M439.31 208.55h0M442.64 208.55h0M445.97 208.55h0M449.3 208.55h0M452.63 208.55h0M455.96 208.55h0M459.29 208.55h0M462.62 208.55h0M465.95 208.55h0M469.28 208.55h0M472.61 208.55h0M475.93 208.55h0M479.26 208.55h0M482.59 208.55h0M485.92 208.55h0M489.25 208.55h0M492.58 208.55h0M495.91 208.55h0M499.24 208.55h0M502.57 208.55h0M505.9 208.55h0M509.23 208.55h0M512.56 208.55h0M515.89 208.55h0M519.22 208.55h0M522.55 208.55h0M525.88 208.55h0M529.21 208.55h0M532.54 208.55h0M535.87 208.55h0M539.2 208.55h0M432.65 211.63h0M435.98 211.63h0M439.31 211.63h0M442.64 211.63h0M445.97 211.63h0M449.3 211.63h0M452.63 211.63h0M455.96 211.63h0M459.29 211.63h0M462.62 211.63h0M465.95 211.63h0M469.28 211.63h0M472.61 211.63h0M475.93 211.63h0M479.26 211.63h0M482.59 211.63h0M485.92 211.63h0M489.25 211.63h0M492.58 211.63h0M495.91 211.63h0M499.24 211.63h0M502.57 211.63h0M505.9 211.63h0M509.23 211.63h0M512.56 211.63h0M515.89 211.63h0M519.22 211.63h0M522.55 211.63h0M525.88 211.63h0M529.21 211.63h0M532.54 211.63h0M535.87 211.63h0M539.2 211.63h0"/>
<path stroke="#ff361b" d="M592.47 202.39h0M595.8 202.39h0M575.82 205.47h0M579.15 205.47h0M582.48 205.47h0M585.81 205.47h0M589.14 205.47h0M592.47 205.47h0M595.8 205.47h0M545.86 208.55h0M549.19 208.55h0M552.52 208.55h0M555.84 208.55h0M559.17 208.55h0M562.5 208.55h0M565.83 208.55h0M569.16 208.55h0M572.49 208.55h0M575.82 208.55h0M579.15 208.55h0M582.48 208.55h0M585.81 208.55h0M589.14 208.55h0M592.47 208.55h0M595.8 208.55h0M542.53 211.63h0M545.86 211.63h0M549.19 211.63h0M552.52 211.63h0M555.84 211.63h0M559.17 211.63h0M562.5 211.63h0M565.83 211.63h0M569.16 211.63h0M572.49 211.63h0M575.82 211.63h0M579.15 211.63h0M542.53 214.71h0M545.86 214.71h0M549.19 214.71h0M552.52 214.71h0M555.84 214.71h0"/>
<path stroke="#ff3c1e" d="M582.48 211.63h0M585.81 211.63h0M589.14 211.63h0M592.47 211.63h0M595.8 211.63h0M559.17 214.71h0M562.5 214.71h0M565.83 214.71h0M569.16 214.71h0M572.49 214.71h0M575.82 214.71h0M579.15 214.71h0M582.48 214.71h0M585.81 214.71h0M589.14 214.71h0M592.47 214.71h0M595.8 214.71h0M542.53 217.79h0M545.86 217.79h0M549.19 217.79h0M552.52 217.79h0M555.84 217.79h0M559.17 217.79h0M562.5 217.79h0M565.83 217.79h0M569.16 217.79h0M572.49 217.79h0M575.82 217.79h0M579.15 217.79h0M582.48 217.79h0M542.53 220.87h0M545.86 220.87h0M549.19 220.87h0M552.52 220.87h0M555.84 220.87h0M559.17 220.87h0M562.5 220.87h0M565.83 220.87h0"/>
<path stroke="#1799f2" d="M432.65 214.71h0M435.98 214.71h0M439.31 214.71h0M442.64 214.71h0M445.97 214.71h0M449.3 214.71h0M452.63 214.71h0M455.96 214.71h0M459.29 214.71h0M462.62 214.71h0M465.95 214.71h0M469.28 214.71h0M472.61 214.71h0M475.93 214.71h0M479.26 214.71h0M482.59 214.71h0M485.92 214.71h0M489.25 214.71h0M492.58 214.71h0M495.91 214.71h0M499.24 214.71h0M502.57 214.71h0M505.9 214.71h0M509.23 214.71h0M512.56 214.71h0M515.89 214.71h0M519.22 214.71h0M522.55 214.71h0M525.88 214.71h0M529.21 214.71h0M532.54 214.71h0M535.87 214.71h0M539.2 214.71h0M432.65 217.79h0M435.98 217.79h0M439.31 217.79h0M442.64 217.79h0M445.97 217.79h0M449.3 217.79h0M452.63 217.79h0M455.96 217.79h0M459.29 217.79h0M462.62 217.79h0M465.95 217.79h0M469.28 217.79h0M472.61 217.79h0M475.93 217.79h0M479.26 217.79h0M482.59 217.79h0M485.92 217.79h0M489.25 217.79h0M492.58 217.79h0M495.91 217.79h0M499.24 217.79h0M502.57 217.79h0M505.9 217.79h0M509.23 217.79h0M512.56 217.79h0M515.89 217.79h0M519.22 217.79h0M522.55 217.79h0M525.88 217.79h0M529.21 217.79h0M532.54 217.79h0M535.87 217.79h0M539.2 217.79h0M432.65 220.87h0M435.98 220.87h0M439.31 220.87h0M442.64 220.87h0M445.97 220.87h0M449.3 220.87h0M452.63 220.87h0M455.96 220.87h0M459.29 220.87h0M462.62 220.87h0M465.95 220.87h0M469.28 220.87h0M472.61 220.87h0M475.93 220.87h0M479.26 220.87h0M482.59 220.87h0M485.92 220.87h0M489.25 220.87h0M492.58 220.87h0M495.91 220.87h0M499.24 220.87h0M502.57 220.87h0M505.9 220.87h0M509.23 220.87h0M512.56 220.87h0M515.89 220.87h0M519.22 220.87h0M522.55 220.87h0M525.88 220.87h0M529.21 220.87h0M532.54 220.87h0M535.87 220.87h0M539.2 220.87h0M432.65 223.95h0M435.98 223.95h0M439.31 223.95h0M442.64 223.95h0M445.97 223.95h0M449.3 223.95h0M452.63 223.95h0M455.96 223.95h0M459.29 223.95h0M462.62 223.95h0M465.95 223.95h0M469.28 223.95h0M472.61 223.95h0M475.93 223.95h0M479.26 223.95h0M482.59 223.95h0M485.92 223.95h0M489.25 223.95h0M492.58 223.95h0M495.91 223.95h0M499.24 223.95h0M502.57 223.95h0M505.9 223.95h0M509.23 223.95h0M512.56 223.95h0M515.89 223.95h0M519.22 223.95h0M522.55 223.95h0M525.88 223.95h0M529.21 223.95h0M532.54 223.95h0M535.87 223.95h0M539.2 223.95h0"/>
<path stroke="#ff4121" d="M585.81 217.79h0M589.14 217.79h0M592.47 217.79h0M595.8 217.79h0M569.16 220.87h0M572.49 220.87h0M575.82 220.87h0M579.15 220.87h0M582.48 220.87h0M585.81 220.87h0M589.14 220.87h0M592.47 220.87h0M595.8 220.87h0M542.53 223.95h0M545.86 223.95h0M549.19 223.95h0M552.52 223.95h0M555.84 223.95h0M559.17 223.95h0M562.5 223.95h0M565.83 223.95h0M569.16 223.95h0M572.49 223.95h0M575.82 223.95h0M579.15 223.95h0M582.48 223.95h0M585.81 223.95h0M542.53 227.03h0M545.86 227.03h0M549.19 227.03h0M552.52 227.03h0M555.84 227.03h0M559.17 227.03h0M562.5 227.03h0M565.83 227.03h0M569.16 227.03h0M542.53 230.11h0M545.86 230.11h0"/>
<path stroke="#ff4724" d="M589.14 223.95h0M592.47 223.95h0M595.8 223.95h0M572.49 227.03h0M575.82 227.03h0M579.15 227.03h0M582.48 227.03h0M585.81 227.03h0M589.14 227.03h0M592.47 227.03h0M595.8 227.03h0M549.19 230.11h0M552.52 230.11h0M555.84 230.11h0M559.17 230.11h0M562.5 230.11h0M565.83 230.11h0M569.16 230.11h0M572.49 230.11h0M575.82 230.11h0M579.15 230.11h0M582.48 230.11h0M585.81 230.11h0M589.14 230.11h0M542.53 233.19h0M545.86 233.19h0M549.19 233.19h0M552.52 233.19h0M555.84 233.19h0M559.17 233.19h0M562.5 233.19h0M565.83 233.19h0M569.16 233.19h0M572.49 233.19h0M575.82 233.19h0M542.53 236.27h0M545.86 236.27h0M549.19 236.27h0M552.52 236.27h0"/>
<path stroke="#1b94f3" d="M432.65 227.03h0M435.98 227.03h0M439.31 227.03h0M442.64 227.03h0M445.97 227.03h0M449.3 227.03h0M452.63 227.03h0M455.96 227.03h0M459.29 227.03h0M462.62 227.03h0M465.95 227.03h0M469.28 227.03h0M472.61 227.03h0M475.93 227.03h0M479.26 227.03h0M482.59 227.03h0M485.92 227.03h0M489.25 227.03h0M492.58 227.03h0M495.91 227.03h0M499.24 227.03h0M502.57 227.03h0M505.9 227.03h0M509.23 227.03h0M512.56 227.03h0M515.89 227.03h0M519.22 227.03h0M522.55 227.03h0M525.88 227.03h0M529.21 227.03h0M532.54 227.03h0M535.87 227.03h0M539.2 227.03h0M432.65 230.11h0M435.98 230.11h0M439.31 230.11h0M442.64 230.11h0M445.97 230.11h0M449.3 230.11h0M452.63 230.11h0M455.96 230.11h0M459.29 230.11h0M462.62 230.11h0M465.95 230.11h0M469.28 230.11h0M472.61 230.11h0M475.93 230.11h0M479.26 230.11h0M482.59 230.11h0M485.92 230.11h0M489.25 230.11h0M492.58 230.11h0M495.91 230.11h0M499.24 230.11h0M502.57 230.11h0M505.9 230.11h0M509.23 230.11h0M512.56 230.11h0M515.89 230.11h0M519.22 230.11h0M522.55 230.11h0M525.88 230.11h0M529.21 230.11h0M532.54 230.11h0M535.87 230.11h0M539.2 230.11h0M432.65 233.19h0M435.98 233.19h0M439.31 233.19h0M442.64 233.19h0M445.97 233.19h0M449.3 233.19h0M452.63 233.19h0M455.96 233.19h0M459.29 233.19h0M462.62 233.19h0M465.95 233.19h0M469.28 233.19h0M472.61 233.19h0M475.93 233.19h0M479.26 233.19h0M482.59 233.19h0M485.92 233.19h0M489.25 233.19h0M492.58 233.19h0M495.91 233.19h0M499.24 233.19h0M502.57 233.19h0M505.9 233.19h0M509.23 233.19h0M512.56 233.19h0M515.89 233.19h0M519.22 233.19h0M522.55 233.19h0M525.88 233.19h0M529.21 233.19h0M532.54 233.19h0M535.87 233.19h0M539.2 233.19h0M432.65 236.27h0M435.98 236.27h0M439.31 236.27h0M442.64 236.27h0M445.97 236.27h0M449.3 236.27h0M452.63 236.27h0M455.96 236.27h0M459.29 236.27h0M462.62 236.27h0M465.95 236.27h0M469.28 236.27h0M472.61 236.27h0M475.93 236.27h0M479.26 236.27h0M482.59 236.27h0M485.92 236.27h0M489.25 236.27h0M492.58 236.27h0M495.91 236.27h0M499.24 236.27h0M502.57 236.27h0M505.9 236.27h0M509.23 236.27h0M512.56 236.27h0M515.89 236.27h0M519.22 236.27h0M522.55 236.27h0M525.88 236.27h0M529.21 236.27h0M532.54 236.27h0M535.87 236.27h0M539.2 236.27h0"/>
<path stroke="#ff4d27" d="M592.47 230.11h0M595.8 230.11h0M579.15 233.19h0M582.48 233.19h0M585.81 233.19h0M589.14 233.19h0M592.47 233.19h0M595.8 233.19h0M555.84 236.27h0M559.17 236.27h0M562.5 236.27h0M565.83 236.27h0M569.16 236.27h0M572.49 236.27h0M575.82 236.27h0M579.15 236.27h0M582.48 236.27h0M585.81 236.27h0M589.14 236.27h0M592.47 236.27h0M542.53 239.36h0M545.86 239.36h0M549.19 239.36h0M552.52 239.36h0M555.84 239.36h0M559.17 239.36h0M562.5 239.36h0M565.83 239.36h0M569.16 239.36h0M572.49 239.36h0M575.82 239.36h0M542.53 242.44h0M545.86 242.44h0M549.19 242.44h0M552.52 242.44h0M555.84 242.44h0M559.17 242.44h0"/>
<path stroke="#ff532a" d="M595.8 236.27h0M579.15 239.36h0M582.48 239.36h0M585.81 239.36h0M589.14 239.36h0M592.47 239.36h0M595.8 239.36h0M562.5 242.44h0M565.83 242.44h0M569.16 242.44h0M572.49 242.44h0M575.82 242.44h0M579.15 242.44h0M582.48 242.44h0M585.81 242.44h0M589.14 242.44h0M592.47 242.44h0M542.53 245.52h0M545.86 245.52h0M549.19 245.52h0M552.52 245.52h0M555.84 245.52h0M559.17 245.52h0M562.5 245.52h0M565.83 245.52h0M569.16 245.52h0M572.49 245.52h0M575.82 245.52h0M579.15 245.52h0M542.53 248.6h0M545.86 248.6h0M549.19 248.6h0M552.52 248.6h0M555.84 248.6h0M559.17 248.6h0M562.5 248.6h0"/>
<path stroke="#1f8ff4" d="M432.65 239.36h0M435.98 239.36h0M439.31 239.36h0M442.64 239.36h0M445.97 239.36h0M449.3 239.36h0M452.63 239.36h0M455.96 239.36h0M459.29 239.36h0M462.62 239.36h0M465.95 239.36h0M469.28 239.36h0M472.61 239.36h0M475.93 239.36h0M479.26 239.36h0M482.59 239.36h0M485.92 239.36h0M489.25 239.36h0M492.58 239.36h0M495.91 239.36h0M499.24 239.36h0M502.57 239.36h0M505.9 239.36h0M509.23 239.36h0M512.56 239.36h0M515.89 239.36h0M519.22 239.36h0M522.55 239.36h0M525.88 239.36h0M529.21 239.36h0M532.54 239.36h0M535.87 239.36h0M539.2 239.36h0M432.65 242.44h0M435.98 242.44h0M439.31 242.44h0M442.64 242.44h0M445.97 242.44h0M449.3 242.44h0M452.63 242.44h0M455.96 242.44h0M459.29 242.44h0M462.62 242.44h0M465.95 242.44h0M469.28 242.44h0M472.61 242.44h0M475.93 242.44h0M479.26 242.44h0M482.59 242.44h0M485.92 242.44h0M489.25 242.44h0M492.58 242.44h0M495.91 242.44h0M499.24 242.44h0M502.57 242.44h0M505.9 242.44h0M509.23 242.44h0M512.56 242.44h0M515.89 242.44h0M519.22 242.44h0M522.55 242.44h0M525.88 242.44h0M529.21 242.44h0M532.54 242.44h0M535.87 242.44h0M539.2 242.44h0M432.65 245.52h0M435.98 245.52h0M439.31 245.52h0M442.64 245.52h0M445.97 245.52h0M449.3 245.52h0M452.63 245.52h0M455.96 245.52h0M459.29 245.52h0M462.62 245.52h0M465.95 245.52h0M469.28 245.52h0M472.61 245.52h0M475.93 245.52h0M479.26 245.52h0M482.59 245.52h0M485.92 245.52h0M489.25 245.52h0M492.58 245.52h0M495.91 245.52h0M499.24 245.52h0M502.57 245.52h0M505.9 245.52h0M509.23 245.52h0M512.56 245.52h0M515.89 245.52h0M519.22 245.52h0M522.55 245.52h0M525.88 245.52h0M529.21 245.52h0M532.54 245.52h0M535.87 245.52h0M539.2 245.52h0M432.65 248.6h0M435.98 248.6h0M439.31 248.6h0M442.64 248.6h0M445.97 248.6h0M449.3 248.6h0M452.63 248.6h0M455.96 248.6h0M459.29 248.6h0M462.62 248.6h0M465.95 248.6h0M469.28 248.6h0M472.61 248.6h0M475.93 248.6h0M479.26 248.6h0M482.59 248.6h0M485.92 248.6h0M489.25 248.6h0M492.58 248.6h0M495.91 248.6h0M499.24 248.6h0M502.57 248.6h0M505.9 248.6h0M509.23 248.6h0M512.56 248.6h0M515.89 248.6h0M519.22 248.6h0M522.55 248.6h0M525.88 248.6h0M529.21 248.6h0M532.54 248.6h0M535.87 248.6h0M539.2 248.6h0"/>
<path stroke="#ff582d" d="M595.8 242.44h0M582.48 245.52h0M585.81 245.52h0M589.14 245.52h0M592.47 245.52h0M595.8 245.52h0M565.83 248.6h0M569.16 248.6h0M572.49 248.6h0M575.82 248.6h0M579.15 248.6h0M582.48 248.6h0M585.81 248.6h0M589.14 248.6h0M592.47 248.6h0M542.53 251.68h0M545.86 251.68h0M549.19 251.68h0M552.52 251.68h0M555.84 251.68h0M559.17 251.68h0M562.5 251.68h0M565.83 251.68h0M569.16 251.68h0M572.49 251.68h0M575.82 251.68h0M579.15 251.68h0M582.48 251.68h0M542.53 254.76h0M545.86 254.76h0M549.19 254.76h0M552.52 254.76h0M555.84 254.76h0M559.17 254.76h0M562.5 254.76h0M565.83 254.76h0M542.53 257.84h0"/>
<path stroke="#ff5e30" d="M595.8 248.6h0M585.81 251.68h0M589.14 251.68h0M592.47 251.68h0M595.8 251.68h0M569.16 254.76h0M572.49 254.76h0M575.82 254.76h0M579.15 254.76h0M582.48 254.76h0M585.81 254.76h0M589.14 254.76h0M592.47 254.76h0M545.86 257.84h0M549.19 257.84h0M552.52 257.84h0M555.84 257.84h0M559.17 257.84h0M562.5 257.84h0M565.83 257.84h0M569.16 257.84h0M572.49 257.84h0M575.82 257.84h0M579.15 257.84h0M582.48 257.84h0M542.53 260.92h0M545.86 260.92h0M549.19 260.92h0M552.52 260.92h0M555.84 260.92h0M559.17 260.92h0M562.5 260.92h0M565.83 260.92h0M542.53 264h0M545.86 264h0"/>
<path stroke="#228af5" d="M432.65 251.68h0M435.98 251.68h0M439.31 251.68h0M442.64 251.68h0M445.97 251.68h0M449.3 251.68h0M452.63 251.68h0M455.96 251.68h0M459.29 251.68h0M462.62 251.68h0M465.95 251.68h0M469.28 251.68h0M472.61 251.68h0M475.93 251.68h0M479.26 251.68h0M482.59 251.68h0M485.92 251.68h0M489.25 251.68h0M492.58 251.68h0M495.91 251.68h0M499.24 251.68h0M502.57 251.68h0M505.9 251.68h0M509.23 251.68h0M512.56 251.68h0M515.89 251.68h0M519.22 251.68h0M522.55 251.68h0M525.88 251.68h0M529.21 251.68h0M532.54 251.68h0M535.87 251.68h0M539.2 251.68h0M432.65 254.76h0M435.98 254.76h0M439.31 254.76h0M442.64 254.76h0M445.97 254.76h0M449.3 254.76h0M452.63 254.76h0M455.96 254.76h0M459.29 254.76h0M462.62 254.76h0M465.95 254.76h0M469.28 254.76h0M472.61 254.76h0M475.93 254.76h0M479.26 254.76h0M482.59 254.76h0M485.92 254.76h0M489.25 254.76h0M492.58 254.76h0M495.91 254.76h0M499.24 254.76h0M502.57 254.76h0M505.9 254.76h0M509.23 254.76h0M512.56 254.76h0M515.89 254.76h0M519.22 254.76h0M522.55 254.76h0M525.88 254.76h0M529.21 254.76h0M532.54 254.76h0M535.87 254.76h0M539.2 254.76h0M432.65 257.84h0M435.98 257.84h0M439.31 257.84h0M442.64 257.84h0M445.97 257.84h0M449.3 257.84h0M452.63 257.84h0M455.96 257.84h0M459.29 257.84h0M462.62 257.84h0M465.95 257.84h0M469.28 257.84h0M472.61 257.84h0M475.93 257.84h0M479.26 257.84h0M482.59 257.84h0M485.92 257.84h0M489.25 257.84h0M492.58 257.84h0M495.91 257.84h0M499.24 257.84h0M502.57 257.84h0M505.9 257.84h0M509.23 257.84h0M512.56 257.84h0M515.89 257.84h0M519.22 257.84h0M522.55 257.84h0M525.88 257.84h0M529.21 257.84h0M532.54 257.84h0M535.87 257.84h0M539.2 257.84h0M432.65 260.92h0M435.98 260.92h0M439.31 260.92h0M442.64 260.92h0M445.97 260.92h0M449.3 260.92h0M452.63 260.92h0M455.96 260.92h0M459.29 260.92h0M462.62 260.92h0M465.95 260.92h0M469.28 260.92h0M472.61 260.92h0M475.93 260.92h0M479.26 260.92h0M482.59 260.92h0M485.92 260.92h0M489.25 260.92h0M492.58 260.92h0M495.91 260.92h0M499.24 260.92h0M502.57 260.92h0M505.9 260.92h0M509.23 260.92h0M512.56 260.92h0M515.89 260.92h0M519.22 260.92h0M522.55 260.92h0M525.88 260.92h0M529.21 260.92h0M532.54 260.92h0M535.87 260.92h0M539.2 260.92h0"/>
<path stroke="#ff6333" d="M595.8 254.76h0M585.81 257.84h0M589.14 257.84h0M592.47 257.84h0M595.8 257.84h0M569.16 260.92h0M572.49 260.92h0M575.82 260.92h0M579.15 260.92h0M582.48 260.92h0M585.81 260.92h0M589.14 260.92h0M592.47 260.92h0M549.19 264h0M552.52 264h0M555.84 264h0M559.17 264h0M562.5 264h0M565.83 264h0M569.16 264h0M572.49 264h0M575.82 264h0M579.15 264h0M582.48 264h0"/>
<path stroke="#ff6936" d="M595.8 260.92h0M585.81 264h0M589.14 264h0M592.47 264h0M595.8 264h0"/>
<path stroke="#2685f5" d="M432.65 264h0M435.98 264h0M439.31 264h0M442.64 264h0M445.97 264h0M449.3 264h0M452.63 264h0M455.96 264h0M459.29 264h0M462.62 264h0M465.95 264h0M469.28 264h0M472.61 264h0M475.93 264h0M479.26 264h0M482.59 264h0M485.92 264h0M489.25 264h0M492.58 264h0M495.91 264h0M499.24 264h0M502.57 264h0M505.9 264h0M509.23 264h0M512.56 264h0M515.89 264h0M519.22 264h0M522.55 264h0M525.88 264h0M529.21 264h0M532.54 264h0M535.87 264h0M539.2 264h0"/>
</g>
<path d="M433.15 130.39L436.48 130.39L439.81 130.39L443.14 130.39L446.47 130.39L449.8 130.39L453.13 130.39L456.46 130.39L459.79 130.39L463.12 130.39L466.45 130.39L469.78 130.39L473.11 130.39L476.43 130.39L479.76 130.39L483.09 130.39L486.42 130.39L488.09 131.93L489.75 133.47L493.08 133.47L496.41 133.47L499.74 133.47L503.07 133.47L506.4 133.47L509.73 133.47L511.4 135.01L513.06 136.55L516.39 136.55L519.72 136.55L521.38 138.09L523.05 139.64L524.71 141.18L526.38 142.72L529.71 142.72L531.37 144.26L531.37 147.34L533.04 148.88L534.7 150.42L534.7 153.5L536.37 155.04L538.03 156.58L538.03 159.66L538.03 162.74L538.03 165.82L538.03 168.9L538.03 171.98L538.03 175.06L538.03 178.14L538.03 181.22L538.03 184.3L538.03 187.38L539.7 188.92L541.36 190.47L541.36 193.55L541.36 196.63L541.36 199.71L541.36 202.79L541.36 205.87L541.36 208.95L541.36 212.03L541.36 215.11L541.36 218.19L541.36 221.27L541.36 224.35L541.36 227.43L541.36 230.51L541.36 233.59L541.36 236.67L541.36 239.76L541.36 242.84L541.36 245.92L541.36 249L541.36 252.08L541.36 255.16L541.36 258.24L541.36 261.32L541.36 264.4" stroke="#000" stroke-width="1.1" fill="none" stroke-linejoin="round" stroke-linecap="round"/>
<rect x="424.5" y="105.7" width="179.3" height="165.75" fill="none" stroke="#505050" stroke-width="0.8"/>
<path d="M432.65 271.45v3M465.28 271.45v3M497.91 271.45v3M530.54 271.45v3M563.17 271.45v3M595.8 271.45v3M603.8 130.81h2.6M603.8 175.21h2.6M603.8 219.6h2.6M603.8 264h2.6" stroke="#5a5a5a" stroke-width="0.9" fill="none"/>
<text x="421.75" y="291.55" font-size="12">10</text>
<text y="285.25" font-size="8"><tspan x="435.95">−</tspan><tspan x="442.35">2</tspan></text>
<text x="454.38" y="291.55" font-size="12">10</text>
<text y="285.25" font-size="8"><tspan x="468.58">−</tspan><tspan x="474.98">1</tspan></text>
<text x="491.61" y="291.55" font-size="12">10</text>
<text x="503.81" y="285.25" font-size="8">0</text>
<text x="524.24" y="291.55" font-size="12">10</text>
<text x="536.44" y="285.25" font-size="8">1</text>
<text x="556.87" y="291.55" font-size="12">10</text>
<text x="569.07" y="285.25" font-size="8">2</text>
<text x="589.5" y="291.55" font-size="12">10</text>
<text x="601.7" y="285.25" font-size="8">3</text>
<path d="M50 325.6V491.4M104.38 325.6V491.4M158.77 325.6V491.4M213.15 325.6V491.4M42.15 350.81H221.55M42.15 395.21H221.55M42.15 439.6H221.55M42.15 484H221.55" stroke="#ececec" stroke-width="0.7" fill="none"/>
<g stroke-linecap="round" stroke-width="2.5" fill="none">
<path stroke="#ff0000" d="M50 333.05h0M53.33 333.05h0M56.66 333.05h0M59.99 333.05h0M63.32 333.05h0M66.65 333.05h0M69.98 333.05h0M73.31 333.05h0M76.64 333.05h0M79.97 333.05h0M83.3 333.05h0M86.63 333.05h0M89.96 333.05h0M93.28 333.05h0M96.61 333.05h0M99.94 333.05h0M103.27 333.05h0M106.6 333.05h0M109.93 333.05h0M113.26 333.05h0M116.59 333.05h0M119.92 333.05h0M123.25 333.05h0M126.58 333.05h0M129.91 333.05h0M133.24 333.05h0M136.57 333.05h0M139.9 333.05h0M143.23 333.05h0M146.56 333.05h0M149.89 333.05h0M153.22 333.05h0M156.55 333.05h0M159.88 333.05h0M163.21 333.05h0M166.54 333.05h0M169.87 333.05h0M173.19 333.05h0M176.52 333.05h0M179.85 333.05h0M183.18 333.05h0M186.51 333.05h0M189.84 333.05h0M193.17 333.05h0M196.5 333.05h0M199.83 333.05h0M203.16 333.05h0M206.49 333.05h0M209.82 333.05h0M213.15 333.05h0M50 336.13h0M53.33 336.13h0M56.66 336.13h0M59.99 336.13h0M63.32 336.13h0M66.65 336.13h0M69.98 336.13h0M73.31 336.13h0M76.64 336.13h0M79.97 336.13h0M83.3 336.13h0M86.63 336.13h0M89.96 336.13h0M93.28 336.13h0M96.61 336.13h0M99.94 336.13h0M103.27 336.13h0M106.6 336.13h0M109.93 336.13h0M113.26 336.13h0M116.59 336.13h0M119.92 336.13h0M123.25 336.13h0M126.58 336.13h0M129.91 336.13h0M133.24 336.13h0M136.57 336.13h0M139.9 336.13h0M143.23 336.13h0M146.56 336.13h0M149.89 336.13h0M153.22 336.13h0M156.55 336.13h0M159.88 336.13h0M163.21 336.13h0M166.54 336.13h0M169.87 336.13h0M173.19 336.13h0M176.52 336.13h0M179.85 336.13h0M183.18 336.13h0M186.51 336.13h0M189.84 336.13h0M193.17 336.13h0M196.5 336.13h0M199.83 336.13h0M203.16 336.13h0M206.49 336.13h0M209.82 336.13h0M213.15 336.13h0M50 339.21h0M53.33 339.21h0M56.66 339.21h0M59.99 339.21h0M63.32 339.21h0M66.65 339.21h0M69.98 339.21h0M73.31 339.21h0M76.64 339.21h0M79.97 339.21h0M83.3 339.21h0M86.63 339.21h0M89.96 339.21h0M93.28 339.21h0M96.61 339.21h0M99.94 339.21h0M103.27 339.21h0M106.6 339.21h0M109.93 339.21h0M113.26 339.21h0M116.59 339.21h0M119.92 339.21h0M123.25 339.21h0M126.58 339.21h0M129.91 339.21h0M133.24 339.21h0M136.57 339.21h0M139.9 339.21h0M143.23 339.21h0M146.56 339.21h0M149.89 339.21h0M153.22 339.21h0M156.55 339.21h0M159.88 339.21h0M163.21 339.21h0M166.54 339.21h0M169.87 339.21h0M173.19 339.21h0M176.52 339.21h0M179.85 339.21h0M183.18 339.21h0M186.51 339.21h0M189.84 339.21h0M193.17 339.21h0M196.5 339.21h0M199.83 339.21h0M203.16 339.21h0M206.49 339.21h0M209.82 339.21h0M213.15 339.21h0M50 342.29h0M53.33 342.29h0M56.66 342.29h0M59.99 342.29h0M63.32 342.29h0M66.65 342.29h0M69.98 342.29h0M73.31 342.29h0M76.64 342.29h0M79.97 342.29h0M83.3 342.29h0M86.63 342.29h0M89.96 342.29h0M93.28 342.29h0M96.61 342.29h0M99.94 342.29h0M103.27 342.29h0M106.6 342.29h0M109.93 342.29h0M113.26 342.29h0M116.59 342.29h0M119.92 342.29h0M123.25 342.29h0M126.58 342.29h0M129.91 342.29h0M133.24 342.29h0M136.57 342.29h0M139.9 342.29h0M143.23 342.29h0M146.56 342.29h0M149.89 342.29h0M153.22 342.29h0M156.55 342.29h0M159.88 342.29h0M163.21 342.29h0M166.54 342.29h0M169.87 342.29h0M173.19 342.29h0M176.52 342.29h0M179.85 342.29h0M183.18 342.29h0M186.51 342.29h0M189.84 342.29h0M193.17 342.29h0M196.5 342.29h0M199.83 342.29h0M203.16 342.29h0M206.49 342.29h0M209.82 342.29h0M213.15 342.29h0M50 345.37h0M53.33 345.37h0M56.66 345.37h0M59.99 345.37h0M63.32 345.37h0M66.65 345.37h0M69.98 345.37h0M73.31 345.37h0M76.64 345.37h0M79.97 345.37h0M83.3 345.37h0M86.63 345.37h0M89.96 345.37h0M93.28 345.37h0M96.61 345.37h0M99.94 345.37h0M103.27 345.37h0M106.6 345.37h0M109.93 345.37h0M113.26 345.37h0M116.59 345.37h0M119.92 345.37h0M123.25 345.37h0M126.58 345.37h0M129.91 345.37h0M133.24 345.37h0M136.57 345.37h0M139.9 345.37h0M143.23 345.37h0M146.56 345.37h0M149.89 345.37h0M153.22 345.37h0M156.55 345.37h0M159.88 345.37h0M163.21 345.37h0M166.54 345.37h0M169.87 345.37h0M173.19 345.37h0M176.52 345.37h0M179.85 345.37h0M183.18 345.37h0M186.51 345.37h0M189.84 345.37h0M193.17 345.37h0M196.5 345.37h0M199.83 345.37h0M203.16 345.37h0M206.49 345.37h0M209.82 345.37h0M213.15 345.37h0M50 348.45h0M53.33 348.45h0M56.66 348.45h0M59.99 348.45h0M63.32 348.45h0M66.65 348.45h0M69.98 348.45h0M73.31 348.45h0M76.64 348.45h0M79.97 348.45h0M83.3 348.45h0M86.63 348.45h0M89.96 348.45h0M93.28 348.45h0M96.61 348.45h0M99.94 348.45h0M103.27 348.45h0M106.6 348.45h0M109.93 348.45h0M113.26 348.45h0M116.59 348.45h0M119.92 348.45h0M123.25 348.45h0M126.58 348.45h0M129.91 348.45h0M133.24 348.45h0M136.57 348.45h0M139.9 348.45h0M143.23 348.45h0M146.56 348.45h0M149.89 348.45h0M153.22 348.45h0M156.55 348.45h0M159.88 348.45h0M163.21 348.45h0M166.54 348.45h0M169.87 348.45h0M173.19 348.45h0M176.52 348.45h0M179.85 348.45h0M183.18 348.45h0M186.51 348.45h0M189.84 348.45h0M193.17 348.45h0M196.5 348.45h0M199.83 348.45h0M203.16 348.45h0M206.49 348.45h0M209.82 348.45h0M213.15 348.45h0M50 351.53h0M53.33 351.53h0M56.66 351.53h0M59.99 351.53h0M63.32 351.53h0M66.65 351.53h0M69.98 351.53h0M73.31 351.53h0M76.64 351.53h0M79.97 351.53h0M83.3 351.53h0M86.63 351.53h0M89.96 351.53h0M93.28 351.53h0M96.61 351.53h0M99.94 351.53h0M103.27 351.53h0M106.6 351.53h0M109.93 351.53h0M113.26 351.53h0M116.59 351.53h0M119.92 351.53h0M123.25 351.53h0M126.58 351.53h0M129.91 351.53h0M133.24 351.53h0M136.57 351.53h0M139.9 351.53h0M143.23 351.53h0M146.56 351.53h0M149.89 351.53h0M153.22 351.53h0M156.55 351.53h0M159.88 351.53h0M163.21 351.53h0M166.54 351.53h0M169.87 351.53h0M173.19 351.53h0M176.52 351.53h0M179.85 351.53h0M183.18 351.53h0M186.51 351.53h0M189.84 351.53h0M193.17 351.53h0M196.5 351.53h0M199.83 351.53h0M203.16 351.53h0M206.49 351.53h0M209.82 351.53h0M213.15 351.53h0M79.97 354.61h0M83.3 354.61h0M86.63 354.61h0M89.96 354.61h0M93.28 354.61h0M96.61 354.61h0M99.94 354.61h0M103.27 354.61h0M106.6 354.61h0M109.93 354.61h0M113.26 354.61h0M116.59 354.61h0M119.92 354.61h0M123.25 354.61h0M126.58 354.61h0M129.91 354.61h0M133.24 354.61h0M136.57 354.61h0M139.9 354.61h0M143.23 354.61h0M146.56 354.61h0M149.89 354.61h0M153.22 354.61h0M156.55 354.61h0M159.88 354.61h0M163.21 354.61h0M166.54 354.61h0M169.87 354.61h0M173.19 354.61h0M176.52 354.61h0M179.85 354.61h0M183.18 354.61h0M186.51 354.61h0M189.84 354.61h0M193.17 354.61h0M196.5 354.61h0M199.83 354.61h0M203.16 354.61h0M93.28 357.69h0M99.94 357.69h0M103.27 357.69h0M106.6 357.69h0M109.93 357.69h0M113.26 357.69h0M116.59 357.69h0M119.92 357.69h0M123.25 357.69h0M126.58 357.69h0M129.91 357.69h0M133.24 357.69h0M136.57 357.69h0M139.9 357.69h0M143.23 357.69h0M146.56 357.69h0M149.89 357.69h0M153.22 357.69h0M156.55 357.69h0M159.88 357.69h0M163.21 357.69h0M166.54 357.69h0M169.87 357.69h0M173.19 357.69h0M93.28 360.78h0M99.94 360.78h0M103.27 360.78h0M106.6 360.78h0M109.93 360.78h0M113.26 360.78h0M116.59 360.78h0M119.92 360.78h0M123.25 360.78h0M126.58 360.78h0M129.91 360.78h0M133.24 360.78h0M136.57 360.78h0"/>
<path stroke="#00b4ec" d="M50 354.61h0M53.33 354.61h0M56.66 354.61h0M59.99 354.61h0M63.32 354.61h0M66.65 354.61h0M69.98 354.61h0M73.31 354.61h0M76.64 354.61h0"/>
<path stroke="#ff0603" d="M206.49 354.61h0M209.82 354.61h0M213.15 354.61h0M176.52 357.69h0M179.85 357.69h0M183.18 357.69h0M186.51 357.69h0M189.84 357.69h0M193.17 357.69h0M196.5 357.69h0M199.83 357.69h0M203.16 357.69h0M206.49 357.69h0M209.82 357.69h0M213.15 357.69h0M139.9 360.78h0M143.23 360.78h0M146.56 360.78h0M149.89 360.78h0M153.22 360.78h0M156.55 360.78h0M159.88 360.78h0M163.21 360.78h0M166.54 360.78h0M169.87 360.78h0M173.19 360.78h0M176.52 360.78h0M179.85 360.78h0M183.18 360.78h0M186.51 360.78h0M189.84 360.78h0M193.17 360.78h0M196.5 360.78h0M199.83 360.78h0M203.16 360.78h0M206.49 360.78h0M209.82 360.78h0M213.15 360.78h0M93.28 363.86h0M99.94 363.86h0M103.27 363.86h0M106.6 363.86h0M109.93 363.86h0M113.26 363.86h0M116.59 363.86h0M119.92 363.86h0M123.25 363.86h0M126.58 363.86h0M129.91 363.86h0M133.24 363.86h0M136.57 363.86h0M139.9 363.86h0M143.23 363.86h0M146.56 363.86h0M149.89 363.86h0M153.22 363.86h0M156.55 363.86h0M159.88 363.86h0M163.21 363.86h0M166.54 363.86h0M169.87 363.86h0M173.19 363.86h0M176.52 363.86h0M179.85 363.86h0M183.18 363.86h0M186.51 363.86h0M189.84 363.86h0M193.17 363.86h0M196.5 363.86h0M199.83 363.86h0M99.94 366.94h0M103.27 366.94h0M106.6 366.94h0M109.93 366.94h0M113.26 366.94h0M116.59 366.94h0M119.92 366.94h0M123.25 366.94h0M126.58 366.94h0M129.91 366.94h0M133.24 366.94h0M136.57 366.94h0M139.9 366.94h0M143.23 366.94h0M146.56 366.94h0M149.89 366.94h0M153.22 366.94h0M156.55 366.94h0M159.88 366.94h0M163.21 366.94h0M166.54 366.94h0M169.87 366.94h0M173.19 366.94h0M176.52 366.94h0M179.85 366.94h0M99.94 370.02h0M103.27 370.02h0M106.6 370.02h0M109.93 370.02h0M113.26 370.02h0M116.59 370.02h0M119.92 370.02h0M123.25 370.02h0M126.58 370.02h0M129.91 370.02h0M133.24 370.02h0M136.57 370.02h0M139.9 370.02h0M143.23 370.02h0M146.56 370.02h0M149.89 370.02h0M153.22 370.02h0M156.55 370.02h0M109.93 373.1h0M113.26 373.1h0M116.59 373.1h0M119.92 373.1h0M123.25 373.1h0M126.58 373.1h0M129.91 373.1h0M133.24 373.1h0"/>
<path stroke="#04b0ed" d="M50 357.69h0M53.33 357.69h0M56.66 357.69h0M59.99 357.69h0M63.32 357.69h0M66.65 357.69h0M69.98 357.69h0M73.31 357.69h0M76.64 357.69h0M79.97 357.69h0M83.3 357.69h0M86.63 357.69h0M89.96 357.69h0M96.61 357.69h0M50 360.78h0M53.33 360.78h0M56.66 360.78h0M59.99 360.78h0M63.32 360.78h0M66.65 360.78h0M69.98 360.78h0M73.31 360.78h0M76.64 360.78h0M79.97 360.78h0M83.3 360.78h0M86.63 360.78h0M89.96 360.78h0M96.61 360.78h0M50 363.86h0M53.33 363.86h0M56.66 363.86h0M59.99 363.86h0M63.32 363.86h0M66.65 363.86h0M69.98 363.86h0M73.31 363.86h0M76.64 363.86h0M79.97 363.86h0M83.3 363.86h0M86.63 363.86h0M89.96 363.86h0M96.61 363.86h0M50 366.94h0M53.33 366.94h0M56.66 366.94h0M59.99 366.94h0M63.32 366.94h0M66.65 366.94h0M69.98 366.94h0M73.31 366.94h0M76.64 366.94h0M79.97 366.94h0M83.3 366.94h0M86.63 366.94h0M89.96 366.94h0M93.28 366.94h0M96.61 366.94h0M50 370.02h0M53.33 370.02h0M56.66 370.02h0M59.99 370.02h0M63.32 370.02h0M66.65 370.02h0M69.98 370.02h0M73.31 370.02h0M76.64 370.02h0M79.97 370.02h0M83.3 370.02h0M86.63 370.02h0M89.96 370.02h0M93.28 370.02h0M96.61 370.02h0M50 373.1h0M53.33 373.1h0M56.66 373.1h0M59.99 373.1h0M63.32 373.1h0M66.65 373.1h0M69.98 373.1h0M73.31 373.1h0M76.64 373.1h0M79.97 373.1h0M83.3 373.1h0M86.63 373.1h0M89.96 373.1h0M93.28 373.1h0M96.61 373.1h0M99.94 373.1h0M103.27 373.1h0M106.6 373.1h0"/>
<path stroke="#ff0c06" d="M203.16 363.86h0M206.49 363.86h0M209.82 363.86h0M213.15 363.86h0M183.18 366.94h0M186.51 366.94h0M189.84 366.94h0M193.17 366.94h0M196.5 366.94h0M199.83 366.94h0M203.16 366.94h0M206.49 366.94h0M209.82 366.94h0M213.15 366.94h0M159.88 370.02h0M163.21 370.02h0M166.54 370.02h0M169.87 370.02h0M173.19 370.02h0M176.52 370.02h0M179.85 370.02h0M183.18 370.02h0M186.51 370.02h0M189.84 370.02h0M193.17 370.02h0M196.5 370.02h0M199.83 370.02h0M203.16 370.02h0M206.49 370.02h0M136.57 373.1h0M139.9 373.1h0M143.23 373.1h0M146.56 373.1h0M149.89 373.1h0M153.22 373.1h0M156.55 373.1h0M159.88 373.1h0M163.21 373.1h0M166.54 373.1h0M169.87 373.1h0M173.19 373.1h0M176.52 373.1h0M179.85 373.1h0M183.18 373.1h0M186.51 373.1h0M189.84 373.1h0M193.17 373.1h0M109.93 376.18h0M113.26 376.18h0M116.59 376.18h0M119.92 376.18h0M123.25 376.18h0M126.58 376.18h0M129.91 376.18h0M133.24 376.18h0M136.57 376.18h0M139.9 376.18h0M143.23 376.18h0M146.56 376.18h0M149.89 376.18h0M153.22 376.18h0M156.55 376.18h0M159.88 376.18h0M163.21 376.18h0M166.54 376.18h0M169.87 376.18h0M173.19 376.18h0M176.52 376.18h0M109.93 379.26h0M113.26 379.26h0M116.59 379.26h0M119.92 379.26h0M126.58 379.26h0M129.91 379.26h0M133.24 379.26h0M136.57 379.26h0M139.9 379.26h0M143.23 379.26h0M146.56 379.26h0M149.89 379.26h0M153.22 379.26h0M156.55 379.26h0M159.88 379.26h0M163.21 379.26h0M109.93 382.34h0M116.59 382.34h0M119.92 382.34h0M126.58 382.34h0M129.91 382.34h0M133.24 382.34h0M136.57 382.34h0M143.23 382.34h0M146.56 382.34h0M109.93 385.42h0M119.92 385.42h0"/>
<path stroke="#ff1209" d="M209.82 370.02h0M213.15 370.02h0M196.5 373.1h0M199.83 373.1h0M203.16 373.1h0M206.49 373.1h0M209.82 373.1h0M213.15 373.1h0M179.85 376.18h0M183.18 376.18h0M186.51 376.18h0M189.84 376.18h0M193.17 376.18h0M196.5 376.18h0M199.83 376.18h0M203.16 376.18h0M206.49 376.18h0M209.82 376.18h0M166.54 379.26h0M169.87 379.26h0M173.19 379.26h0M176.52 379.26h0M179.85 379.26h0M183.18 379.26h0M186.51 379.26h0M189.84 379.26h0M193.17 379.26h0M196.5 379.26h0M199.83 379.26h0M149.89 382.34h0M153.22 382.34h0M156.55 382.34h0M159.88 382.34h0M163.21 382.34h0M166.54 382.34h0M169.87 382.34h0M173.19 382.34h0M176.52 382.34h0M179.85 382.34h0M183.18 382.34h0M186.51 382.34h0M126.58 385.42h0M129.91 385.42h0M133.24 385.42h0M136.57 385.42h0M143.23 385.42h0M146.56 385.42h0M149.89 385.42h0M153.22 385.42h0M156.55 385.42h0M159.88 385.42h0M163.21 385.42h0M166.54 385.42h0M169.87 385.42h0M173.19 385.42h0M176.52 385.42h0M119.92 388.5h0M126.58 388.5h0M129.91 388.5h0M133.24 388.5h0M136.57 388.5h0M143.23 388.5h0M146.56 388.5h0M149.89 388.5h0M153.22 388.5h0M156.55 388.5h0M159.88 388.5h0M163.21 388.5h0M119.92 391.58h0M126.58 391.58h0M129.91 391.58h0M133.24 391.58h0M136.57 391.58h0M143.23 391.58h0M146.56 391.58h0M149.89 391.58h0M119.92 394.66h0M126.58 394.66h0M129.91 394.66h0M133.24 394.66h0"/>
<path stroke="#08acee" d="M50 376.18h0M53.33 376.18h0M56.66 376.18h0M59.99 376.18h0M63.32 376.18h0M66.65 376.18h0M69.98 376.18h0M73.31 376.18h0M76.64 376.18h0M79.97 376.18h0M83.3 376.18h0M86.63 376.18h0M89.96 376.18h0M93.28 376.18h0M96.61 376.18h0M99.94 376.18h0M103.27 376.18h0M106.6 376.18h0M50 379.26h0M53.33 379.26h0M56.66 379.26h0M59.99 379.26h0M63.32 379.26h0M66.65 379.26h0M69.98 379.26h0M73.31 379.26h0M76.64 379.26h0M79.97 379.26h0M83.3 379.26h0M86.63 379.26h0M89.96 379.26h0M93.28 379.26h0M96.61 379.26h0M99.94 379.26h0M103.27 379.26h0M106.6 379.26h0M123.25 379.26h0M50 382.34h0M53.33 382.34h0M56.66 382.34h0M59.99 382.34h0M63.32 382.34h0M66.65 382.34h0M69.98 382.34h0M73.31 382.34h0M76.64 382.34h0M79.97 382.34h0M83.3 382.34h0M86.63 382.34h0M89.96 382.34h0M93.28 382.34h0M96.61 382.34h0M99.94 382.34h0M103.27 382.34h0M106.6 382.34h0M113.26 382.34h0M123.25 382.34h0M139.9 382.34h0M50 385.42h0M53.33 385.42h0M56.66 385.42h0M59.99 385.42h0M63.32 385.42h0M66.65 385.42h0M69.98 385.42h0M73.31 385.42h0M76.64 385.42h0M79.97 385.42h0M83.3 385.42h0M86.63 385.42h0M89.96 385.42h0M93.28 385.42h0M96.61 385.42h0M99.94 385.42h0M103.27 385.42h0M106.6 385.42h0M113.26 385.42h0M116.59 385.42h0M123.25 385.42h0M139.9 385.42h0M50 388.5h0M53.33 388.5h0M56.66 388.5h0M59.99 388.5h0M63.32 388.5h0M66.65 388.5h0M69.98 388.5h0M73.31 388.5h0M76.64 388.5h0M79.97 388.5h0M83.3 388.5h0M86.63 388.5h0M89.96 388.5h0M93.28 388.5h0M96.61 388.5h0M99.94 388.5h0M103.27 388.5h0M106.6 388.5h0M109.93 388.5h0M113.26 388.5h0M116.59 388.5h0M123.25 388.5h0M139.9 388.5h0"/>
<path stroke="#ff180c" d="M213.15 376.18h0M203.16 379.26h0M206.49 379.26h0M209.82 379.26h0M213.15 379.26h0M189.84 382.34h0M193.17 382.34h0M196.5 382.34h0M199.83 382.34h0M203.16 382.34h0M206.49 382.34h0M209.82 382.34h0M213.15 382.34h0M179.85 385.42h0M183.18 385.42h0M186.51 385.42h0M189.84 385.42h0M193.17 385.42h0M196.5 385.42h0M199.83 385.42h0M203.16 385.42h0M166.54 388.5h0M169.87 388.5h0M173.19 388.5h0M176.52 388.5h0M179.85 388.5h0M183.18 388.5h0M186.51 388.5h0M189.84 388.5h0M193.17 388.5h0M153.22 391.58h0M156.55 391.58h0M159.88 391.58h0M163.21 391.58h0M166.54 391.58h0M169.87 391.58h0M173.19 391.58h0M176.52 391.58h0M179.85 391.58h0M183.18 391.58h0M136.57 394.66h0M143.23 394.66h0M146.56 394.66h0M149.89 394.66h0M153.22 394.66h0M156.55 394.66h0M159.88 394.66h0M163.21 394.66h0M166.54 394.66h0M169.87 394.66h0M173.19 394.66h0M119.92 397.74h0M126.58 397.74h0M129.91 397.74h0M133.24 397.74h0M136.57 397.74h0M143.23 397.74h0M146.56 397.74h0M149.89 397.74h0M153.22 397.74h0M156.55 397.74h0M159.88 397.74h0M163.21 397.74h0M119.92 400.82h0M126.58 400.82h0M129.91 400.82h0M133.24 400.82h0M136.57 400.82h0M143.23 400.82h0M146.56 400.82h0M149.89 400.82h0M126.58 403.9h0M129.91 403.9h0M133.24 403.9h0M136.57 403.9h0"/>
<path stroke="#ff1e0f" d="M206.49 385.42h0M209.82 385.42h0M213.15 385.42h0M196.5 388.5h0M199.83 388.5h0M203.16 388.5h0M206.49 388.5h0M209.82 388.5h0M213.15 388.5h0M186.51 391.58h0M189.84 391.58h0M193.17 391.58h0M196.5 391.58h0M199.83 391.58h0M203.16 391.58h0M176.52 394.66h0M179.85 394.66h0M183.18 394.66h0M186.51 394.66h0M189.84 394.66h0M193.17 394.66h0M166.54 397.74h0M169.87 397.74h0M173.19 397.74h0M176.52 397.74h0M179.85 397.74h0M183.18 397.74h0M186.51 397.74h0M153.22 400.82h0M156.55 400.82h0M159.88 400.82h0M163.21 400.82h0M166.54 400.82h0M169.87 400.82h0M173.19 400.82h0M176.52 400.82h0M143.23 403.9h0M146.56 403.9h0M149.89 403.9h0M153.22 403.9h0M156.55 403.9h0M159.88 403.9h0M163.21 403.9h0M166.54 403.9h0M169.87 403.9h0M126.58 406.98h0M129.91 406.98h0M133.24 406.98h0M136.57 406.98h0M143.23 406.98h0M146.56 406.98h0M149.89 406.98h0M153.22 406.98h0M156.55 406.98h0M159.88 406.98h0M126.58 410.07h0M129.91 410.07h0M133.24 410.07h0M136.57 410.07h0M143.23 410.07h0M146.56 410.07h0M149.89 410.07h0M126.58 413.15h0M129.91 413.15h0M133.24 413.15h0M136.57 413.15h0M126.58 416.23h0"/>
<path stroke="#0ba7ef" d="M50 391.58h0M53.33 391.58h0M56.66 391.58h0M59.99 391.58h0M63.32 391.58h0M66.65 391.58h0M69.98 391.58h0M73.31 391.58h0M76.64 391.58h0M79.97 391.58h0M83.3 391.58h0M86.63 391.58h0M89.96 391.58h0M93.28 391.58h0M96.61 391.58h0M99.94 391.58h0M103.27 391.58h0M106.6 391.58h0M109.93 391.58h0M113.26 391.58h0M116.59 391.58h0M123.25 391.58h0M139.9 391.58h0M50 394.66h0M53.33 394.66h0M56.66 394.66h0M59.99 394.66h0M63.32 394.66h0M66.65 394.66h0M69.98 394.66h0M73.31 394.66h0M76.64 394.66h0M79.97 394.66h0M83.3 394.66h0M86.63 394.66h0M89.96 394.66h0M93.28 394.66h0M96.61 394.66h0M99.94 394.66h0M103.27 394.66h0M106.6 394.66h0M109.93 394.66h0M113.26 394.66h0M116.59 394.66h0M123.25 394.66h0M139.9 394.66h0M50 397.74h0M53.33 397.74h0M56.66 397.74h0M59.99 397.74h0M63.32 397.74h0M66.65 397.74h0M69.98 397.74h0M73.31 397.74h0M76.64 397.74h0M79.97 397.74h0M83.3 397.74h0M86.63 397.74h0M89.96 397.74h0M93.28 397.74h0M96.61 397.74h0M99.94 397.74h0M103.27 397.74h0M106.6 397.74h0M109.93 397.74h0M113.26 397.74h0M116.59 397.74h0M123.25 397.74h0M139.9 397.74h0M50 400.82h0M53.33 400.82h0M56.66 400.82h0M59.99 400.82h0M63.32 400.82h0M66.65 400.82h0M69.98 400.82h0M73.31 400.82h0M76.64 400.82h0M79.97 400.82h0M83.3 400.82h0M86.63 400.82h0M89.96 400.82h0M93.28 400.82h0M96.61 400.82h0M99.94 400.82h0M103.27 400.82h0M106.6 400.82h0M109.93 400.82h0M113.26 400.82h0M116.59 400.82h0M123.25 400.82h0M139.9 400.82h0M50 403.9h0M53.33 403.9h0M56.66 403.9h0M59.99 403.9h0M63.32 403.9h0M66.65 403.9h0M69.98 403.9h0M73.31 403.9h0M76.64 403.9h0M79.97 403.9h0M83.3 403.9h0M86.63 403.9h0M89.96 403.9h0M93.28 403.9h0M96.61 403.9h0M99.94 403.9h0M103.27 403.9h0M106.6 403.9h0M109.93 403.9h0M113.26 403.9h0M116.59 403.9h0M119.92 403.9h0M123.25 403.9h0M139.9 403.9h0"/>
<path stroke="#ff2412" d="M206.49 391.58h0M209.82 391.58h0M213.15 391.58h0M196.5 394.66h0M199.83 394.66h0M203.16 394.66h0M206.49 394.66h0M209.82 394.66h0M213.15 394.66h0M189.84 397.74h0M193.17 397.74h0M196.5 397.74h0M199.83 397.74h0M203.16 397.74h0M179.85 400.82h0M183.18 400.82h0M186.51 400.82h0M189.84 400.82h0M193.17 400.82h0M196.5 400.82h0M173.19 403.9h0M176.52 403.9h0M179.85 403.9h0M183.18 403.9h0M186.51 403.9h0M189.84 403.9h0M163.21 406.98h0M166.54 406.98h0M169.87 406.98h0M173.19 406.98h0M176.52 406.98h0M179.85 406.98h0M153.22 410.07h0M156.55 410.07h0M159.88 410.07h0M163.21 410.07h0M166.54 410.07h0M169.87 410.07h0M173.19 410.07h0M143.23 413.15h0M146.56 413.15h0M149.89 413.15h0M153.22 413.15h0M156.55 413.15h0M159.88 413.15h0M163.21 413.15h0M166.54 413.15h0M129.91 416.23h0M133.24 416.23h0M136.57 416.23h0M143.23 416.23h0M146.56 416.23h0M149.89 416.23h0M153.22 416.23h0M156.55 416.23h0M126.58 419.31h0M129.91 419.31h0M133.24 419.31h0M136.57 419.31h0M143.23 419.31h0M146.56 419.31h0M149.89 419.31h0M129.91 422.39h0M133.24 422.39h0M136.57 422.39h0"/>
<path stroke="#ff2a15" d="M206.49 397.74h0M209.82 397.74h0M213.15 397.74h0M199.83 400.82h0M203.16 400.82h0M206.49 400.82h0M209.82 400.82h0M193.17 403.9h0M196.5 403.9h0M199.83 403.9h0M203.16 403.9h0M183.18 406.98h0M186.51 406.98h0M189.84 406.98h0M193.17 406.98h0M196.5 406.98h0M176.52 410.07h0M179.85 410.07h0M183.18 410.07h0M186.51 410.07h0M189.84 410.07h0M169.87 413.15h0M173.19 413.15h0M176.52 413.15h0M179.85 413.15h0M183.18 413.15h0M159.88 416.23h0M163.21 416.23h0M166.54 416.23h0M169.87 416.23h0M173.19 416.23h0M176.52 416.23h0M153.22 419.31h0M156.55 419.31h0M159.88 419.31h0M163.21 419.31h0M166.54 419.31h0M169.87 419.31h0M143.23 422.39h0M146.56 422.39h0M149.89 422.39h0M153.22 422.39h0M156.55 422.39h0M159.88 422.39h0M163.21 422.39h0M133.24 425.47h0M136.57 425.47h0M143.23 425.47h0M146.56 425.47h0M149.89 425.47h0M153.22 425.47h0M156.55 425.47h0M136.57 428.55h0M146.56 428.55h0M136.57 431.63h0"/>
<path stroke="#ff3018" d="M213.15 400.82h0M206.49 403.9h0M209.82 403.9h0M213.15 403.9h0M199.83 406.98h0M203.16 406.98h0M206.49 406.98h0M209.82 406.98h0M193.17 410.07h0M196.5 410.07h0M199.83 410.07h0M203.16 410.07h0M186.51 413.15h0M189.84 413.15h0M193.17 413.15h0M196.5 413.15h0M179.85 416.23h0M183.18 416.23h0M186.51 416.23h0M189.84 416.23h0M173.19 419.31h0M176.52 419.31h0M179.85 419.31h0M183.18 419.31h0M166.54 422.39h0M169.87 422.39h0M173.19 422.39h0M179.85 422.39h0M163.21 425.47h0M166.54 425.47h0M169.87 425.47h0M173.19 425.47h0M149.89 428.55h0M153.22 428.55h0M156.55 428.55h0M163.21 428.55h0M166.54 428.55h0M146.56 431.63h0M149.89 431.63h0M153.22 431.63h0M156.55 431.63h0M136.57 434.71h0M146.56 434.71h0M153.22 434.71h0M136.57 437.79h0M146.56 437.79h0M136.57 440.87h0"/>
<path stroke="#0fa3f0" d="M50 406.98h0M53.33 406.98h0M56.66 406.98h0M59.99 406.98h0M63.32 406.98h0M66.65 406.98h0M69.98 406.98h0M73.31 406.98h0M76.64 406.98h0M79.97 406.98h0M83.3 406.98h0M86.63 406.98h0M89.96 406.98h0M93.28 406.98h0M96.61 406.98h0M99.94 406.98h0M103.27 406.98h0M106.6 406.98h0M109.93 406.98h0M113.26 406.98h0M116.59 406.98h0M119.92 406.98h0M123.25 406.98h0M139.9 406.98h0M50 410.07h0M53.33 410.07h0M56.66 410.07h0M59.99 410.07h0M63.32 410.07h0M66.65 410.07h0M69.98 410.07h0M73.31 410.07h0M76.64 410.07h0M79.97 410.07h0M83.3 410.07h0M86.63 410.07h0M89.96 410.07h0M93.28 410.07h0M96.61 410.07h0M99.94 410.07h0M103.27 410.07h0M106.6 410.07h0M109.93 410.07h0M113.26 410.07h0M116.59 410.07h0M119.92 410.07h0M123.25 410.07h0M139.9 410.07h0M50 413.15h0M53.33 413.15h0M56.66 413.15h0M59.99 413.15h0M63.32 413.15h0M66.65 413.15h0M69.98 413.15h0M73.31 413.15h0M76.64 413.15h0M79.97 413.15h0M83.3 413.15h0M86.63 413.15h0M89.96 413.15h0M93.28 413.15h0M96.61 413.15h0M99.94 413.15h0M103.27 413.15h0M106.6 413.15h0M109.93 413.15h0M113.26 413.15h0M116.59 413.15h0M119.92 413.15h0M123.25 413.15h0M139.9 413.15h0M50 416.23h0M53.33 416.23h0M56.66 416.23h0M59.99 416.23h0M63.32 416.23h0M66.65 416.23h0M69.98 416.23h0M73.31 416.23h0M76.64 416.23h0M79.97 416.23h0M83.3 416.23h0M86.63 416.23h0M89.96 416.23h0M93.28 416.23h0M96.61 416.23h0M99.94 416.23h0M103.27 416.23h0M106.6 416.23h0M109.93 416.23h0M113.26 416.23h0M116.59 416.23h0M119.92 416.23h0M123.25 416.23h0M139.9 416.23h0M50 419.31h0M53.33 419.31h0M56.66 419.31h0M59.99 419.31h0M63.32 419.31h0M66.65 419.31h0M69.98 419.31h0M73.31 419.31h0M76.64 419.31h0M79.97 419.31h0M83.3 419.31h0M86.63 419.31h0M89.96 419.31h0M93.28 419.31h0M96.61 419.31h0M99.94 419.31h0M103.27 419.31h0M106.6 419.31h0M109.93 419.31h0M113.26 419.31h0M116.59 419.31h0M119.92 419.31h0M123.25 419.31h0M139.9 419.31h0"/>
<path stroke="#ff361b" d="M213.15 406.98h0M206.49 410.07h0M209.82 410.07h0M213.15 410.07h0M199.83 413.15h0M203.16 413.15h0M206.49 413.15h0M209.82 413.15h0M193.17 416.23h0M196.5 416.23h0M199.83 416.23h0M203.16 416.23h0M186.51 419.31h0M189.84 419.31h0M193.17 419.31h0M196.5 419.31h0M183.18 422.39h0M186.51 422.39h0M189.84 422.39h0M179.85 425.47h0M183.18 425.47h0M186.51 425.47h0M169.87 428.55h0M173.19 428.55h0M179.85 428.55h0M163.21 431.63h0M166.54 431.63h0M169.87 431.63h0M173.19 431.63h0M156.55 434.71h0M163.21 434.71h0M166.54 434.71h0M169.87 434.71h0M153.22 437.79h0M156.55 437.79h0M163.21 437.79h0M146.56 440.87h0M153.22 440.87h0M156.55 440.87h0M136.57 443.95h0M146.56 443.95h0"/>
<path stroke="#ff3c1e" d="M213.15 413.15h0M206.49 416.23h0M209.82 416.23h0M213.15 416.23h0M199.83 419.31h0M203.16 419.31h0M206.49 419.31h0M193.17 422.39h0M196.5 422.39h0M199.83 422.39h0M203.16 422.39h0M189.84 425.47h0M193.17 425.47h0M196.5 425.47h0M183.18 428.55h0M186.51 428.55h0M189.84 428.55h0M179.85 431.63h0M183.18 431.63h0M186.51 431.63h0M173.19 434.71h0M179.85 434.71h0M166.54 437.79h0M169.87 437.79h0M173.19 437.79h0M163.21 440.87h0M166.54 440.87h0M169.87 440.87h0M153.22 443.95h0M156.55 443.95h0M163.21 443.95h0M166.54 443.95h0M146.56 447.03h0M153.22 447.03h0M156.55 447.03h0M146.56 450.11h0M153.22 450.11h0M146.56 453.19h0"/>
<path stroke="#ff4121" d="M209.82 419.31h0M213.15 419.31h0M206.49 422.39h0M209.82 422.39h0M213.15 422.39h0M199.83 425.47h0M203.16 425.47h0M206.49 425.47h0M193.17 428.55h0M196.5 428.55h0M199.83 428.55h0M189.84 431.63h0M193.17 431.63h0M196.5 431.63h0M183.18 434.71h0M186.51 434.71h0M189.84 434.71h0M179.85 437.79h0M183.18 437.79h0M186.51 437.79h0M173.19 440.87h0M179.85 440.87h0M169.87 443.95h0M173.19 443.95h0M163.21 447.03h0M166.54 447.03h0M169.87 447.03h0M173.19 447.03h0M156.55 450.11h0M163.21 450.11h0M166.54 450.11h0M153.22 453.19h0M156.55 453.19h0M163.21 453.19h0M146.56 456.27h0M153.22 456.27h0M156.55 456.27h0M146.56 459.36h0M153.22 459.36h0M146.56 462.44h0"/>
<path stroke="#139ef1" d="M50 422.39h0M53.33 422.39h0M56.66 422.39h0M59.99 422.39h0M63.32 422.39h0M66.65 422.39h0M69.98 422.39h0M73.31 422.39h0M76.64 422.39h0M79.97 422.39h0M83.3 422.39h0M86.63 422.39h0M89.96 422.39h0M93.28 422.39h0M96.61 422.39h0M99.94 422.39h0M103.27 422.39h0M106.6 422.39h0M109.93 422.39h0M113.26 422.39h0M116.59 422.39h0M119.92 422.39h0M123.25 422.39h0M126.58 422.39h0M139.9 422.39h0M176.52 422.39h0M50 425.47h0M53.33 425.47h0M56.66 425.47h0M59.99 425.47h0M63.32 425.47h0M66.65 425.47h0M69.98 425.47h0M73.31 425.47h0M76.64 425.47h0M79.97 425.47h0M83.3 425.47h0M86.63 425.47h0M89.96 425.47h0M93.28 425.47h0M96.61 425.47h0M99.94 425.47h0M103.27 425.47h0M106.6 425.47h0M109.93 425.47h0M113.26 425.47h0M116.59 425.47h0M119.92 425.47h0M123.25 425.47h0M126.58 425.47h0M129.91 425.47h0M139.9 425.47h0M159.88 425.47h0M176.52 425.47h0M50 428.55h0M53.33 428.55h0M56.66 428.55h0M59.99 428.55h0M63.32 428.55h0M66.65 428.55h0M69.98 428.55h0M73.31 428.55h0M76.64 428.55h0M79.97 428.55h0M83.3 428.55h0M86.63 428.55h0M89.96 428.55h0M93.28 428.55h0M96.61 428.55h0M99.94 428.55h0M103.27 428.55h0M106.6 428.55h0M109.93 428.55h0M113.26 428.55h0M116.59 428.55h0M119.92 428.55h0M123.25 428.55h0M126.58 428.55h0M129.91 428.55h0M133.24 428.55h0M139.9 428.55h0M143.23 428.55h0M159.88 428.55h0M176.52 428.55h0M50 431.63h0M53.33 431.63h0M56.66 431.63h0M59.99 431.63h0M63.32 431.63h0M66.65 431.63h0M69.98 431.63h0M73.31 431.63h0M76.64 431.63h0M79.97 431.63h0M83.3 431.63h0M86.63 431.63h0M89.96 431.63h0M93.28 431.63h0M96.61 431.63h0M99.94 431.63h0M103.27 431.63h0M106.6 431.63h0M109.93 431.63h0M113.26 431.63h0M116.59 431.63h0M119.92 431.63h0M123.25 431.63h0M126.58 431.63h0M129.91 431.63h0M133.24 431.63h0M139.9 431.63h0M143.23 431.63h0M159.88 431.63h0M176.52 431.63h0"/>
<path stroke="#ff4724" d="M209.82 425.47h0M213.15 425.47h0M203.16 428.55h0M206.49 428.55h0M209.82 428.55h0M199.83 431.63h0M203.16 431.63h0M206.49 431.63h0M193.17 434.71h0M196.5 434.71h0M199.83 434.71h0M189.84 437.79h0M193.17 437.79h0M196.5 437.79h0M183.18 440.87h0M186.51 440.87h0M189.84 440.87h0M179.85 443.95h0M183.18 443.95h0M186.51 443.95h0M179.85 447.03h0M183.18 447.03h0M169.87 450.11h0M173.19 450.11h0M166.54 453.19h0M169.87 453.19h0M173.19 453.19h0M163.21 456.27h0M166.54 456.27h0M169.87 456.27h0M156.55 459.36h0M163.21 459.36h0M153.22 462.44h0M156.55 462.44h0M146.56 465.52h0M153.22 465.52h0M146.56 468.6h0"/>
<path stroke="#ff4d27" d="M213.15 428.55h0M209.82 431.63h0M213.15 431.63h0M203.16 434.71h0M206.49 434.71h0M209.82 434.71h0M199.83 437.79h0M203.16 437.79h0M193.17 440.87h0M196.5 440.87h0M199.83 440.87h0M189.84 443.95h0M193.17 443.95h0M196.5 443.95h0M186.51 447.03h0M189.84 447.03h0M179.85 450.11h0M183.18 450.11h0M186.51 450.11h0M179.85 453.19h0M183.18 453.19h0M173.19 456.27h0M166.54 459.36h0M169.87 459.36h0M173.19 459.36h0M163.21 462.44h0M166.54 462.44h0M169.87 462.44h0M156.55 465.52h0M163.21 465.52h0M166.54 465.52h0M153.22 468.6h0M156.55 468.6h0M146.56 471.68h0M153.22 471.68h0M156.55 471.68h0M146.56 474.76h0M153.22 474.76h0M146.56 477.84h0"/>
<path stroke="#1799f2" d="M50 434.71h0M53.33 434.71h0M56.66 434.71h0M59.99 434.71h0M63.32 434.71h0M66.65 434.71h0M69.98 434.71h0M73.31 434.71h0M76.64 434.71h0M79.97 434.71h0M83.3 434.71h0M86.63 434.71h0M89.96 434.71h0M93.28 434.71h0M96.61 434.71h0M99.94 434.71h0M103.27 434.71h0M106.6 434.71h0M109.93 434.71h0M113.26 434.71h0M116.59 434.71h0M119.92 434.71h0M123.25 434.71h0M126.58 434.71h0M129.91 434.71h0M133.24 434.71h0M139.9 434.71h0M143.23 434.71h0M149.89 434.71h0M159.88 434.71h0M176.52 434.71h0M50 437.79h0M53.33 437.79h0M56.66 437.79h0M59.99 437.79h0M63.32 437.79h0M66.65 437.79h0M69.98 437.79h0M73.31 437.79h0M76.64 437.79h0M79.97 437.79h0M83.3 437.79h0M86.63 437.79h0M89.96 437.79h0M93.28 437.79h0M96.61 437.79h0M99.94 437.79h0M103.27 437.79h0M106.6 437.79h0M109.93 437.79h0M113.26 437.79h0M116.59 437.79h0M119.92 437.79h0M123.25 437.79h0M126.58 437.79h0M129.91 437.79h0M133.24 437.79h0M139.9 437.79h0M143.23 437.79h0M149.89 437.79h0M159.88 437.79h0M176.52 437.79h0M50 440.87h0M53.33 440.87h0M56.66 440.87h0M59.99 440.87h0M63.32 440.87h0M66.65 440.87h0M69.98 440.87h0M73.31 440.87h0M76.64 440.87h0M79.97 440.87h0M83.3 440.87h0M86.63 440.87h0M89.96 440.87h0M93.28 440.87h0M96.61 440.87h0M99.94 440.87h0M103.27 440.87h0M106.6 440.87h0M109.93 440.87h0M113.26 440.87h0M116.59 440.87h0M119.92 440.87h0M123.25 440.87h0M126.58 440.87h0M129.91 440.87h0M133.24 440.87h0M139.9 440.87h0M143.23 440.87h0M149.89 440.87h0M159.88 440.87h0M176.52 440.87h0M50 443.95h0M53.33 443.95h0M56.66 443.95h0M59.99 443.95h0M63.32 443.95h0M66.65 443.95h0M69.98 443.95h0M73.31 443.95h0M76.64 443.95h0M79.97 443.95h0M83.3 443.95h0M86.63 443.95h0M89.96 443.95h0M93.28 443.95h0M96.61 443.95h0M99.94 443.95h0M103.27 443.95h0M106.6 443.95h0M109.93 443.95h0M113.26 443.95h0M116.59 443.95h0M119.92 443.95h0M123.25 443.95h0M126.58 443.95h0M129.91 443.95h0M133.24 443.95h0M139.9 443.95h0M143.23 443.95h0M149.89 443.95h0M159.88 443.95h0M176.52 443.95h0"/>
<path stroke="#ff532a" d="M213.15 434.71h0M206.49 437.79h0M209.82 437.79h0M203.16 440.87h0M206.49 440.87h0M199.83 443.95h0M203.16 443.95h0M193.17 447.03h0M196.5 447.03h0M199.83 447.03h0M189.84 450.11h0M193.17 450.11h0M186.51 453.19h0M189.84 453.19h0M179.85 456.27h0M183.18 456.27h0M186.51 456.27h0M179.85 459.36h0M183.18 459.36h0M173.19 462.44h0M169.87 465.52h0M173.19 465.52h0M163.21 468.6h0M166.54 468.6h0M169.87 468.6h0M163.21 471.68h0M166.54 471.68h0M156.55 474.76h0M163.21 474.76h0M153.22 477.84h0M156.55 477.84h0M146.56 480.92h0M153.22 480.92h0M146.56 484h0"/>
<path stroke="#ff582d" d="M213.15 437.79h0M209.82 440.87h0M213.15 440.87h0M206.49 443.95h0M209.82 443.95h0M203.16 447.03h0M206.49 447.03h0M196.5 450.11h0M199.83 450.11h0M193.17 453.19h0M196.5 453.19h0M189.84 456.27h0M193.17 456.27h0M186.51 459.36h0M189.84 459.36h0M179.85 462.44h0M183.18 462.44h0M186.51 462.44h0M179.85 465.52h0M183.18 465.52h0M173.19 468.6h0M169.87 471.68h0M173.19 471.68h0M166.54 474.76h0M169.87 474.76h0M163.21 477.84h0M166.54 477.84h0M156.55 480.92h0M163.21 480.92h0M153.22 484h0M156.55 484h0"/>
<path stroke="#ff5e30" d="M213.15 443.95h0M209.82 447.03h0M213.15 447.03h0M203.16 450.11h0M206.49 450.11h0M199.83 453.19h0M203.16 453.19h0M196.5 456.27h0M199.83 456.27h0M193.17 459.36h0M196.5 459.36h0M189.84 462.44h0M193.17 462.44h0M186.51 465.52h0M189.84 465.52h0M179.85 468.6h0M183.18 468.6h0M186.51 468.6h0M179.85 471.68h0M183.18 471.68h0M173.19 474.76h0M169.87 477.84h0M173.19 477.84h0M166.54 480.92h0M169.87 480.92h0M163.21 484h0M166.54 484h0"/>
<path stroke="#1b94f3" d="M50 447.03h0M53.33 447.03h0M56.66 447.03h0M59.99 447.03h0M63.32 447.03h0M66.65 447.03h0M69.98 447.03h0M73.31 447.03h0M76.64 447.03h0M79.97 447.03h0M83.3 447.03h0M86.63 447.03h0M89.96 447.03h0M93.28 447.03h0M96.61 447.03h0M99.94 447.03h0M103.27 447.03h0M106.6 447.03h0M109.93 447.03h0M113.26 447.03h0M116.59 447.03h0M119.92 447.03h0M123.25 447.03h0M126.58 447.03h0M129.91 447.03h0M133.24 447.03h0M136.57 447.03h0M139.9 447.03h0M143.23 447.03h0M149.89 447.03h0M159.88 447.03h0M176.52 447.03h0M50 450.11h0M53.33 450.11h0M56.66 450.11h0M59.99 450.11h0M63.32 450.11h0M66.65 450.11h0M69.98 450.11h0M73.31 450.11h0M76.64 450.11h0M79.97 450.11h0M83.3 450.11h0M86.63 450.11h0M89.96 450.11h0M93.28 450.11h0M96.61 450.11h0M99.94 450.11h0M103.27 450.11h0M106.6 450.11h0M109.93 450.11h0M113.26 450.11h0M116.59 450.11h0M119.92 450.11h0M123.25 450.11h0M126.58 450.11h0M129.91 450.11h0M133.24 450.11h0M136.57 450.11h0M139.9 450.11h0M143.23 450.11h0M149.89 450.11h0M159.88 450.11h0M176.52 450.11h0M50 453.19h0M53.33 453.19h0M56.66 453.19h0M59.99 453.19h0M63.32 453.19h0M66.65 453.19h0M69.98 453.19h0M73.31 453.19h0M76.64 453.19h0M79.97 453.19h0M83.3 453.19h0M86.63 453.19h0M89.96 453.19h0M93.28 453.19h0M96.61 453.19h0M99.94 453.19h0M103.27 453.19h0M106.6 453.19h0M109.93 453.19h0M113.26 453.19h0M116.59 453.19h0M119.92 453.19h0M123.25 453.19h0M126.58 453.19h0M129.91 453.19h0M133.24 453.19h0M136.57 453.19h0M139.9 453.19h0M143.23 453.19h0M149.89 453.19h0M159.88 453.19h0M176.52 453.19h0M50 456.27h0M53.33 456.27h0M56.66 456.27h0M59.99 456.27h0M63.32 456.27h0M66.65 456.27h0M69.98 456.27h0M73.31 456.27h0M76.64 456.27h0M79.97 456.27h0M83.3 456.27h0M86.63 456.27h0M89.96 456.27h0M93.28 456.27h0M96.61 456.27h0M99.94 456.27h0M103.27 456.27h0M106.6 456.27h0M109.93 456.27h0M113.26 456.27h0M116.59 456.27h0M119.92 456.27h0M123.25 456.27h0M126.58 456.27h0M129.91 456.27h0M133.24 456.27h0M136.57 456.27h0M139.9 456.27h0M143.23 456.27h0M149.89 456.27h0M159.88 456.27h0M176.52 456.27h0"/>
<path stroke="#ff6333" d="M209.82 450.11h0M213.15 450.11h0M206.49 453.19h0M209.82 453.19h0M203.16 456.27h0M206.49 456.27h0M199.83 459.36h0M203.16 459.36h0M196.5 462.44h0M199.83 462.44h0M193.17 465.52h0M196.5 465.52h0M189.84 468.6h0M193.17 468.6h0M186.51 471.68h0M189.84 471.68h0M179.85 474.76h0M183.18 474.76h0M179.85 477.84h0M173.19 480.92h0M169.87 484h0M173.19 484h0"/>
<path stroke="#ff6936" d="M213.15 453.19h0M209.82 456.27h0M213.15 456.27h0M206.49 459.36h0M209.82 459.36h0M203.16 462.44h0M199.83 465.52h0M196.5 468.6h0M193.17 471.68h0M186.51 474.76h0M189.84 474.76h0M183.18 477.84h0M186.51 477.84h0M179.85 480.92h0M183.18 480.92h0M179.85 484h0"/>
<path stroke="#1f8ff4" d="M50 459.36h0M53.33 459.36h0M56.66 459.36h0M59.99 459.36h0M63.32 459.36h0M66.65 459.36h0M69.98 459.36h0M73.31 459.36h0M76.64 459.36h0M79.97 459.36h0M83.3 459.36h0M86.63 459.36h0M89.96 459.36h0M93.28 459.36h0M96.61 459.36h0M99.94 459.36h0M103.27 459.36h0M106.6 459.36h0M109.93 459.36h0M113.26 459.36h0M116.59 459.36h0M119.92 459.36h0M123.25 459.36h0M126.58 459.36h0M129.91 459.36h0M133.24 459.36h0M136.57 459.36h0M139.9 459.36h0M143.23 459.36h0M149.89 459.36h0M159.88 459.36h0M176.52 459.36h0M50 462.44h0M53.33 462.44h0M56.66 462.44h0M59.99 462.44h0M63.32 462.44h0M66.65 462.44h0M69.98 462.44h0M73.31 462.44h0M76.64 462.44h0M79.97 462.44h0M83.3 462.44h0M86.63 462.44h0M89.96 462.44h0M93.28 462.44h0M96.61 462.44h0M99.94 462.44h0M103.27 462.44h0M106.6 462.44h0M109.93 462.44h0M113.26 462.44h0M116.59 462.44h0M119.92 462.44h0M123.25 462.44h0M126.58 462.44h0M129.91 462.44h0M133.24 462.44h0M136.57 462.44h0M139.9 462.44h0M143.23 462.44h0M149.89 462.44h0M159.88 462.44h0M176.52 462.44h0M50 465.52h0M53.33 465.52h0M56.66 465.52h0M59.99 465.52h0M63.32 465.52h0M66.65 465.52h0M69.98 465.52h0M73.31 465.52h0M76.64 465.52h0M79.97 465.52h0M83.3 465.52h0M86.63 465.52h0M89.96 465.52h0M93.28 465.52h0M96.61 465.52h0M99.94 465.52h0M103.27 465.52h0M106.6 465.52h0M109.93 465.52h0M113.26 465.52h0M116.59 465.52h0M119.92 465.52h0M123.25 465.52h0M126.58 465.52h0M129.91 465.52h0M133.24 465.52h0M136.57 465.52h0M139.9 465.52h0M143.23 465.52h0M149.89 465.52h0M159.88 465.52h0M176.52 465.52h0M50 468.6h0M53.33 468.6h0M56.66 468.6h0M59.99 468.6h0M63.32 468.6h0M66.65 468.6h0M69.98 468.6h0M73.31 468.6h0M76.64 468.6h0M79.97 468.6h0M83.3 468.6h0M86.63 468.6h0M89.96 468.6h0M93.28 468.6h0M96.61 468.6h0M99.94 468.6h0M103.27 468.6h0M106.6 468.6h0M109.93 468.6h0M113.26 468.6h0M116.59 468.6h0M119.92 468.6h0M123.25 468.6h0M126.58 468.6h0M129.91 468.6h0M133.24 468.6h0M136.57 468.6h0M139.9 468.6h0M143.23 468.6h0M149.89 468.6h0M159.88 468.6h0M176.52 468.6h0"/>
<path stroke="#ff6e39" d="M213.15 459.36h0M206.49 462.44h0M209.82 462.44h0M203.16 465.52h0M206.49 465.52h0M199.83 468.6h0M203.16 468.6h0M196.5 471.68h0M199.83 471.68h0M193.17 474.76h0M196.5 474.76h0M189.84 477.84h0M193.17 477.84h0M186.51 480.92h0M189.84 480.92h0M183.18 484h0M186.51 484h0"/>
<path stroke="#ff743c" d="M213.15 462.44h0M209.82 465.52h0M213.15 465.52h0M206.49 468.6h0M209.82 468.6h0M203.16 471.68h0M206.49 471.68h0M199.83 474.76h0M203.16 474.76h0M196.5 477.84h0M199.83 477.84h0M193.17 480.92h0M196.5 480.92h0M189.84 484h0M193.17 484h0"/>
<path stroke="#ff793e" d="M213.15 468.6h0M209.82 471.68h0M206.49 474.76h0M203.16 477.84h0M199.83 480.92h0M196.5 484h0"/>
<path stroke="#228af5" d="M50 471.68h0M53.33 471.68h0M56.66 471.68h0M59.99 471.68h0M63.32 471.68h0M66.65 471.68h0M69.98 471.68h0M73.31 471.68h0M76.64 471.68h0M79.97 471.68h0M83.3 471.68h0M86.63 471.68h0M89.96 471.68h0M93.28 471.68h0M96.61 471.68h0M99.94 471.68h0M103.27 471.68h0M106.6 471.68h0M109.93 471.68h0M113.26 471.68h0M116.59 471.68h0M119.92 471.68h0M123.25 471.68h0M126.58 471.68h0M129.91 471.68h0M133.24 471.68h0M136.57 471.68h0M139.9 471.68h0M143.23 471.68h0M149.89 471.68h0M159.88 471.68h0M176.52 471.68h0M50 474.76h0M53.33 474.76h0M56.66 474.76h0M59.99 474.76h0M63.32 474.76h0M66.65 474.76h0M69.98 474.76h0M73.31 474.76h0M76.64 474.76h0M79.97 474.76h0M83.3 474.76h0M86.63 474.76h0M89.96 474.76h0M93.28 474.76h0M96.61 474.76h0M99.94 474.76h0M103.27 474.76h0M106.6 474.76h0M109.93 474.76h0M113.26 474.76h0M116.59 474.76h0M119.92 474.76h0M123.25 474.76h0M126.58 474.76h0M129.91 474.76h0M133.24 474.76h0M136.57 474.76h0M139.9 474.76h0M143.23 474.76h0M149.89 474.76h0M159.88 474.76h0M176.52 474.76h0M50 477.84h0M53.33 477.84h0M56.66 477.84h0M59.99 477.84h0M63.32 477.84h0M66.65 477.84h0M69.98 477.84h0M73.31 477.84h0M76.64 477.84h0M79.97 477.84h0M83.3 477.84h0M86.63 477.84h0M89.96 477.84h0M93.28 477.84h0M96.61 477.84h0M99.94 477.84h0M103.27 477.84h0M106.6 477.84h0M109.93 477.84h0M113.26 477.84h0M116.59 477.84h0M119.92 477.84h0M123.25 477.84h0M126.58 477.84h0M129.91 477.84h0M133.24 477.84h0M136.57 477.84h0M139.9 477.84h0M143.23 477.84h0M149.89 477.84h0M159.88 477.84h0M176.52 477.84h0M50 480.92h0M53.33 480.92h0M56.66 480.92h0M59.99 480.92h0M63.32 480.92h0M66.65 480.92h0M69.98 480.92h0M73.31 480.92h0M76.64 480.92h0M79.97 480.92h0M83.3 480.92h0M86.63 480.92h0M89.96 480.92h0M93.28 480.92h0M96.61 480.92h0M99.94 480.92h0M103.27 480.92h0M106.6 480.92h0M109.93 480.92h0M113.26 480.92h0M116.59 480.92h0M119.92 480.92h0M123.25 480.92h0M126.58 480.92h0M129.91 480.92h0M133.24 480.92h0M136.57 480.92h0M139.9 480.92h0M143.23 480.92h0M149.89 480.92h0M159.88 480.92h0M176.52 480.92h0"/>
<path stroke="#ff7e41" d="M213.15 471.68h0M209.82 474.76h0M206.49 477.84h0M209.82 477.84h0M203.16 480.92h0M206.49 480.92h0M199.83 484h0M203.16 484h0"/>
<path stroke="#ff8444" d="M213.15 474.76h0M213.15 477.84h0M209.82 480.92h0M206.49 484h0"/>
<path stroke="#ff8947" d="M213.15 480.92h0M209.82 484h0"/>
<path stroke="#2685f5" d="M50 484h0M53.33 484h0M56.66 484h0M59.99 484h0M63.32 484h0M66.65 484h0M69.98 484h0M73.31 484h0M76.64 484h0M79.97 484h0M83.3 484h0M86.63 484h0M89.96 484h0M93.28 484h0M96.61 484h0M99.94 484h0M103.27 484h0M106.6 484h0M109.93 484h0M113.26 484h0M116.59 484h0M119.92 484h0M123.25 484h0M126.58 484h0M129.91 484h0M133.24 484h0M136.57 484h0M139.9 484h0M143.23 484h0M149.89 484h0M159.88 484h0M176.52 484h0"/>
<path stroke="#ff8e4a" d="M213.15 484h0"/>
</g>
<path d="M50.5 353.47L53.83 353.47L57.16 353.47L60.49 353.47L63.82 353.47L67.15 353.47L70.48 353.47L73.81 353.47L77.14 353.47L78.8 355.01L80.47 356.55L83.8 356.55L87.13 356.55L90.46 356.55L92.12 358.09L92.12 361.18L92.12 364.26L93.78 365.8L95.45 364.26L95.45 361.18L95.45 358.09L97.11 356.55L98.78 358.09L98.78 361.18L98.78 364.26L98.78 367.34L98.78 370.42L100.44 371.96L103.77 371.96L107.1 371.96L108.77 373.5L108.77 376.58L108.77 379.66L108.77 382.74L108.77 385.82L110.43 387.36L112.1 385.82L112.1 382.74L113.76 381.2L115.43 382.74L117.09 384.28L118.76 385.82L118.76 388.9L118.76 391.98L118.76 395.06L118.76 398.14L118.76 401.22L120.42 402.76L122.09 401.22L122.09 398.14L122.09 395.06L122.09 391.98L122.09 388.9L122.09 385.82L122.09 382.74L122.09 379.66L123.75 378.12L125.42 379.66L125.42 382.74L125.42 385.82L125.42 388.9L125.42 391.98L125.42 395.06L125.42 398.14L125.42 401.22L125.42 404.3L125.42 407.38L125.42 410.47L125.42 413.55L125.42 416.63L125.42 419.71L127.08 421.25L128.75 422.79L130.41 424.33L132.07 425.87L133.74 427.41L135.4 428.95L135.4 432.03L135.4 435.11L135.4 438.19L135.4 441.27L135.4 444.35L137.07 445.89L138.73 444.35L138.73 441.27L138.73 438.19L138.73 435.11L138.73 432.03L138.73 428.95L138.73 425.87L138.73 422.79L138.73 419.71L138.73 416.63L138.73 413.55L138.73 410.47L138.73 407.38L138.73 404.3L138.73 401.22L138.73 398.14L138.73 395.06L138.73 391.98L138.73 388.9L138.73 385.82L138.73 382.74L140.4 381.2L142.06 382.74L142.06 385.82L142.06 388.9L142.06 391.98L142.06 395.06L142.06 398.14L142.06 401.22L142.06 404.3L142.06 407.38L142.06 410.47L142.06 413.55L142.06 416.63L142.06 419.71L142.06 422.79L142.06 425.87L143.73 427.41L145.39 428.95L145.39 432.03L145.39 435.11L145.39 438.19L145.39 441.27L145.39 444.35L145.39 447.43L145.39 450.51L145.39 453.59L145.39 456.67L145.39 459.76L145.39 462.84L145.39 465.92L145.39 469L145.39 472.08L145.39 475.16L145.39 478.24L145.39 481.32L145.39 484.4M148.72 484.4L148.72 481.32L148.72 478.24L148.72 475.16L148.72 472.08L148.72 469L148.72 465.92L148.72 462.84L148.72 459.76L148.72 456.67L148.72 453.59L148.72 450.51L148.72 447.43L148.72 444.35L148.72 441.27L148.72 438.19L148.72 435.11L150.39 433.57L152.05 435.11L152.05 438.19L152.05 441.27L152.05 444.35L152.05 447.43L152.05 450.51L152.05 453.59L152.05 456.67L152.05 459.76L152.05 462.84L152.05 465.92L152.05 469L152.05 472.08L152.05 475.16L152.05 478.24L152.05 481.32L152.05 484.4M158.71 484.4L158.71 481.32L158.71 478.24L158.71 475.16L158.71 472.08L158.71 469L158.71 465.92L158.71 462.84L158.71 459.76L158.71 456.67L158.71 453.59L158.71 450.51L158.71 447.43L158.71 444.35L158.71 441.27L158.71 438.19L158.71 435.11L158.71 432.03L158.71 428.95L158.71 425.87L160.38 424.33L162.04 425.87L162.04 428.95L162.04 432.03L162.04 435.11L162.04 438.19L162.04 441.27L162.04 444.35L162.04 447.43L162.04 450.51L162.04 453.59L162.04 456.67L162.04 459.76L162.04 462.84L162.04 465.92L162.04 469L162.04 472.08L162.04 475.16L162.04 478.24L162.04 481.32L162.04 484.4M175.36 484.4L175.36 481.32L175.36 478.24L175.36 475.16L175.36 472.08L175.36 469L175.36 465.92L175.36 462.84L175.36 459.76L175.36 456.67L175.36 453.59L175.36 450.51L175.36 447.43L175.36 444.35L175.36 441.27L175.36 438.19L175.36 435.11L175.36 432.03L175.36 428.95L175.36 425.87L175.36 422.79L177.02 421.25L178.69 422.79L178.69 425.87L178.69 428.95L178.69 432.03L178.69 435.11L178.69 438.19L178.69 441.27L178.69 444.35L178.69 447.43L178.69 450.51L178.69 453.59L178.69 456.67L178.69 459.76L178.69 462.84L178.69 465.92L178.69 469L178.69 472.08L178.69 475.16L178.69 478.24L178.69 481.32L178.69 484.4" stroke="#000" stroke-width="1.1" fill="none" stroke-linejoin="round" stroke-linecap="round"/>
<rect x="42.15" y="325.6" width="179.4" height="165.8" fill="none" stroke="#505050" stroke-width="0.8"/>
<path d="M50 491.4v3M104.38 491.4v3M158.77 491.4v3M213.15 491.4v3M42.15 350.81h-3M42.15 395.21h-3M42.15 439.6h-3M42.15 484h-3" stroke="#5a5a5a" stroke-width="0.9" fill="none"/>
<text x="43.7" y="511.5" font-size="12">10</text>
<text x="55.9" y="505.2" font-size="8">0</text>
<text x="98.08" y="511.5" font-size="12">10</text>
<text x="110.28" y="505.2" font-size="8">1</text>
<text x="152.47" y="511.5" font-size="12">10</text>
<text x="164.67" y="505.2" font-size="8">2</text>
<text x="206.85" y="511.5" font-size="12">10</text>
<text x="219.05" y="505.2" font-size="8">3</text>
<text x="37.6" y="354.81" font-size="12" text-anchor="end">140</text>
<text x="37.6" y="399.21" font-size="12" text-anchor="end">135</text>
<text x="37.6" y="443.6" font-size="12" text-anchor="end">130</text>
<text x="37.6" y="488" font-size="12" text-anchor="end">125</text>
<path d="M240.1 325.6V491.4M294.48 325.6V491.4M348.87 325.6V491.4M403.25 325.6V491.4M232.45 350.81H411.65M232.45 395.21H411.65M232.45 439.6H411.65M232.45 484H411.65" stroke="#ececec" stroke-width="0.7" fill="none"/>
<g stroke-linecap="round" stroke-width="2.5" fill="none">
<path stroke="#ff0000" d="M240.1 333.05h0M243.43 333.05h0M246.76 333.05h0M250.09 333.05h0M253.42 333.05h0M256.75 333.05h0M260.08 333.05h0M263.41 333.05h0M266.74 333.05h0M270.07 333.05h0M273.4 333.05h0M276.73 333.05h0M280.06 333.05h0M283.38 333.05h0M286.71 333.05h0M290.04 333.05h0M293.37 333.05h0M296.7 333.05h0M300.03 333.05h0M303.36 333.05h0M306.69 333.05h0M310.02 333.05h0M313.35 333.05h0M316.68 333.05h0M320.01 333.05h0M323.34 333.05h0M326.67 333.05h0M330 333.05h0M333.33 333.05h0M336.66 333.05h0M339.99 333.05h0M343.32 333.05h0M346.65 333.05h0M349.98 333.05h0M353.31 333.05h0M356.64 333.05h0M359.97 333.05h0M363.29 333.05h0M366.62 333.05h0M369.95 333.05h0M373.28 333.05h0M376.61 333.05h0M379.94 333.05h0M383.27 333.05h0M386.6 333.05h0M389.93 333.05h0M393.26 333.05h0M396.59 333.05h0M399.92 333.05h0M403.25 333.05h0M240.1 336.13h0M243.43 336.13h0M246.76 336.13h0M250.09 336.13h0M253.42 336.13h0M256.75 336.13h0M260.08 336.13h0M263.41 336.13h0M266.74 336.13h0M270.07 336.13h0M273.4 336.13h0M276.73 336.13h0M280.06 336.13h0M283.38 336.13h0M286.71 336.13h0M290.04 336.13h0M293.37 336.13h0M296.7 336.13h0M300.03 336.13h0M303.36 336.13h0M306.69 336.13h0M310.02 336.13h0M313.35 336.13h0M316.68 336.13h0M320.01 336.13h0M323.34 336.13h0M326.67 336.13h0M330 336.13h0M333.33 336.13h0M336.66 336.13h0M339.99 336.13h0M343.32 336.13h0M346.65 336.13h0M349.98 336.13h0M353.31 336.13h0M356.64 336.13h0M359.97 336.13h0M363.29 336.13h0M366.62 336.13h0M369.95 336.13h0M373.28 336.13h0M376.61 336.13h0M379.94 336.13h0M383.27 336.13h0M386.6 336.13h0M389.93 336.13h0M393.26 336.13h0M396.59 336.13h0M399.92 336.13h0M403.25 336.13h0M240.1 339.21h0M243.43 339.21h0M246.76 339.21h0M250.09 339.21h0M253.42 339.21h0M256.75 339.21h0M260.08 339.21h0M263.41 339.21h0M266.74 339.21h0M270.07 339.21h0M273.4 339.21h0M276.73 339.21h0M280.06 339.21h0M283.38 339.21h0M286.71 339.21h0M290.04 339.21h0M293.37 339.21h0M296.7 339.21h0M300.03 339.21h0M303.36 339.21h0M306.69 339.21h0M310.02 339.21h0M313.35 339.21h0M316.68 339.21h0M320.01 339.21h0M323.34 339.21h0M326.67 339.21h0M330 339.21h0M333.33 339.21h0M336.66 339.21h0M339.99 339.21h0M343.32 339.21h0M346.65 339.21h0M349.98 339.21h0M353.31 339.21h0M356.64 339.21h0M359.97 339.21h0M363.29 339.21h0M366.62 339.21h0M369.95 339.21h0M373.28 339.21h0M376.61 339.21h0M379.94 339.21h0M383.27 339.21h0M386.6 339.21h0M389.93 339.21h0M393.26 339.21h0M396.59 339.21h0M399.92 339.21h0M403.25 339.21h0M240.1 342.29h0M243.43 342.29h0M246.76 342.29h0M250.09 342.29h0M253.42 342.29h0M256.75 342.29h0M260.08 342.29h0M263.41 342.29h0M266.74 342.29h0M270.07 342.29h0M273.4 342.29h0M276.73 342.29h0M280.06 342.29h0M283.38 342.29h0M286.71 342.29h0M290.04 342.29h0M293.37 342.29h0M296.7 342.29h0M300.03 342.29h0M303.36 342.29h0M306.69 342.29h0M310.02 342.29h0M313.35 342.29h0M316.68 342.29h0M320.01 342.29h0M323.34 342.29h0M326.67 342.29h0M330 342.29h0M333.33 342.29h0M336.66 342.29h0M339.99 342.29h0M343.32 342.29h0M346.65 342.29h0M349.98 342.29h0M353.31 342.29h0M356.64 342.29h0M359.97 342.29h0M363.29 342.29h0M366.62 342.29h0M369.95 342.29h0M373.28 342.29h0M376.61 342.29h0M379.94 342.29h0M383.27 342.29h0M386.6 342.29h0M389.93 342.29h0M393.26 342.29h0M396.59 342.29h0M399.92 342.29h0M403.25 342.29h0M240.1 345.37h0M243.43 345.37h0M246.76 345.37h0M250.09 345.37h0M253.42 345.37h0M256.75 345.37h0M260.08 345.37h0M263.41 345.37h0M266.74 345.37h0M270.07 345.37h0M273.4 345.37h0M276.73 345.37h0M280.06 345.37h0M283.38 345.37h0M286.71 345.37h0M290.04 345.37h0M293.37 345.37h0M296.7 345.37h0M300.03 345.37h0M303.36 345.37h0M306.69 345.37h0M310.02 345.37h0M313.35 345.37h0M316.68 345.37h0M320.01 345.37h0M323.34 345.37h0M326.67 345.37h0M330 345.37h0M333.33 345.37h0M336.66 345.37h0M339.99 345.37h0M343.32 345.37h0M346.65 345.37h0M349.98 345.37h0M353.31 345.37h0M356.64 345.37h0M359.97 345.37h0M363.29 345.37h0M366.62 345.37h0M369.95 345.37h0M373.28 345.37h0M376.61 345.37h0M379.94 345.37h0M383.27 345.37h0M386.6 345.37h0M389.93 345.37h0M393.26 345.37h0M396.59 345.37h0M399.92 345.37h0M403.25 345.37h0M240.1 348.45h0M243.43 348.45h0M246.76 348.45h0M250.09 348.45h0M253.42 348.45h0M256.75 348.45h0M260.08 348.45h0M263.41 348.45h0M266.74 348.45h0M270.07 348.45h0M273.4 348.45h0M276.73 348.45h0M280.06 348.45h0M283.38 348.45h0M286.71 348.45h0M290.04 348.45h0M293.37 348.45h0M296.7 348.45h0M300.03 348.45h0M303.36 348.45h0M306.69 348.45h0M310.02 348.45h0M313.35 348.45h0M316.68 348.45h0M320.01 348.45h0M323.34 348.45h0M326.67 348.45h0M330 348.45h0M333.33 348.45h0M336.66 348.45h0M339.99 348.45h0M343.32 348.45h0M346.65 348.45h0M349.98 348.45h0M353.31 348.45h0M356.64 348.45h0M359.97 348.45h0M363.29 348.45h0M366.62 348.45h0M369.95 348.45h0M373.28 348.45h0M376.61 348.45h0M379.94 348.45h0M383.27 348.45h0M386.6 348.45h0M389.93 348.45h0M393.26 348.45h0M396.59 348.45h0M399.92 348.45h0M403.25 348.45h0M266.74 351.53h0M270.07 351.53h0M273.4 351.53h0M276.73 351.53h0M280.06 351.53h0M283.38 351.53h0M286.71 351.53h0M290.04 351.53h0M293.37 351.53h0M296.7 351.53h0M300.03 351.53h0M303.36 351.53h0M306.69 351.53h0M310.02 351.53h0M313.35 351.53h0M316.68 351.53h0M320.01 351.53h0M323.34 351.53h0M326.67 351.53h0M330 351.53h0M333.33 351.53h0M336.66 351.53h0M339.99 351.53h0M343.32 351.53h0M346.65 351.53h0M349.98 351.53h0M353.31 351.53h0M356.64 351.53h0M359.97 351.53h0M363.29 351.53h0M366.62 351.53h0M369.95 351.53h0M373.28 351.53h0M376.61 351.53h0M379.94 351.53h0M383.27 351.53h0M386.6 351.53h0M389.93 351.53h0M393.26 351.53h0M396.59 351.53h0M399.92 351.53h0M403.25 351.53h0M303.36 354.61h0M306.69 354.61h0M310.02 354.61h0M313.35 354.61h0M316.68 354.61h0M320.01 354.61h0M323.34 354.61h0M326.67 354.61h0M330 354.61h0M333.33 354.61h0M336.66 354.61h0M339.99 354.61h0M343.32 354.61h0M346.65 354.61h0M349.98 354.61h0M353.31 354.61h0M356.64 354.61h0M359.97 354.61h0M363.29 354.61h0M366.62 354.61h0M369.95 354.61h0M373.28 354.61h0M376.61 354.61h0M379.94 354.61h0M383.27 354.61h0M386.6 354.61h0M389.93 354.61h0M393.26 354.61h0M320.01 357.69h0M323.34 357.69h0M326.67 357.69h0M330 357.69h0M333.33 357.69h0M336.66 357.69h0M339.99 357.69h0M343.32 357.69h0M346.65 357.69h0M349.98 357.69h0M353.31 357.69h0M356.64 357.69h0M359.97 357.69h0M363.29 357.69h0M326.67 360.78h0"/>
<path stroke="#00b4ec" d="M240.1 351.53h0M243.43 351.53h0M246.76 351.53h0M250.09 351.53h0M253.42 351.53h0M256.75 351.53h0M260.08 351.53h0M263.41 351.53h0M240.1 354.61h0M243.43 354.61h0M246.76 354.61h0M250.09 354.61h0M253.42 354.61h0M256.75 354.61h0M260.08 354.61h0M263.41 354.61h0M266.74 354.61h0M270.07 354.61h0M273.4 354.61h0M276.73 354.61h0M280.06 354.61h0M283.38 354.61h0M286.71 354.61h0M290.04 354.61h0M293.37 354.61h0M296.7 354.61h0M300.03 354.61h0"/>
<path stroke="#ff0603" d="M396.59 354.61h0M399.92 354.61h0M403.25 354.61h0M366.62 357.69h0M369.95 357.69h0M373.28 357.69h0M376.61 357.69h0M379.94 357.69h0M383.27 357.69h0M386.6 357.69h0M389.93 357.69h0M393.26 357.69h0M396.59 357.69h0M399.92 357.69h0M403.25 357.69h0M330 360.78h0M333.33 360.78h0M336.66 360.78h0M339.99 360.78h0M343.32 360.78h0M346.65 360.78h0M349.98 360.78h0M353.31 360.78h0M356.64 360.78h0M359.97 360.78h0M363.29 360.78h0M366.62 360.78h0M369.95 360.78h0M373.28 360.78h0M376.61 360.78h0M379.94 360.78h0M383.27 360.78h0M386.6 360.78h0M389.93 360.78h0M393.26 360.78h0M396.59 360.78h0M399.92 360.78h0M403.25 360.78h0M333.33 363.86h0M336.66 363.86h0M339.99 363.86h0M343.32 363.86h0M346.65 363.86h0M349.98 363.86h0M353.31 363.86h0M356.64 363.86h0M359.97 363.86h0M363.29 363.86h0M366.62 363.86h0M369.95 363.86h0M373.28 363.86h0M376.61 363.86h0M379.94 363.86h0M383.27 363.86h0M386.6 363.86h0M389.93 363.86h0M339.99 366.94h0M343.32 366.94h0M346.65 366.94h0M349.98 366.94h0M353.31 366.94h0M356.64 366.94h0M359.97 366.94h0M363.29 366.94h0M366.62 366.94h0M369.95 366.94h0M343.32 370.02h0M346.65 370.02h0"/>
<path stroke="#04b0ed" d="M240.1 357.69h0M243.43 357.69h0M246.76 357.69h0M250.09 357.69h0M253.42 357.69h0M256.75 357.69h0M260.08 357.69h0M263.41 357.69h0M266.74 357.69h0M270.07 357.69h0M273.4 357.69h0M276.73 357.69h0M280.06 357.69h0M283.38 357.69h0M286.71 357.69h0M290.04 357.69h0M293.37 357.69h0M296.7 357.69h0M300.03 357.69h0M303.36 357.69h0M306.69 357.69h0M310.02 357.69h0M313.35 357.69h0M316.68 357.69h0M240.1 360.78h0M243.43 360.78h0M246.76 360.78h0M250.09 360.78h0M253.42 360.78h0M256.75 360.78h0M260.08 360.78h0M263.41 360.78h0M266.74 360.78h0M270.07 360.78h0M273.4 360.78h0M276.73 360.78h0M280.06 360.78h0M283.38 360.78h0M286.71 360.78h0M290.04 360.78h0M293.37 360.78h0M296.7 360.78h0M300.03 360.78h0M303.36 360.78h0M306.69 360.78h0M310.02 360.78h0M313.35 360.78h0M316.68 360.78h0M320.01 360.78h0M323.34 360.78h0M240.1 363.86h0M243.43 363.86h0M246.76 363.86h0M250.09 363.86h0M253.42 363.86h0M256.75 363.86h0M260.08 363.86h0M263.41 363.86h0M266.74 363.86h0M270.07 363.86h0M273.4 363.86h0M276.73 363.86h0M280.06 363.86h0M283.38 363.86h0M286.71 363.86h0M290.04 363.86h0M293.37 363.86h0M296.7 363.86h0M300.03 363.86h0M303.36 363.86h0M306.69 363.86h0M310.02 363.86h0M313.35 363.86h0M316.68 363.86h0M320.01 363.86h0M323.34 363.86h0M326.67 363.86h0M330 363.86h0M240.1 366.94h0M243.43 366.94h0M246.76 366.94h0M250.09 366.94h0M253.42 366.94h0M256.75 366.94h0M260.08 366.94h0M263.41 366.94h0M266.74 366.94h0M270.07 366.94h0M273.4 366.94h0M276.73 366.94h0M280.06 366.94h0M283.38 366.94h0M286.71 366.94h0M290.04 366.94h0M293.37 366.94h0M296.7 366.94h0M300.03 366.94h0M303.36 366.94h0M306.69 366.94h0M310.02 366.94h0M313.35 366.94h0M316.68 366.94h0M320.01 366.94h0M323.34 366.94h0M326.67 366.94h0M330 366.94h0M333.33 366.94h0M336.66 366.94h0M240.1 370.02h0M243.43 370.02h0M246.76 370.02h0M250.09 370.02h0M253.42 370.02h0M256.75 370.02h0M260.08 370.02h0M263.41 370.02h0M266.74 370.02h0M270.07 370.02h0M273.4 370.02h0M276.73 370.02h0M280.06 370.02h0M283.38 370.02h0M286.71 370.02h0M290.04 370.02h0M293.37 370.02h0M296.7 370.02h0M300.03 370.02h0M303.36 370.02h0M306.69 370.02h0M310.02 370.02h0M313.35 370.02h0M316.68 370.02h0M320.01 370.02h0M323.34 370.02h0M326.67 370.02h0M330 370.02h0M333.33 370.02h0M336.66 370.02h0M339.99 370.02h0M240.1 373.1h0M243.43 373.1h0M246.76 373.1h0M250.09 373.1h0M253.42 373.1h0M256.75 373.1h0M260.08 373.1h0M263.41 373.1h0M266.74 373.1h0M270.07 373.1h0M273.4 373.1h0M276.73 373.1h0M280.06 373.1h0M283.38 373.1h0M286.71 373.1h0M290.04 373.1h0M293.37 373.1h0M296.7 373.1h0M300.03 373.1h0M303.36 373.1h0M306.69 373.1h0M310.02 373.1h0M313.35 373.1h0M316.68 373.1h0M320.01 373.1h0M323.34 373.1h0M326.67 373.1h0M330 373.1h0M333.33 373.1h0M336.66 373.1h0M339.99 373.1h0M343.32 373.1h0"/>
<path stroke="#ff0c06" d="M393.26 363.86h0M396.59 363.86h0M399.92 363.86h0M403.25 363.86h0M373.28 366.94h0M376.61 366.94h0M379.94 366.94h0M383.27 366.94h0M386.6 366.94h0M389.93 366.94h0M393.26 366.94h0M396.59 366.94h0M399.92 366.94h0M403.25 366.94h0M349.98 370.02h0M353.31 370.02h0M356.64 370.02h0M359.97 370.02h0M363.29 370.02h0M366.62 370.02h0M369.95 370.02h0M373.28 370.02h0M376.61 370.02h0M379.94 370.02h0M383.27 370.02h0M386.6 370.02h0M389.93 370.02h0M393.26 370.02h0M396.59 370.02h0M346.65 373.1h0M349.98 373.1h0M353.31 373.1h0M356.64 373.1h0M359.97 373.1h0M363.29 373.1h0M366.62 373.1h0M369.95 373.1h0M373.28 373.1h0M376.61 373.1h0M379.94 373.1h0M383.27 373.1h0M349.98 376.18h0M353.31 376.18h0M356.64 376.18h0M359.97 376.18h0M363.29 376.18h0M366.62 376.18h0M353.31 379.26h0"/>
<path stroke="#ff1209" d="M399.92 370.02h0M403.25 370.02h0M386.6 373.1h0M389.93 373.1h0M393.26 373.1h0M396.59 373.1h0M399.92 373.1h0M403.25 373.1h0M369.95 376.18h0M373.28 376.18h0M376.61 376.18h0M379.94 376.18h0M383.27 376.18h0M386.6 376.18h0M389.93 376.18h0M393.26 376.18h0M396.59 376.18h0M399.92 376.18h0M356.64 379.26h0M359.97 379.26h0M363.29 379.26h0M366.62 379.26h0M369.95 379.26h0M373.28 379.26h0M376.61 379.26h0M379.94 379.26h0M383.27 379.26h0M386.6 379.26h0M389.93 379.26h0M353.31 382.34h0M356.64 382.34h0M359.97 382.34h0M363.29 382.34h0M366.62 382.34h0M369.95 382.34h0M373.28 382.34h0M376.61 382.34h0M356.64 385.42h0M359.97 385.42h0M363.29 385.42h0M366.62 385.42h0"/>
<path stroke="#08acee" d="M240.1 376.18h0M243.43 376.18h0M246.76 376.18h0M250.09 376.18h0M253.42 376.18h0M256.75 376.18h0M260.08 376.18h0M263.41 376.18h0M266.74 376.18h0M270.07 376.18h0M273.4 376.18h0M276.73 376.18h0M280.06 376.18h0M283.38 376.18h0M286.71 376.18h0M290.04 376.18h0M293.37 376.18h0M296.7 376.18h0M300.03 376.18h0M303.36 376.18h0M306.69 376.18h0M310.02 376.18h0M313.35 376.18h0M316.68 376.18h0M320.01 376.18h0M323.34 376.18h0M326.67 376.18h0M330 376.18h0M333.33 376.18h0M336.66 376.18h0M339.99 376.18h0M343.32 376.18h0M346.65 376.18h0M240.1 379.26h0M243.43 379.26h0M246.76 379.26h0M250.09 379.26h0M253.42 379.26h0M256.75 379.26h0M260.08 379.26h0M263.41 379.26h0M266.74 379.26h0M270.07 379.26h0M273.4 379.26h0M276.73 379.26h0M280.06 379.26h0M283.38 379.26h0M286.71 379.26h0M290.04 379.26h0M293.37 379.26h0M296.7 379.26h0M300.03 379.26h0M303.36 379.26h0M306.69 379.26h0M310.02 379.26h0M313.35 379.26h0M316.68 379.26h0M320.01 379.26h0M323.34 379.26h0M326.67 379.26h0M330 379.26h0M333.33 379.26h0M336.66 379.26h0M339.99 379.26h0M343.32 379.26h0M346.65 379.26h0M349.98 379.26h0M240.1 382.34h0M243.43 382.34h0M246.76 382.34h0M250.09 382.34h0M253.42 382.34h0M256.75 382.34h0M260.08 382.34h0M263.41 382.34h0M266.74 382.34h0M270.07 382.34h0M273.4 382.34h0M276.73 382.34h0M280.06 382.34h0M283.38 382.34h0M286.71 382.34h0M290.04 382.34h0M293.37 382.34h0M296.7 382.34h0M300.03 382.34h0M303.36 382.34h0M306.69 382.34h0M310.02 382.34h0M313.35 382.34h0M316.68 382.34h0M320.01 382.34h0M323.34 382.34h0M326.67 382.34h0M330 382.34h0M333.33 382.34h0M336.66 382.34h0M339.99 382.34h0M343.32 382.34h0M346.65 382.34h0M349.98 382.34h0M240.1 385.42h0M243.43 385.42h0M246.76 385.42h0M250.09 385.42h0M253.42 385.42h0M256.75 385.42h0M260.08 385.42h0M263.41 385.42h0M266.74 385.42h0M270.07 385.42h0M273.4 385.42h0M276.73 385.42h0M280.06 385.42h0M283.38 385.42h0M286.71 385.42h0M290.04 385.42h0M293.37 385.42h0M296.7 385.42h0M300.03 385.42h0M303.36 385.42h0M306.69 385.42h0M310.02 385.42h0M313.35 385.42h0M316.68 385.42h0M320.01 385.42h0M323.34 385.42h0M326.67 385.42h0M330 385.42h0M333.33 385.42h0M336.66 385.42h0M339.99 385.42h0M343.32 385.42h0M346.65 385.42h0M349.98 385.42h0M353.31 385.42h0M240.1 388.5h0M243.43 388.5h0M246.76 388.5h0M250.09 388.5h0M253.42 388.5h0M256.75 388.5h0M260.08 388.5h0M263.41 388.5h0M266.74 388.5h0M270.07 388.5h0M273.4 388.5h0M276.73 388.5h0M280.06 388.5h0M283.38 388.5h0M286.71 388.5h0M290.04 388.5h0M293.37 388.5h0M296.7 388.5h0M300.03 388.5h0M303.36 388.5h0M306.69 388.5h0M310.02 388.5h0M313.35 388.5h0M316.68 388.5h0M320.01 388.5h0M323.34 388.5h0M326.67 388.5h0M330 388.5h0M333.33 388.5h0M336.66 388.5h0M339.99 388.5h0M343.32 388.5h0M346.65 388.5h0M349.98 388.5h0M353.31 388.5h0M356.64 388.5h0"/>
<path stroke="#ff180c" d="M403.25 376.18h0M393.26 379.26h0M396.59 379.26h0M399.92 379.26h0M403.25 379.26h0M379.94 382.34h0M383.27 382.34h0M386.6 382.34h0M389.93 382.34h0M393.26 382.34h0M396.59 382.34h0M399.92 382.34h0M403.25 382.34h0M369.95 385.42h0M373.28 385.42h0M376.61 385.42h0M379.94 385.42h0M383.27 385.42h0M386.6 385.42h0M389.93 385.42h0M393.26 385.42h0M359.97 388.5h0M363.29 388.5h0M366.62 388.5h0M369.95 388.5h0M373.28 388.5h0M376.61 388.5h0M379.94 388.5h0M383.27 388.5h0M359.97 391.58h0M363.29 391.58h0M366.62 391.58h0M369.95 391.58h0M373.28 391.58h0M363.29 394.66h0"/>
<path stroke="#ff1e0f" d="M396.59 385.42h0M399.92 385.42h0M403.25 385.42h0M386.6 388.5h0M389.93 388.5h0M393.26 388.5h0M396.59 388.5h0M399.92 388.5h0M403.25 388.5h0M376.61 391.58h0M379.94 391.58h0M383.27 391.58h0M386.6 391.58h0M389.93 391.58h0M393.26 391.58h0M366.62 394.66h0M369.95 394.66h0M373.28 394.66h0M376.61 394.66h0M379.94 394.66h0M383.27 394.66h0M366.62 397.74h0M369.95 397.74h0M373.28 397.74h0M376.61 397.74h0M366.62 400.82h0"/>
<path stroke="#0ba7ef" d="M240.1 391.58h0M243.43 391.58h0M246.76 391.58h0M250.09 391.58h0M253.42 391.58h0M256.75 391.58h0M260.08 391.58h0M263.41 391.58h0M266.74 391.58h0M270.07 391.58h0M273.4 391.58h0M276.73 391.58h0M280.06 391.58h0M283.38 391.58h0M286.71 391.58h0M290.04 391.58h0M293.37 391.58h0M296.7 391.58h0M300.03 391.58h0M303.36 391.58h0M306.69 391.58h0M310.02 391.58h0M313.35 391.58h0M316.68 391.58h0M320.01 391.58h0M323.34 391.58h0M326.67 391.58h0M330 391.58h0M333.33 391.58h0M336.66 391.58h0M339.99 391.58h0M343.32 391.58h0M346.65 391.58h0M349.98 391.58h0M353.31 391.58h0M356.64 391.58h0M240.1 394.66h0M243.43 394.66h0M246.76 394.66h0M250.09 394.66h0M253.42 394.66h0M256.75 394.66h0M260.08 394.66h0M263.41 394.66h0M266.74 394.66h0M270.07 394.66h0M273.4 394.66h0M276.73 394.66h0M280.06 394.66h0M283.38 394.66h0M286.71 394.66h0M290.04 394.66h0M293.37 394.66h0M296.7 394.66h0M300.03 394.66h0M303.36 394.66h0M306.69 394.66h0M310.02 394.66h0M313.35 394.66h0M316.68 394.66h0M320.01 394.66h0M323.34 394.66h0M326.67 394.66h0M330 394.66h0M333.33 394.66h0M336.66 394.66h0M339.99 394.66h0M343.32 394.66h0M346.65 394.66h0M349.98 394.66h0M353.31 394.66h0M356.64 394.66h0M359.97 394.66h0M240.1 397.74h0M243.43 397.74h0M246.76 397.74h0M250.09 397.74h0M253.42 397.74h0M256.75 397.74h0M260.08 397.74h0M263.41 397.74h0M266.74 397.74h0M270.07 397.74h0M273.4 397.74h0M276.73 397.74h0M280.06 397.74h0M283.38 397.74h0M286.71 397.74h0M290.04 397.74h0M293.37 397.74h0M296.7 397.74h0M300.03 397.74h0M303.36 397.74h0M306.69 397.74h0M310.02 397.74h0M313.35 397.74h0M316.68 397.74h0M320.01 397.74h0M323.34 397.74h0M326.67 397.74h0M330 397.74h0M333.33 397.74h0M336.66 397.74h0M339.99 397.74h0M343.32 397.74h0M346.65 397.74h0M349.98 397.74h0M353.31 397.74h0M356.64 397.74h0M359.97 397.74h0M363.29 397.74h0M240.1 400.82h0M243.43 400.82h0M246.76 400.82h0M250.09 400.82h0M253.42 400.82h0M256.75 400.82h0M260.08 400.82h0M263.41 400.82h0M266.74 400.82h0M270.07 400.82h0M273.4 400.82h0M276.73 400.82h0M280.06 400.82h0M283.38 400.82h0M286.71 400.82h0M290.04 400.82h0M293.37 400.82h0M296.7 400.82h0M300.03 400.82h0M303.36 400.82h0M306.69 400.82h0M310.02 400.82h0M313.35 400.82h0M316.68 400.82h0M320.01 400.82h0M323.34 400.82h0M326.67 400.82h0M330 400.82h0M333.33 400.82h0M336.66 400.82h0M339.99 400.82h0M343.32 400.82h0M346.65 400.82h0M349.98 400.82h0M353.31 400.82h0M356.64 400.82h0M359.97 400.82h0M363.29 400.82h0M240.1 403.9h0M243.43 403.9h0M246.76 403.9h0M250.09 403.9h0M253.42 403.9h0M256.75 403.9h0M260.08 403.9h0M263.41 403.9h0M266.74 403.9h0M270.07 403.9h0M273.4 403.9h0M276.73 403.9h0M280.06 403.9h0M283.38 403.9h0M286.71 403.9h0M290.04 403.9h0M293.37 403.9h0M296.7 403.9h0M300.03 403.9h0M303.36 403.9h0M306.69 403.9h0M310.02 403.9h0M313.35 403.9h0M316.68 403.9h0M320.01 403.9h0M323.34 403.9h0M326.67 403.9h0M330 403.9h0M333.33 403.9h0M336.66 403.9h0M339.99 403.9h0M343.32 403.9h0M346.65 403.9h0M349.98 403.9h0M353.31 403.9h0M356.64 403.9h0M359.97 403.9h0M363.29 403.9h0"/>
<path stroke="#ff2412" d="M396.59 391.58h0M399.92 391.58h0M403.25 391.58h0M386.6 394.66h0M389.93 394.66h0M393.26 394.66h0M396.59 394.66h0M399.92 394.66h0M403.25 394.66h0M379.94 397.74h0M383.27 397.74h0M386.6 397.74h0M389.93 397.74h0M393.26 397.74h0M369.95 400.82h0M373.28 400.82h0M376.61 400.82h0M379.94 400.82h0M383.27 400.82h0M386.6 400.82h0M366.62 403.9h0M369.95 403.9h0M373.28 403.9h0M376.61 403.9h0M379.94 403.9h0M369.95 406.98h0"/>
<path stroke="#ff2a15" d="M396.59 397.74h0M399.92 397.74h0M403.25 397.74h0M389.93 400.82h0M393.26 400.82h0M396.59 400.82h0M399.92 400.82h0M383.27 403.9h0M386.6 403.9h0M389.93 403.9h0M393.26 403.9h0M373.28 406.98h0M376.61 406.98h0M379.94 406.98h0M383.27 406.98h0M386.6 406.98h0M369.95 410.07h0M373.28 410.07h0M376.61 410.07h0M379.94 410.07h0M369.95 413.15h0M373.28 413.15h0"/>
<path stroke="#ff3018" d="M403.25 400.82h0M396.59 403.9h0M399.92 403.9h0M403.25 403.9h0M389.93 406.98h0M393.26 406.98h0M396.59 406.98h0M399.92 406.98h0M383.27 410.07h0M386.6 410.07h0M389.93 410.07h0M393.26 410.07h0M376.61 413.15h0M379.94 413.15h0M383.27 413.15h0M386.6 413.15h0M373.28 416.23h0M376.61 416.23h0M379.94 416.23h0M373.28 419.31h0"/>
<path stroke="#0fa3f0" d="M240.1 406.98h0M243.43 406.98h0M246.76 406.98h0M250.09 406.98h0M253.42 406.98h0M256.75 406.98h0M260.08 406.98h0M263.41 406.98h0M266.74 406.98h0M270.07 406.98h0M273.4 406.98h0M276.73 406.98h0M280.06 406.98h0M283.38 406.98h0M286.71 406.98h0M290.04 406.98h0M293.37 406.98h0M296.7 406.98h0M300.03 406.98h0M303.36 406.98h0M306.69 406.98h0M310.02 406.98h0M313.35 406.98h0M316.68 406.98h0M320.01 406.98h0M323.34 406.98h0M326.67 406.98h0M330 406.98h0M333.33 406.98h0M336.66 406.98h0M339.99 406.98h0M343.32 406.98h0M346.65 406.98h0M349.98 406.98h0M353.31 406.98h0M356.64 406.98h0M359.97 406.98h0M363.29 406.98h0M366.62 406.98h0M240.1 410.07h0M243.43 410.07h0M246.76 410.07h0M250.09 410.07h0M253.42 410.07h0M256.75 410.07h0M260.08 410.07h0M263.41 410.07h0M266.74 410.07h0M270.07 410.07h0M273.4 410.07h0M276.73 410.07h0M280.06 410.07h0M283.38 410.07h0M286.71 410.07h0M290.04 410.07h0M293.37 410.07h0M296.7 410.07h0M300.03 410.07h0M303.36 410.07h0M306.69 410.07h0M310.02 410.07h0M313.35 410.07h0M316.68 410.07h0M320.01 410.07h0M323.34 410.07h0M326.67 410.07h0M330 410.07h0M333.33 410.07h0M336.66 410.07h0M339.99 410.07h0M343.32 410.07h0M346.65 410.07h0M349.98 410.07h0M353.31 410.07h0M356.64 410.07h0M359.97 410.07h0M363.29 410.07h0M366.62 410.07h0M240.1 413.15h0M243.43 413.15h0M246.76 413.15h0M250.09 413.15h0M253.42 413.15h0M256.75 413.15h0M260.08 413.15h0M263.41 413.15h0M266.74 413.15h0M270.07 413.15h0M273.4 413.15h0M276.73 413.15h0M280.06 413.15h0M283.38 413.15h0M286.71 413.15h0M290.04 413.15h0M293.37 413.15h0M296.7 413.15h0M300.03 413.15h0M303.36 413.15h0M306.69 413.15h0M310.02 413.15h0M313.35 413.15h0M316.68 413.15h0M320.01 413.15h0M323.34 413.15h0M326.67 413.15h0M330 413.15h0M333.33 413.15h0M336.66 413.15h0M339.99 413.15h0M343.32 413.15h0M346.65 413.15h0M349.98 413.15h0M353.31 413.15h0M356.64 413.15h0M359.97 413.15h0M363.29 413.15h0M366.62 413.15h0M240.1 416.23h0M243.43 416.23h0M246.76 416.23h0M250.09 416.23h0M253.42 416.23h0M256.75 416.23h0M260.08 416.23h0M263.41 416.23h0M266.74 416.23h0M270.07 416.23h0M273.4 416.23h0M276.73 416.23h0M280.06 416.23h0M283.38 416.23h0M286.71 416.23h0M290.04 416.23h0M293.37 416.23h0M296.7 416.23h0M300.03 416.23h0M303.36 416.23h0M306.69 416.23h0M310.02 416.23h0M313.35 416.23h0M316.68 416.23h0M320.01 416.23h0M323.34 416.23h0M326.67 416.23h0M330 416.23h0M333.33 416.23h0M336.66 416.23h0M339.99 416.23h0M343.32 416.23h0M346.65 416.23h0M349.98 416.23h0M353.31 416.23h0M356.64 416.23h0M359.97 416.23h0M363.29 416.23h0M366.62 416.23h0M369.95 416.23h0M240.1 419.31h0M243.43 419.31h0M246.76 419.31h0M250.09 419.31h0M253.42 419.31h0M256.75 419.31h0M260.08 419.31h0M263.41 419.31h0M266.74 419.31h0M270.07 419.31h0M273.4 419.31h0M276.73 419.31h0M280.06 419.31h0M283.38 419.31h0M286.71 419.31h0M290.04 419.31h0M293.37 419.31h0M296.7 419.31h0M300.03 419.31h0M303.36 419.31h0M306.69 419.31h0M310.02 419.31h0M313.35 419.31h0M316.68 419.31h0M320.01 419.31h0M323.34 419.31h0M326.67 419.31h0M330 419.31h0M333.33 419.31h0M336.66 419.31h0M339.99 419.31h0M343.32 419.31h0M346.65 419.31h0M349.98 419.31h0M353.31 419.31h0M356.64 419.31h0M359.97 419.31h0M363.29 419.31h0M366.62 419.31h0M369.95 419.31h0"/>
<path stroke="#ff361b" d="M403.25 406.98h0M396.59 410.07h0M399.92 410.07h0M403.25 410.07h0M389.93 413.15h0M393.26 413.15h0M396.59 413.15h0M399.92 413.15h0M383.27 416.23h0M386.6 416.23h0M389.93 416.23h0M393.26 416.23h0M376.61 419.31h0M379.94 419.31h0M383.27 419.31h0M386.6 419.31h0M373.28 422.39h0M376.61 422.39h0M379.94 422.39h0M373.28 425.47h0M376.61 425.47h0"/>
<path stroke="#ff3c1e" d="M403.25 413.15h0M396.59 416.23h0M399.92 416.23h0M403.25 416.23h0M389.93 419.31h0M393.26 419.31h0M396.59 419.31h0M383.27 422.39h0M386.6 422.39h0M389.93 422.39h0M393.26 422.39h0M379.94 425.47h0M383.27 425.47h0M386.6 425.47h0M373.28 428.55h0M376.61 428.55h0M379.94 428.55h0M373.28 431.63h0M376.61 431.63h0"/>
<path stroke="#ff4121" d="M399.92 419.31h0M403.25 419.31h0M396.59 422.39h0M399.92 422.39h0M403.25 422.39h0M389.93 425.47h0M393.26 425.47h0M396.59 425.47h0M383.27 428.55h0M386.6 428.55h0M389.93 428.55h0M379.94 431.63h0M383.27 431.63h0M386.6 431.63h0M376.61 434.71h0M379.94 434.71h0M376.61 437.79h0"/>
<path stroke="#139ef1" d="M240.1 422.39h0M243.43 422.39h0M246.76 422.39h0M250.09 422.39h0M253.42 422.39h0M256.75 422.39h0M260.08 422.39h0M263.41 422.39h0M266.74 422.39h0M270.07 422.39h0M273.4 422.39h0M276.73 422.39h0M280.06 422.39h0M283.38 422.39h0M286.71 422.39h0M290.04 422.39h0M293.37 422.39h0M296.7 422.39h0M300.03 422.39h0M303.36 422.39h0M306.69 422.39h0M310.02 422.39h0M313.35 422.39h0M316.68 422.39h0M320.01 422.39h0M323.34 422.39h0M326.67 422.39h0M330 422.39h0M333.33 422.39h0M336.66 422.39h0M339.99 422.39h0M343.32 422.39h0M346.65 422.39h0M349.98 422.39h0M353.31 422.39h0M356.64 422.39h0M359.97 422.39h0M363.29 422.39h0M366.62 422.39h0M369.95 422.39h0M240.1 425.47h0M243.43 425.47h0M246.76 425.47h0M250.09 425.47h0M253.42 425.47h0M256.75 425.47h0M260.08 425.47h0M263.41 425.47h0M266.74 425.47h0M270.07 425.47h0M273.4 425.47h0M276.73 425.47h0M280.06 425.47h0M283.38 425.47h0M286.71 425.47h0M290.04 425.47h0M293.37 425.47h0M296.7 425.47h0M300.03 425.47h0M303.36 425.47h0M306.69 425.47h0M310.02 425.47h0M313.35 425.47h0M316.68 425.47h0M320.01 425.47h0M323.34 425.47h0M326.67 425.47h0M330 425.47h0M333.33 425.47h0M336.66 425.47h0M339.99 425.47h0M343.32 425.47h0M346.65 425.47h0M349.98 425.47h0M353.31 425.47h0M356.64 425.47h0M359.97 425.47h0M363.29 425.47h0M366.62 425.47h0M369.95 425.47h0M240.1 428.55h0M243.43 428.55h0M246.76 428.55h0M250.09 428.55h0M253.42 428.55h0M256.75 428.55h0M260.08 428.55h0M263.41 428.55h0M266.74 428.55h0M270.07 428.55h0M273.4 428.55h0M276.73 428.55h0M280.06 428.55h0M283.38 428.55h0M286.71 428.55h0M290.04 428.55h0M293.37 428.55h0M296.7 428.55h0M300.03 428.55h0M303.36 428.55h0M306.69 428.55h0M310.02 428.55h0M313.35 428.55h0M316.68 428.55h0M320.01 428.55h0M323.34 428.55h0M326.67 428.55h0M330 428.55h0M333.33 428.55h0M336.66 428.55h0M339.99 428.55h0M343.32 428.55h0M346.65 428.55h0M349.98 428.55h0M353.31 428.55h0M356.64 428.55h0M359.97 428.55h0M363.29 428.55h0M366.62 428.55h0M369.95 428.55h0M240.1 431.63h0M243.43 431.63h0M246.76 431.63h0M250.09 431.63h0M253.42 431.63h0M256.75 431.63h0M260.08 431.63h0M263.41 431.63h0M266.74 431.63h0M270.07 431.63h0M273.4 431.63h0M276.73 431.63h0M280.06 431.63h0M283.38 431.63h0M286.71 431.63h0M290.04 431.63h0M293.37 431.63h0M296.7 431.63h0M300.03 431.63h0M303.36 431.63h0M306.69 431.63h0M310.02 431.63h0M313.35 431.63h0M316.68 431.63h0M320.01 431.63h0M323.34 431.63h0M326.67 431.63h0M330 431.63h0M333.33 431.63h0M336.66 431.63h0M339.99 431.63h0M343.32 431.63h0M346.65 431.63h0M349.98 431.63h0M353.31 431.63h0M356.64 431.63h0M359.97 431.63h0M363.29 431.63h0M366.62 431.63h0M369.95 431.63h0"/>
<path stroke="#ff4724" d="M399.92 425.47h0M403.25 425.47h0M393.26 428.55h0M396.59 428.55h0M399.92 428.55h0M389.93 431.63h0M393.26 431.63h0M396.59 431.63h0M383.27 434.71h0M386.6 434.71h0M389.93 434.71h0M379.94 437.79h0M383.27 437.79h0M386.6 437.79h0M376.61 440.87h0M379.94 440.87h0M376.61 443.95h0"/>
<path stroke="#ff4d27" d="M403.25 428.55h0M399.92 431.63h0M403.25 431.63h0M393.26 434.71h0M396.59 434.71h0M399.92 434.71h0M389.93 437.79h0M393.26 437.79h0M383.27 440.87h0M386.6 440.87h0M389.93 440.87h0M379.94 443.95h0M383.27 443.95h0M386.6 443.95h0M376.61 447.03h0M379.94 447.03h0"/>
<path stroke="#1799f2" d="M240.1 434.71h0M243.43 434.71h0M246.76 434.71h0M250.09 434.71h0M253.42 434.71h0M256.75 434.71h0M260.08 434.71h0M263.41 434.71h0M266.74 434.71h0M270.07 434.71h0M273.4 434.71h0M276.73 434.71h0M280.06 434.71h0M283.38 434.71h0M286.71 434.71h0M290.04 434.71h0M293.37 434.71h0M296.7 434.71h0M300.03 434.71h0M303.36 434.71h0M306.69 434.71h0M310.02 434.71h0M313.35 434.71h0M316.68 434.71h0M320.01 434.71h0M323.34 434.71h0M326.67 434.71h0M330 434.71h0M333.33 434.71h0M336.66 434.71h0M339.99 434.71h0M343.32 434.71h0M346.65 434.71h0M349.98 434.71h0M353.31 434.71h0M356.64 434.71h0M359.97 434.71h0M363.29 434.71h0M366.62 434.71h0M369.95 434.71h0M373.28 434.71h0M240.1 437.79h0M243.43 437.79h0M246.76 437.79h0M250.09 437.79h0M253.42 437.79h0M256.75 437.79h0M260.08 437.79h0M263.41 437.79h0M266.74 437.79h0M270.07 437.79h0M273.4 437.79h0M276.73 437.79h0M280.06 437.79h0M283.38 437.79h0M286.71 437.79h0M290.04 437.79h0M293.37 437.79h0M296.7 437.79h0M300.03 437.79h0M303.36 437.79h0M306.69 437.79h0M310.02 437.79h0M313.35 437.79h0M316.68 437.79h0M320.01 437.79h0M323.34 437.79h0M326.67 437.79h0M330 437.79h0M333.33 437.79h0M336.66 437.79h0M339.99 437.79h0M343.32 437.79h0M346.65 437.79h0M349.98 437.79h0M353.31 437.79h0M356.64 437.79h0M359.97 437.79h0M363.29 437.79h0M366.62 437.79h0M369.95 437.79h0M373.28 437.79h0M240.1 440.87h0M243.43 440.87h0M246.76 440.87h0M250.09 440.87h0M253.42 440.87h0M256.75 440.87h0M260.08 440.87h0M263.41 440.87h0M266.74 440.87h0M270.07 440.87h0M273.4 440.87h0M276.73 440.87h0M280.06 440.87h0M283.38 440.87h0M286.71 440.87h0M290.04 440.87h0M293.37 440.87h0M296.7 440.87h0M300.03 440.87h0M303.36 440.87h0M306.69 440.87h0M310.02 440.87h0M313.35 440.87h0M316.68 440.87h0M320.01 440.87h0M323.34 440.87h0M326.67 440.87h0M330 440.87h0M333.33 440.87h0M336.66 440.87h0M339.99 440.87h0M343.32 440.87h0M346.65 440.87h0M349.98 440.87h0M353.31 440.87h0M356.64 440.87h0M359.97 440.87h0M363.29 440.87h0M366.62 440.87h0M369.95 440.87h0M373.28 440.87h0M240.1 443.95h0M243.43 443.95h0M246.76 443.95h0M250.09 443.95h0M253.42 443.95h0M256.75 443.95h0M260.08 443.95h0M263.41 443.95h0M266.74 443.95h0M270.07 443.95h0M273.4 443.95h0M276.73 443.95h0M280.06 443.95h0M283.38 443.95h0M286.71 443.95h0M290.04 443.95h0M293.37 443.95h0M296.7 443.95h0M300.03 443.95h0M303.36 443.95h0M306.69 443.95h0M310.02 443.95h0M313.35 443.95h0M316.68 443.95h0M320.01 443.95h0M323.34 443.95h0M326.67 443.95h0M330 443.95h0M333.33 443.95h0M336.66 443.95h0M339.99 443.95h0M343.32 443.95h0M346.65 443.95h0M349.98 443.95h0M353.31 443.95h0M356.64 443.95h0M359.97 443.95h0M363.29 443.95h0M366.62 443.95h0M369.95 443.95h0M373.28 443.95h0"/>
<path stroke="#ff532a" d="M403.25 434.71h0M396.59 437.79h0M399.92 437.79h0M393.26 440.87h0M396.59 440.87h0M389.93 443.95h0M393.26 443.95h0M383.27 447.03h0M386.6 447.03h0M389.93 447.03h0M379.94 450.11h0M383.27 450.11h0M379.94 453.19h0"/>
<path stroke="#ff582d" d="M403.25 437.79h0M399.92 440.87h0M403.25 440.87h0M396.59 443.95h0M399.92 443.95h0M393.26 447.03h0M396.59 447.03h0M386.6 450.11h0M389.93 450.11h0M383.27 453.19h0M386.6 453.19h0M379.94 456.27h0M383.27 456.27h0M379.94 459.36h0"/>
<path stroke="#ff5e30" d="M403.25 443.95h0M399.92 447.03h0M403.25 447.03h0M393.26 450.11h0M396.59 450.11h0M389.93 453.19h0M393.26 453.19h0M386.6 456.27h0M389.93 456.27h0M383.27 459.36h0M386.6 459.36h0M379.94 462.44h0M383.27 462.44h0M379.94 465.52h0"/>
<path stroke="#1b94f3" d="M240.1 447.03h0M243.43 447.03h0M246.76 447.03h0M250.09 447.03h0M253.42 447.03h0M256.75 447.03h0M260.08 447.03h0M263.41 447.03h0M266.74 447.03h0M270.07 447.03h0M273.4 447.03h0M276.73 447.03h0M280.06 447.03h0M283.38 447.03h0M286.71 447.03h0M290.04 447.03h0M293.37 447.03h0M296.7 447.03h0M300.03 447.03h0M303.36 447.03h0M306.69 447.03h0M310.02 447.03h0M313.35 447.03h0M316.68 447.03h0M320.01 447.03h0M323.34 447.03h0M326.67 447.03h0M330 447.03h0M333.33 447.03h0M336.66 447.03h0M339.99 447.03h0M343.32 447.03h0M346.65 447.03h0M349.98 447.03h0M353.31 447.03h0M356.64 447.03h0M359.97 447.03h0M363.29 447.03h0M366.62 447.03h0M369.95 447.03h0M373.28 447.03h0M240.1 450.11h0M243.43 450.11h0M246.76 450.11h0M250.09 450.11h0M253.42 450.11h0M256.75 450.11h0M260.08 450.11h0M263.41 450.11h0M266.74 450.11h0M270.07 450.11h0M273.4 450.11h0M276.73 450.11h0M280.06 450.11h0M283.38 450.11h0M286.71 450.11h0M290.04 450.11h0M293.37 450.11h0M296.7 450.11h0M300.03 450.11h0M303.36 450.11h0M306.69 450.11h0M310.02 450.11h0M313.35 450.11h0M316.68 450.11h0M320.01 450.11h0M323.34 450.11h0M326.67 450.11h0M330 450.11h0M333.33 450.11h0M336.66 450.11h0M339.99 450.11h0M343.32 450.11h0M346.65 450.11h0M349.98 450.11h0M353.31 450.11h0M356.64 450.11h0M359.97 450.11h0M363.29 450.11h0M366.62 450.11h0M369.95 450.11h0M373.28 450.11h0M376.61 450.11h0M240.1 453.19h0M243.43 453.19h0M246.76 453.19h0M250.09 453.19h0M253.42 453.19h0M256.75 453.19h0M260.08 453.19h0M263.41 453.19h0M266.74 453.19h0M270.07 453.19h0M273.4 453.19h0M276.73 453.19h0M280.06 453.19h0M283.38 453.19h0M286.71 453.19h0M290.04 453.19h0M293.37 453.19h0M296.7 453.19h0M300.03 453.19h0M303.36 453.19h0M306.69 453.19h0M310.02 453.19h0M313.35 453.19h0M316.68 453.19h0M320.01 453.19h0M323.34 453.19h0M326.67 453.19h0M330 453.19h0M333.33 453.19h0M336.66 453.19h0M339.99 453.19h0M343.32 453.19h0M346.65 453.19h0M349.98 453.19h0M353.31 453.19h0M356.64 453.19h0M359.97 453.19h0M363.29 453.19h0M366.62 453.19h0M369.95 453.19h0M373.28 453.19h0M376.61 453.19h0M240.1 456.27h0M243.43 456.27h0M246.76 456.27h0M250.09 456.27h0M253.42 456.27h0M256.75 456.27h0M260.08 456.27h0M263.41 456.27h0M266.74 456.27h0M270.07 456.27h0M273.4 456.27h0M276.73 456.27h0M280.06 456.27h0M283.38 456.27h0M286.71 456.27h0M290.04 456.27h0M293.37 456.27h0M296.7 456.27h0M300.03 456.27h0M303.36 456.27h0M306.69 456.27h0M310.02 456.27h0M313.35 456.27h0M316.68 456.27h0M320.01 456.27h0M323.34 456.27h0M326.67 456.27h0M330 456.27h0M333.33 456.27h0M336.66 456.27h0M339.99 456.27h0M343.32 456.27h0M346.65 456.27h0M349.98 456.27h0M353.31 456.27h0M356.64 456.27h0M359.97 456.27h0M363.29 456.27h0M366.62 456.27h0M369.95 456.27h0M373.28 456.27h0M376.61 456.27h0"/>
<path stroke="#ff6333" d="M399.92 450.11h0M403.25 450.11h0M396.59 453.19h0M399.92 453.19h0M393.26 456.27h0M396.59 456.27h0M389.93 459.36h0M393.26 459.36h0M386.6 462.44h0M389.93 462.44h0M383.27 465.52h0M386.6 465.52h0M383.27 468.6h0"/>
<path stroke="#ff6936" d="M403.25 453.19h0M399.92 456.27h0M403.25 456.27h0M396.59 459.36h0M399.92 459.36h0M393.26 462.44h0M389.93 465.52h0M386.6 468.6h0M383.27 471.68h0"/>
<path stroke="#1f8ff4" d="M240.1 459.36h0M243.43 459.36h0M246.76 459.36h0M250.09 459.36h0M253.42 459.36h0M256.75 459.36h0M260.08 459.36h0M263.41 459.36h0M266.74 459.36h0M270.07 459.36h0M273.4 459.36h0M276.73 459.36h0M280.06 459.36h0M283.38 459.36h0M286.71 459.36h0M290.04 459.36h0M293.37 459.36h0M296.7 459.36h0M300.03 459.36h0M303.36 459.36h0M306.69 459.36h0M310.02 459.36h0M313.35 459.36h0M316.68 459.36h0M320.01 459.36h0M323.34 459.36h0M326.67 459.36h0M330 459.36h0M333.33 459.36h0M336.66 459.36h0M339.99 459.36h0M343.32 459.36h0M346.65 459.36h0M349.98 459.36h0M353.31 459.36h0M356.64 459.36h0M359.97 459.36h0M363.29 459.36h0M366.62 459.36h0M369.95 459.36h0M373.28 459.36h0M376.61 459.36h0M240.1 462.44h0M243.43 462.44h0M246.76 462.44h0M250.09 462.44h0M253.42 462.44h0M256.75 462.44h0M260.08 462.44h0M263.41 462.44h0M266.74 462.44h0M270.07 462.44h0M273.4 462.44h0M276.73 462.44h0M280.06 462.44h0M283.38 462.44h0M286.71 462.44h0M290.04 462.44h0M293.37 462.44h0M296.7 462.44h0M300.03 462.44h0M303.36 462.44h0M306.69 462.44h0M310.02 462.44h0M313.35 462.44h0M316.68 462.44h0M320.01 462.44h0M323.34 462.44h0M326.67 462.44h0M330 462.44h0M333.33 462.44h0M336.66 462.44h0M339.99 462.44h0M343.32 462.44h0M346.65 462.44h0M349.98 462.44h0M353.31 462.44h0M356.64 462.44h0M359.97 462.44h0M363.29 462.44h0M366.62 462.44h0M369.95 462.44h0M373.28 462.44h0M376.61 462.44h0M240.1 465.52h0M243.43 465.52h0M246.76 465.52h0M250.09 465.52h0M253.42 465.52h0M256.75 465.52h0M260.08 465.52h0M263.41 465.52h0M266.74 465.52h0M270.07 465.52h0M273.4 465.52h0M276.73 465.52h0M280.06 465.52h0M283.38 465.52h0M286.71 465.52h0M290.04 465.52h0M293.37 465.52h0M296.7 465.52h0M300.03 465.52h0M303.36 465.52h0M306.69 465.52h0M310.02 465.52h0M313.35 465.52h0M316.68 465.52h0M320.01 465.52h0M323.34 465.52h0M326.67 465.52h0M330 465.52h0M333.33 465.52h0M336.66 465.52h0M339.99 465.52h0M343.32 465.52h0M346.65 465.52h0M349.98 465.52h0M353.31 465.52h0M356.64 465.52h0M359.97 465.52h0M363.29 465.52h0M366.62 465.52h0M369.95 465.52h0M373.28 465.52h0M376.61 465.52h0M240.1 468.6h0M243.43 468.6h0M246.76 468.6h0M250.09 468.6h0M253.42 468.6h0M256.75 468.6h0M260.08 468.6h0M263.41 468.6h0M266.74 468.6h0M270.07 468.6h0M273.4 468.6h0M276.73 468.6h0M280.06 468.6h0M283.38 468.6h0M286.71 468.6h0M290.04 468.6h0M293.37 468.6h0M296.7 468.6h0M300.03 468.6h0M303.36 468.6h0M306.69 468.6h0M310.02 468.6h0M313.35 468.6h0M316.68 468.6h0M320.01 468.6h0M323.34 468.6h0M326.67 468.6h0M330 468.6h0M333.33 468.6h0M336.66 468.6h0M339.99 468.6h0M343.32 468.6h0M346.65 468.6h0M349.98 468.6h0M353.31 468.6h0M356.64 468.6h0M359.97 468.6h0M363.29 468.6h0M366.62 468.6h0M369.95 468.6h0M373.28 468.6h0M376.61 468.6h0M379.94 468.6h0"/>
<path stroke="#ff6e39" d="M403.25 459.36h0M396.59 462.44h0M399.92 462.44h0M393.26 465.52h0M396.59 465.52h0M389.93 468.6h0M393.26 468.6h0M386.6 471.68h0M389.93 471.68h0M383.27 474.76h0M386.6 474.76h0M383.27 477.84h0"/>
<path stroke="#ff743c" d="M403.25 462.44h0M399.92 465.52h0M403.25 465.52h0M396.59 468.6h0M399.92 468.6h0M393.26 471.68h0M396.59 471.68h0M389.93 474.76h0M393.26 474.76h0M386.6 477.84h0M389.93 477.84h0M383.27 480.92h0M386.6 480.92h0"/>
<path stroke="#ff793e" d="M403.25 468.6h0M399.92 471.68h0M396.59 474.76h0M393.26 477.84h0M389.93 480.92h0M386.6 484h0"/>
<path stroke="#228af5" d="M240.1 471.68h0M243.43 471.68h0M246.76 471.68h0M250.09 471.68h0M253.42 471.68h0M256.75 471.68h0M260.08 471.68h0M263.41 471.68h0M266.74 471.68h0M270.07 471.68h0M273.4 471.68h0M276.73 471.68h0M280.06 471.68h0M283.38 471.68h0M286.71 471.68h0M290.04 471.68h0M293.37 471.68h0M296.7 471.68h0M300.03 471.68h0M303.36 471.68h0M306.69 471.68h0M310.02 471.68h0M313.35 471.68h0M316.68 471.68h0M320.01 471.68h0M323.34 471.68h0M326.67 471.68h0M330 471.68h0M333.33 471.68h0M336.66 471.68h0M339.99 471.68h0M343.32 471.68h0M346.65 471.68h0M349.98 471.68h0M353.31 471.68h0M356.64 471.68h0M359.97 471.68h0M363.29 471.68h0M366.62 471.68h0M369.95 471.68h0M373.28 471.68h0M376.61 471.68h0M379.94 471.68h0M240.1 474.76h0M243.43 474.76h0M246.76 474.76h0M250.09 474.76h0M253.42 474.76h0M256.75 474.76h0M260.08 474.76h0M263.41 474.76h0M266.74 474.76h0M270.07 474.76h0M273.4 474.76h0M276.73 474.76h0M280.06 474.76h0M283.38 474.76h0M286.71 474.76h0M290.04 474.76h0M293.37 474.76h0M296.7 474.76h0M300.03 474.76h0M303.36 474.76h0M306.69 474.76h0M310.02 474.76h0M313.35 474.76h0M316.68 474.76h0M320.01 474.76h0M323.34 474.76h0M326.67 474.76h0M330 474.76h0M333.33 474.76h0M336.66 474.76h0M339.99 474.76h0M343.32 474.76h0M346.65 474.76h0M349.98 474.76h0M353.31 474.76h0M356.64 474.76h0M359.97 474.76h0M363.29 474.76h0M366.62 474.76h0M369.95 474.76h0M373.28 474.76h0M376.61 474.76h0M379.94 474.76h0M240.1 477.84h0M243.43 477.84h0M246.76 477.84h0M250.09 477.84h0M253.42 477.84h0M256.75 477.84h0M260.08 477.84h0M263.41 477.84h0M266.74 477.84h0M270.07 477.84h0M273.4 477.84h0M276.73 477.84h0M280.06 477.84h0M283.38 477.84h0M286.71 477.84h0M290.04 477.84h0M293.37 477.84h0M296.7 477.84h0M300.03 477.84h0M303.36 477.84h0M306.69 477.84h0M310.02 477.84h0M313.35 477.84h0M316.68 477.84h0M320.01 477.84h0M323.34 477.84h0M326.67 477.84h0M330 477.84h0M333.33 477.84h0M336.66 477.84h0M339.99 477.84h0M343.32 477.84h0M346.65 477.84h0M349.98 477.84h0M353.31 477.84h0M356.64 477.84h0M359.97 477.84h0M363.29 477.84h0M366.62 477.84h0M369.95 477.84h0M373.28 477.84h0M376.61 477.84h0M379.94 477.84h0M240.1 480.92h0M243.43 480.92h0M246.76 480.92h0M250.09 480.92h0M253.42 480.92h0M256.75 480.92h0M260.08 480.92h0M263.41 480.92h0M266.74 480.92h0M270.07 480.92h0M273.4 480.92h0M276.73 480.92h0M280.06 480.92h0M283.38 480.92h0M286.71 480.92h0M290.04 480.92h0M293.37 480.92h0M296.7 480.92h0M300.03 480.92h0M303.36 480.92h0M306.69 480.92h0M310.02 480.92h0M313.35 480.92h0M316.68 480.92h0M320.01 480.92h0M323.34 480.92h0M326.67 480.92h0M330 480.92h0M333.33 480.92h0M336.66 480.92h0M339.99 480.92h0M343.32 480.92h0M346.65 480.92h0M349.98 480.92h0M353.31 480.92h0M356.64 480.92h0M359.97 480.92h0M363.29 480.92h0M366.62 480.92h0M369.95 480.92h0M373.28 480.92h0M376.61 480.92h0M379.94 480.92h0"/>
<path stroke="#ff7e41" d="M403.25 471.68h0M399.92 474.76h0M396.59 477.84h0M399.92 477.84h0M393.26 480.92h0M396.59 480.92h0M389.93 484h0M393.26 484h0"/>
<path stroke="#ff8444" d="M403.25 474.76h0M403.25 477.84h0M399.92 480.92h0M396.59 484h0"/>
<path stroke="#ff8947" d="M403.25 480.92h0M399.92 484h0"/>
<path stroke="#2685f5" d="M240.1 484h0M243.43 484h0M246.76 484h0M250.09 484h0M253.42 484h0M256.75 484h0M260.08 484h0M263.41 484h0M266.74 484h0M270.07 484h0M273.4 484h0M276.73 484h0M280.06 484h0M283.38 484h0M286.71 484h0M290.04 484h0M293.37 484h0M296.7 484h0M300.03 484h0M303.36 484h0M306.69 484h0M310.02 484h0M313.35 484h0M316.68 484h0M320.01 484h0M323.34 484h0M326.67 484h0M330 484h0M333.33 484h0M336.66 484h0M339.99 484h0M343.32 484h0M346.65 484h0M349.98 484h0M353.31 484h0M356.64 484h0M359.97 484h0M363.29 484h0M366.62 484h0M369.95 484h0M373.28 484h0M376.61 484h0M379.94 484h0M383.27 484h0"/>
<path stroke="#ff8e4a" d="M403.25 484h0"/>
</g>
<path d="M240.6 350.39L243.93 350.39L247.26 350.39L250.59 350.39L253.92 350.39L257.25 350.39L260.58 350.39L263.91 350.39L265.57 351.93L267.24 353.47L270.57 353.47L273.9 353.47L277.23 353.47L280.56 353.47L283.88 353.47L287.21 353.47L290.54 353.47L293.87 353.47L297.2 353.47L300.53 353.47L302.2 355.01L303.86 356.55L307.19 356.55L310.52 356.55L313.85 356.55L317.18 356.55L318.85 358.09L320.51 359.64L323.84 359.64L325.5 361.18L327.17 362.72L330.5 362.72L332.16 364.26L333.83 365.8L337.16 365.8L338.82 367.34L340.49 368.88L342.15 370.42L343.82 371.96L345.48 373.5L347.15 375.04L348.81 376.58L350.48 378.12L352.14 379.66L352.14 382.74L353.81 384.28L355.47 385.82L357.14 387.36L358.8 388.9L358.8 391.98L360.47 393.52L362.13 395.06L363.79 396.6L365.46 398.14L365.46 401.22L365.46 404.3L367.12 405.84L368.79 407.38L368.79 410.47L368.79 413.55L370.45 415.09L372.12 416.63L372.12 419.71L372.12 422.79L372.12 425.87L372.12 428.95L372.12 432.03L373.78 433.57L375.45 435.11L375.45 438.19L375.45 441.27L375.45 444.35L375.45 447.43L377.11 448.97L378.78 450.51L378.78 453.59L378.78 456.67L378.78 459.76L378.78 462.84L378.78 465.92L380.44 467.46L382.11 469L382.11 472.08L382.11 475.16L382.11 478.24L382.11 481.32L383.77 482.86L385.44 484.4" stroke="#000" stroke-width="1.1" fill="none" stroke-linejoin="round" stroke-linecap="round"/>
<rect x="232.45" y="325.6" width="179.2" height="165.8" fill="none" stroke="#505050" stroke-width="0.8"/>
<path d="M240.1 491.4v3M294.48 491.4v3M348.87 491.4v3M403.25 491.4v3M411.65 350.81h2.6M411.65 395.21h2.6M411.65 439.6h2.6M411.65 484h2.6" stroke="#5a5a5a" stroke-width="0.9" fill="none"/>
<text x="233.8" y="511.5" font-size="12">10</text>
<text x="246" y="505.2" font-size="8">0</text>
<text x="288.18" y="511.5" font-size="12">10</text>
<text x="300.38" y="505.2" font-size="8">1</text>
<text x="342.57" y="511.5" font-size="12">10</text>
<text x="354.77" y="505.2" font-size="8">2</text>
<text x="396.95" y="511.5" font-size="12">10</text>
<text x="409.15" y="505.2" font-size="8">3</text>
<path d="M432.65 325.6V491.4M487.03 325.6V491.4M541.42 325.6V491.4M595.8 325.6V491.4M424.5 350.81H603.8M424.5 395.21H603.8M424.5 439.6H603.8M424.5 484H603.8" stroke="#ececec" stroke-width="0.7" fill="none"/>
<g stroke-linecap="round" stroke-width="2.5" fill="none">
<path stroke="#ff0000" d="M432.65 333.05h0M435.98 333.05h0M439.31 333.05h0M442.64 333.05h0M445.97 333.05h0M449.3 333.05h0M452.63 333.05h0M455.96 333.05h0M459.29 333.05h0M462.62 333.05h0M465.95 333.05h0M469.28 333.05h0M472.61 333.05h0M475.93 333.05h0M479.26 333.05h0M482.59 333.05h0M485.92 333.05h0M489.25 333.05h0M492.58 333.05h0M495.91 333.05h0M499.24 333.05h0M502.57 333.05h0M505.9 333.05h0M509.23 333.05h0M512.56 333.05h0M515.89 333.05h0M519.22 333.05h0M522.55 333.05h0M525.88 333.05h0M529.21 333.05h0M532.54 333.05h0M535.87 333.05h0M539.2 333.05h0M542.53 333.05h0M545.86 333.05h0M549.19 333.05h0M552.52 333.05h0M555.84 333.05h0M559.17 333.05h0M562.5 333.05h0M565.83 333.05h0M569.16 333.05h0M572.49 333.05h0M575.82 333.05h0M579.15 333.05h0M582.48 333.05h0M585.81 333.05h0M589.14 333.05h0M592.47 333.05h0M595.8 333.05h0M432.65 336.13h0M435.98 336.13h0M439.31 336.13h0M442.64 336.13h0M445.97 336.13h0M449.3 336.13h0M452.63 336.13h0M455.96 336.13h0M459.29 336.13h0M462.62 336.13h0M465.95 336.13h0M469.28 336.13h0M472.61 336.13h0M475.93 336.13h0M479.26 336.13h0M482.59 336.13h0M485.92 336.13h0M489.25 336.13h0M492.58 336.13h0M495.91 336.13h0M499.24 336.13h0M502.57 336.13h0M505.9 336.13h0M509.23 336.13h0M512.56 336.13h0M515.89 336.13h0M519.22 336.13h0M522.55 336.13h0M525.88 336.13h0M529.21 336.13h0M532.54 336.13h0M535.87 336.13h0M539.2 336.13h0M542.53 336.13h0M545.86 336.13h0M549.19 336.13h0M552.52 336.13h0M555.84 336.13h0M559.17 336.13h0M562.5 336.13h0M565.83 336.13h0M569.16 336.13h0M572.49 336.13h0M575.82 336.13h0M579.15 336.13h0M582.48 336.13h0M585.81 336.13h0M589.14 336.13h0M592.47 336.13h0M595.8 336.13h0M432.65 339.21h0M435.98 339.21h0M439.31 339.21h0M442.64 339.21h0M445.97 339.21h0M449.3 339.21h0M452.63 339.21h0M455.96 339.21h0M459.29 339.21h0M462.62 339.21h0M465.95 339.21h0M469.28 339.21h0M472.61 339.21h0M475.93 339.21h0M479.26 339.21h0M482.59 339.21h0M485.92 339.21h0M489.25 339.21h0M492.58 339.21h0M495.91 339.21h0M499.24 339.21h0M502.57 339.21h0M505.9 339.21h0M509.23 339.21h0M512.56 339.21h0M515.89 339.21h0M519.22 339.21h0M522.55 339.21h0M525.88 339.21h0M529.21 339.21h0M532.54 339.21h0M535.87 339.21h0M539.2 339.21h0M542.53 339.21h0M545.86 339.21h0M549.19 339.21h0M552.52 339.21h0M555.84 339.21h0M559.17 339.21h0M562.5 339.21h0M565.83 339.21h0M569.16 339.21h0M572.49 339.21h0M575.82 339.21h0M579.15 339.21h0M582.48 339.21h0M585.81 339.21h0M589.14 339.21h0M592.47 339.21h0M595.8 339.21h0M432.65 342.29h0M435.98 342.29h0M439.31 342.29h0M442.64 342.29h0M445.97 342.29h0M449.3 342.29h0M452.63 342.29h0M455.96 342.29h0M459.29 342.29h0M462.62 342.29h0M465.95 342.29h0M469.28 342.29h0M472.61 342.29h0M475.93 342.29h0M479.26 342.29h0M482.59 342.29h0M485.92 342.29h0M489.25 342.29h0M492.58 342.29h0M495.91 342.29h0M499.24 342.29h0M502.57 342.29h0M505.9 342.29h0M509.23 342.29h0M512.56 342.29h0M515.89 342.29h0M519.22 342.29h0M522.55 342.29h0M525.88 342.29h0M529.21 342.29h0M532.54 342.29h0M535.87 342.29h0M539.2 342.29h0M542.53 342.29h0M545.86 342.29h0M549.19 342.29h0M552.52 342.29h0M555.84 342.29h0M559.17 342.29h0M562.5 342.29h0M565.83 342.29h0M569.16 342.29h0M572.49 342.29h0M575.82 342.29h0M579.15 342.29h0M582.48 342.29h0M585.81 342.29h0M589.14 342.29h0M592.47 342.29h0M595.8 342.29h0M432.65 345.37h0M435.98 345.37h0M439.31 345.37h0M442.64 345.37h0M445.97 345.37h0M449.3 345.37h0M452.63 345.37h0M455.96 345.37h0M459.29 345.37h0M462.62 345.37h0M465.95 345.37h0M469.28 345.37h0M472.61 345.37h0M475.93 345.37h0M479.26 345.37h0M482.59 345.37h0M485.92 345.37h0M489.25 345.37h0M492.58 345.37h0M495.91 345.37h0M499.24 345.37h0M502.57 345.37h0M505.9 345.37h0M509.23 345.37h0M512.56 345.37h0M515.89 345.37h0M519.22 345.37h0M522.55 345.37h0M525.88 345.37h0M529.21 345.37h0M532.54 345.37h0M535.87 345.37h0M539.2 345.37h0M542.53 345.37h0M545.86 345.37h0M549.19 345.37h0M552.52 345.37h0M555.84 345.37h0M559.17 345.37h0M562.5 345.37h0M565.83 345.37h0M569.16 345.37h0M572.49 345.37h0M575.82 345.37h0M579.15 345.37h0M582.48 345.37h0M585.81 345.37h0M589.14 345.37h0M592.47 345.37h0M595.8 345.37h0M432.65 348.45h0M435.98 348.45h0M439.31 348.45h0M442.64 348.45h0M445.97 348.45h0M449.3 348.45h0M452.63 348.45h0M455.96 348.45h0M459.29 348.45h0M462.62 348.45h0M465.95 348.45h0M469.28 348.45h0M472.61 348.45h0M475.93 348.45h0M479.26 348.45h0M482.59 348.45h0M485.92 348.45h0M489.25 348.45h0M492.58 348.45h0M495.91 348.45h0M499.24 348.45h0M502.57 348.45h0M505.9 348.45h0M509.23 348.45h0M512.56 348.45h0M515.89 348.45h0M519.22 348.45h0M522.55 348.45h0M525.88 348.45h0M529.21 348.45h0M532.54 348.45h0M535.87 348.45h0M539.2 348.45h0M542.53 348.45h0M545.86 348.45h0M549.19 348.45h0M552.52 348.45h0M555.84 348.45h0M559.17 348.45h0M562.5 348.45h0M565.83 348.45h0M569.16 348.45h0M572.49 348.45h0M575.82 348.45h0M579.15 348.45h0M582.48 348.45h0M585.81 348.45h0M589.14 348.45h0M592.47 348.45h0M595.8 348.45h0"/>
<path stroke="#00b4ec" d="M432.65 351.53h0M435.98 351.53h0M439.31 351.53h0M442.64 351.53h0M445.97 351.53h0M449.3 351.53h0M452.63 351.53h0M455.96 351.53h0M459.29 351.53h0M462.62 351.53h0M465.95 351.53h0M469.28 351.53h0M472.61 351.53h0M475.93 351.53h0M479.26 351.53h0M482.59 351.53h0M485.92 351.53h0M489.25 351.53h0M492.58 351.53h0M495.91 351.53h0M499.24 351.53h0M502.57 351.53h0M505.9 351.53h0M509.23 351.53h0M512.56 351.53h0M515.89 351.53h0M519.22 351.53h0M522.55 351.53h0M525.88 351.53h0M529.21 351.53h0M532.54 351.53h0M535.87 351.53h0M539.2 351.53h0M542.53 351.53h0M545.86 351.53h0M549.19 351.53h0M552.52 351.53h0M555.84 351.53h0M559.17 351.53h0M562.5 351.53h0M565.83 351.53h0M569.16 351.53h0M572.49 351.53h0M575.82 351.53h0M579.15 351.53h0M582.48 351.53h0M585.81 351.53h0M589.14 351.53h0M592.47 351.53h0M595.8 351.53h0M432.65 354.61h0M435.98 354.61h0M439.31 354.61h0M442.64 354.61h0M445.97 354.61h0M449.3 354.61h0M452.63 354.61h0M455.96 354.61h0M459.29 354.61h0M462.62 354.61h0M465.95 354.61h0M469.28 354.61h0M472.61 354.61h0M475.93 354.61h0M479.26 354.61h0M482.59 354.61h0M485.92 354.61h0M489.25 354.61h0M492.58 354.61h0M495.91 354.61h0M499.24 354.61h0M502.57 354.61h0M505.9 354.61h0M509.23 354.61h0M512.56 354.61h0M515.89 354.61h0M519.22 354.61h0M522.55 354.61h0M525.88 354.61h0M529.21 354.61h0M532.54 354.61h0M535.87 354.61h0M539.2 354.61h0M542.53 354.61h0M545.86 354.61h0M549.19 354.61h0M552.52 354.61h0M555.84 354.61h0M559.17 354.61h0M562.5 354.61h0M565.83 354.61h0M569.16 354.61h0M572.49 354.61h0M575.82 354.61h0M579.15 354.61h0M582.48 354.61h0M585.81 354.61h0M589.14 354.61h0M592.47 354.61h0M595.8 354.61h0"/>
<path stroke="#04b0ed" d="M432.65 357.69h0M435.98 357.69h0M439.31 357.69h0M442.64 357.69h0M445.97 357.69h0M449.3 357.69h0M452.63 357.69h0M455.96 357.69h0M459.29 357.69h0M462.62 357.69h0M465.95 357.69h0M469.28 357.69h0M472.61 357.69h0M475.93 357.69h0M479.26 357.69h0M482.59 357.69h0M485.92 357.69h0M489.25 357.69h0M492.58 357.69h0M495.91 357.69h0M499.24 357.69h0M502.57 357.69h0M505.9 357.69h0M509.23 357.69h0M512.56 357.69h0M515.89 357.69h0M519.22 357.69h0M522.55 357.69h0M525.88 357.69h0M529.21 357.69h0M532.54 357.69h0M535.87 357.69h0M539.2 357.69h0M542.53 357.69h0M545.86 357.69h0M549.19 357.69h0M552.52 357.69h0M555.84 357.69h0M559.17 357.69h0M562.5 357.69h0M565.83 357.69h0M569.16 357.69h0M572.49 357.69h0M575.82 357.69h0M579.15 357.69h0M582.48 357.69h0M585.81 357.69h0M589.14 357.69h0M592.47 357.69h0M595.8 357.69h0M432.65 360.78h0M435.98 360.78h0M439.31 360.78h0M442.64 360.78h0M445.97 360.78h0M449.3 360.78h0M452.63 360.78h0M455.96 360.78h0M459.29 360.78h0M462.62 360.78h0M465.95 360.78h0M469.28 360.78h0M472.61 360.78h0M475.93 360.78h0M479.26 360.78h0M482.59 360.78h0M485.92 360.78h0M489.25 360.78h0M492.58 360.78h0M495.91 360.78h0M499.24 360.78h0M502.57 360.78h0M505.9 360.78h0M509.23 360.78h0M512.56 360.78h0M515.89 360.78h0M519.22 360.78h0M522.55 360.78h0M525.88 360.78h0M529.21 360.78h0M532.54 360.78h0M535.87 360.78h0M539.2 360.78h0M542.53 360.78h0M545.86 360.78h0M549.19 360.78h0M552.52 360.78h0M555.84 360.78h0M559.17 360.78h0M562.5 360.78h0M565.83 360.78h0M569.16 360.78h0M572.49 360.78h0M575.82 360.78h0M579.15 360.78h0M582.48 360.78h0M585.81 360.78h0M589.14 360.78h0M592.47 360.78h0M595.8 360.78h0M432.65 363.86h0M435.98 363.86h0M439.31 363.86h0M442.64 363.86h0M445.97 363.86h0M449.3 363.86h0M452.63 363.86h0M455.96 363.86h0M459.29 363.86h0M462.62 363.86h0M465.95 363.86h0M469.28 363.86h0M472.61 363.86h0M475.93 363.86h0M479.26 363.86h0M482.59 363.86h0M485.92 363.86h0M489.25 363.86h0M492.58 363.86h0M495.91 363.86h0M499.24 363.86h0M502.57 363.86h0M505.9 363.86h0M509.23 363.86h0M512.56 363.86h0M515.89 363.86h0M519.22 363.86h0M522.55 363.86h0M525.88 363.86h0M529.21 363.86h0M532.54 363.86h0M535.87 363.86h0M539.2 363.86h0M542.53 363.86h0M545.86 363.86h0M549.19 363.86h0M552.52 363.86h0M555.84 363.86h0M559.17 363.86h0M562.5 363.86h0M565.83 363.86h0M569.16 363.86h0M572.49 363.86h0M575.82 363.86h0M579.15 363.86h0M582.48 363.86h0M585.81 363.86h0M589.14 363.86h0M592.47 363.86h0M595.8 363.86h0M432.65 366.94h0M435.98 366.94h0M439.31 366.94h0M442.64 366.94h0M445.97 366.94h0M449.3 366.94h0M452.63 366.94h0M455.96 366.94h0M459.29 366.94h0M462.62 366.94h0M465.95 366.94h0M469.28 366.94h0M472.61 366.94h0M475.93 366.94h0M479.26 366.94h0M482.59 366.94h0M485.92 366.94h0M489.25 366.94h0M492.58 366.94h0M495.91 366.94h0M499.24 366.94h0M502.57 366.94h0M505.9 366.94h0M509.23 366.94h0M512.56 366.94h0M515.89 366.94h0M519.22 366.94h0M522.55 366.94h0M525.88 366.94h0M529.21 366.94h0M532.54 366.94h0M535.87 366.94h0M539.2 366.94h0M542.53 366.94h0M545.86 366.94h0M549.19 366.94h0M552.52 366.94h0M555.84 366.94h0M559.17 366.94h0M562.5 366.94h0M565.83 366.94h0M569.16 366.94h0M572.49 366.94h0M575.82 366.94h0M579.15 366.94h0M582.48 366.94h0M585.81 366.94h0M589.14 366.94h0M592.47 366.94h0M595.8 366.94h0M432.65 370.02h0M435.98 370.02h0M439.31 370.02h0M442.64 370.02h0M445.97 370.02h0M449.3 370.02h0M452.63 370.02h0M455.96 370.02h0M459.29 370.02h0M462.62 370.02h0M465.95 370.02h0M469.28 370.02h0M472.61 370.02h0M475.93 370.02h0M479.26 370.02h0M482.59 370.02h0M485.92 370.02h0M489.25 370.02h0M492.58 370.02h0M495.91 370.02h0M499.24 370.02h0M502.57 370.02h0M505.9 370.02h0M509.23 370.02h0M512.56 370.02h0M515.89 370.02h0M519.22 370.02h0M522.55 370.02h0M525.88 370.02h0M529.21 370.02h0M532.54 370.02h0M535.87 370.02h0M539.2 370.02h0M542.53 370.02h0M545.86 370.02h0M549.19 370.02h0M552.52 370.02h0M555.84 370.02h0M559.17 370.02h0M562.5 370.02h0M565.83 370.02h0M569.16 370.02h0M572.49 370.02h0M575.82 370.02h0M579.15 370.02h0M582.48 370.02h0M585.81 370.02h0M589.14 370.02h0M592.47 370.02h0M595.8 370.02h0M432.65 373.1h0M435.98 373.1h0M439.31 373.1h0M442.64 373.1h0M445.97 373.1h0M449.3 373.1h0M452.63 373.1h0M455.96 373.1h0M459.29 373.1h0M462.62 373.1h0M465.95 373.1h0M469.28 373.1h0M472.61 373.1h0M475.93 373.1h0M479.26 373.1h0M482.59 373.1h0M485.92 373.1h0M489.25 373.1h0M492.58 373.1h0M495.91 373.1h0M499.24 373.1h0M502.57 373.1h0M505.9 373.1h0M509.23 373.1h0M512.56 373.1h0M515.89 373.1h0M519.22 373.1h0M522.55 373.1h0M525.88 373.1h0M529.21 373.1h0M532.54 373.1h0M535.87 373.1h0M539.2 373.1h0M542.53 373.1h0M545.86 373.1h0M549.19 373.1h0M552.52 373.1h0M555.84 373.1h0M559.17 373.1h0M562.5 373.1h0M565.83 373.1h0M569.16 373.1h0M572.49 373.1h0M575.82 373.1h0M579.15 373.1h0M582.48 373.1h0M585.81 373.1h0M589.14 373.1h0M592.47 373.1h0M595.8 373.1h0"/>
<path stroke="#08acee" d="M432.65 376.18h0M435.98 376.18h0M439.31 376.18h0M442.64 376.18h0M445.97 376.18h0M449.3 376.18h0M452.63 376.18h0M455.96 376.18h0M459.29 376.18h0M462.62 376.18h0M465.95 376.18h0M469.28 376.18h0M472.61 376.18h0M475.93 376.18h0M479.26 376.18h0M482.59 376.18h0M485.92 376.18h0M489.25 376.18h0M492.58 376.18h0M495.91 376.18h0M499.24 376.18h0M502.57 376.18h0M505.9 376.18h0M509.23 376.18h0M512.56 376.18h0M515.89 376.18h0M519.22 376.18h0M522.55 376.18h0M525.88 376.18h0M529.21 376.18h0M532.54 376.18h0M535.87 376.18h0M539.2 376.18h0M542.53 376.18h0M545.86 376.18h0M549.19 376.18h0M552.52 376.18h0M555.84 376.18h0M559.17 376.18h0M562.5 376.18h0M565.83 376.18h0M569.16 376.18h0M572.49 376.18h0M575.82 376.18h0M579.15 376.18h0M582.48 376.18h0M585.81 376.18h0M589.14 376.18h0M592.47 376.18h0M595.8 376.18h0M432.65 379.26h0M435.98 379.26h0M439.31 379.26h0M442.64 379.26h0M445.97 379.26h0M449.3 379.26h0M452.63 379.26h0M455.96 379.26h0M459.29 379.26h0M462.62 379.26h0M465.95 379.26h0M469.28 379.26h0M472.61 379.26h0M475.93 379.26h0M479.26 379.26h0M482.59 379.26h0M485.92 379.26h0M489.25 379.26h0M492.58 379.26h0M495.91 379.26h0M499.24 379.26h0M502.57 379.26h0M505.9 379.26h0M509.23 379.26h0M512.56 379.26h0M515.89 379.26h0M519.22 379.26h0M522.55 379.26h0M525.88 379.26h0M529.21 379.26h0M532.54 379.26h0M535.87 379.26h0M539.2 379.26h0M542.53 379.26h0M545.86 379.26h0M549.19 379.26h0M552.52 379.26h0M555.84 379.26h0M559.17 379.26h0M562.5 379.26h0M565.83 379.26h0M569.16 379.26h0M572.49 379.26h0M575.82 379.26h0M579.15 379.26h0M582.48 379.26h0M585.81 379.26h0M589.14 379.26h0M592.47 379.26h0M595.8 379.26h0M432.65 382.34h0M435.98 382.34h0M439.31 382.34h0M442.64 382.34h0M445.97 382.34h0M449.3 382.34h0M452.63 382.34h0M455.96 382.34h0M459.29 382.34h0M462.62 382.34h0M465.95 382.34h0M469.28 382.34h0M472.61 382.34h0M475.93 382.34h0M479.26 382.34h0M482.59 382.34h0M485.92 382.34h0M489.25 382.34h0M492.58 382.34h0M495.91 382.34h0M499.24 382.34h0M502.57 382.34h0M505.9 382.34h0M509.23 382.34h0M512.56 382.34h0M515.89 382.34h0M519.22 382.34h0M522.55 382.34h0M525.88 382.34h0M529.21 382.34h0M532.54 382.34h0M535.87 382.34h0M539.2 382.34h0M542.53 382.34h0M545.86 382.34h0M549.19 382.34h0M552.52 382.34h0M555.84 382.34h0M559.17 382.34h0M562.5 382.34h0M565.83 382.34h0M569.16 382.34h0M572.49 382.34h0M575.82 382.34h0M579.15 382.34h0M582.48 382.34h0M585.81 382.34h0M589.14 382.34h0M592.47 382.34h0M595.8 382.34h0M432.65 385.42h0M435.98 385.42h0M439.31 385.42h0M442.64 385.42h0M445.97 385.42h0M449.3 385.42h0M452.63 385.42h0M455.96 385.42h0M459.29 385.42h0M462.62 385.42h0M465.95 385.42h0M469.28 385.42h0M472.61 385.42h0M475.93 385.42h0M479.26 385.42h0M482.59 385.42h0M485.92 385.42h0M489.25 385.42h0M492.58 385.42h0M495.91 385.42h0M499.24 385.42h0M502.57 385.42h0M505.9 385.42h0M509.23 385.42h0M512.56 385.42h0M515.89 385.42h0M519.22 385.42h0M522.55 385.42h0M525.88 385.42h0M529.21 385.42h0M532.54 385.42h0M535.87 385.42h0M539.2 385.42h0M542.53 385.42h0M545.86 385.42h0M549.19 385.42h0M552.52 385.42h0M555.84 385.42h0M559.17 385.42h0M562.5 385.42h0M565.83 385.42h0M569.16 385.42h0M572.49 385.42h0M575.82 385.42h0M579.15 385.42h0M582.48 385.42h0M585.81 385.42h0M589.14 385.42h0M592.47 385.42h0M595.8 385.42h0M432.65 388.5h0M435.98 388.5h0M439.31 388.5h0M442.64 388.5h0M445.97 388.5h0M449.3 388.5h0M452.63 388.5h0M455.96 388.5h0M459.29 388.5h0M462.62 388.5h0M465.95 388.5h0M469.28 388.5h0M472.61 388.5h0M475.93 388.5h0M479.26 388.5h0M482.59 388.5h0M485.92 388.5h0M489.25 388.5h0M492.58 388.5h0M495.91 388.5h0M499.24 388.5h0M502.57 388.5h0M505.9 388.5h0M509.23 388.5h0M512.56 388.5h0M515.89 388.5h0M519.22 388.5h0M522.55 388.5h0M525.88 388.5h0M529.21 388.5h0M532.54 388.5h0M535.87 388.5h0M539.2 388.5h0M542.53 388.5h0M545.86 388.5h0M549.19 388.5h0M552.52 388.5h0M555.84 388.5h0M559.17 388.5h0M562.5 388.5h0M565.83 388.5h0M569.16 388.5h0M572.49 388.5h0M575.82 388.5h0M579.15 388.5h0M582.48 388.5h0M585.81 388.5h0M589.14 388.5h0M592.47 388.5h0M595.8 388.5h0"/>
<path stroke="#0ba7ef" d="M432.65 391.58h0M435.98 391.58h0M439.31 391.58h0M442.64 391.58h0M445.97 391.58h0M449.3 391.58h0M452.63 391.58h0M455.96 391.58h0M459.29 391.58h0M462.62 391.58h0M465.95 391.58h0M469.28 391.58h0M472.61 391.58h0M475.93 391.58h0M479.26 391.58h0M482.59 391.58h0M485.92 391.58h0M489.25 391.58h0M492.58 391.58h0M495.91 391.58h0M499.24 391.58h0M502.57 391.58h0M505.9 391.58h0M509.23 391.58h0M512.56 391.58h0M515.89 391.58h0M519.22 391.58h0M522.55 391.58h0M525.88 391.58h0M529.21 391.58h0M532.54 391.58h0M535.87 391.58h0M539.2 391.58h0M542.53 391.58h0M545.86 391.58h0M549.19 391.58h0M552.52 391.58h0M555.84 391.58h0M559.17 391.58h0M562.5 391.58h0M565.83 391.58h0M569.16 391.58h0M572.49 391.58h0M575.82 391.58h0M579.15 391.58h0M582.48 391.58h0M585.81 391.58h0M589.14 391.58h0M592.47 391.58h0M595.8 391.58h0M432.65 394.66h0M435.98 394.66h0M439.31 394.66h0M442.64 394.66h0M445.97 394.66h0M449.3 394.66h0M452.63 394.66h0M455.96 394.66h0M459.29 394.66h0M462.62 394.66h0M465.95 394.66h0M469.28 394.66h0M472.61 394.66h0M475.93 394.66h0M479.26 394.66h0M482.59 394.66h0M485.92 394.66h0M489.25 394.66h0M492.58 394.66h0M495.91 394.66h0M499.24 394.66h0M502.57 394.66h0M505.9 394.66h0M509.23 394.66h0M512.56 394.66h0M515.89 394.66h0M519.22 394.66h0M522.55 394.66h0M525.88 394.66h0M529.21 394.66h0M532.54 394.66h0M535.87 394.66h0M539.2 394.66h0M542.53 394.66h0M545.86 394.66h0M549.19 394.66h0M552.52 394.66h0M555.84 394.66h0M559.17 394.66h0M562.5 394.66h0M565.83 394.66h0M569.16 394.66h0M572.49 394.66h0M575.82 394.66h0M579.15 394.66h0M582.48 394.66h0M585.81 394.66h0M589.14 394.66h0M592.47 394.66h0M595.8 394.66h0M432.65 397.74h0M435.98 397.74h0M439.31 397.74h0M442.64 397.74h0M445.97 397.74h0M449.3 397.74h0M452.63 397.74h0M455.96 397.74h0M459.29 397.74h0M462.62 397.74h0M465.95 397.74h0M469.28 397.74h0M472.61 397.74h0M475.93 397.74h0M479.26 397.74h0M482.59 397.74h0M485.92 397.74h0M489.25 397.74h0M492.58 397.74h0M495.91 397.74h0M499.24 397.74h0M502.57 397.74h0M505.9 397.74h0M509.23 397.74h0M512.56 397.74h0M515.89 397.74h0M519.22 397.74h0M522.55 397.74h0M525.88 397.74h0M529.21 397.74h0M532.54 397.74h0M535.87 397.74h0M539.2 397.74h0M542.53 397.74h0M545.86 397.74h0M549.19 397.74h0M552.52 397.74h0M555.84 397.74h0M559.17 397.74h0M562.5 397.74h0M565.83 397.74h0M569.16 397.74h0M572.49 397.74h0M575.82 397.74h0M579.15 397.74h0M582.48 397.74h0M585.81 397.74h0M589.14 397.74h0M592.47 397.74h0M595.8 397.74h0M432.65 400.82h0M435.98 400.82h0M439.31 400.82h0M442.64 400.82h0M445.97 400.82h0M449.3 400.82h0M452.63 400.82h0M455.96 400.82h0M459.29 400.82h0M462.62 400.82h0M465.95 400.82h0M469.28 400.82h0M472.61 400.82h0M475.93 400.82h0M479.26 400.82h0M482.59 400.82h0M485.92 400.82h0M489.25 400.82h0M492.58 400.82h0M495.91 400.82h0M499.24 400.82h0M502.57 400.82h0M505.9 400.82h0M509.23 400.82h0M512.56 400.82h0M515.89 400.82h0M519.22 400.82h0M522.55 400.82h0M525.88 400.82h0M529.21 400.82h0M532.54 400.82h0M535.87 400.82h0M539.2 400.82h0M542.53 400.82h0M545.86 400.82h0M549.19 400.82h0M552.52 400.82h0M555.84 400.82h0M559.17 400.82h0M562.5 400.82h0M565.83 400.82h0M569.16 400.82h0M572.49 400.82h0M575.82 400.82h0M579.15 400.82h0M582.48 400.82h0M585.81 400.82h0M589.14 400.82h0M592.47 400.82h0M595.8 400.82h0M432.65 403.9h0M435.98 403.9h0M439.31 403.9h0M442.64 403.9h0M445.97 403.9h0M449.3 403.9h0M452.63 403.9h0M455.96 403.9h0M459.29 403.9h0M462.62 403.9h0M465.95 403.9h0M469.28 403.9h0M472.61 403.9h0M475.93 403.9h0M479.26 403.9h0M482.59 403.9h0M485.92 403.9h0M489.25 403.9h0M492.58 403.9h0M495.91 403.9h0M499.24 403.9h0M502.57 403.9h0M505.9 403.9h0M509.23 403.9h0M512.56 403.9h0M515.89 403.9h0M519.22 403.9h0M522.55 403.9h0M525.88 403.9h0M529.21 403.9h0M532.54 403.9h0M535.87 403.9h0M539.2 403.9h0M542.53 403.9h0M545.86 403.9h0M549.19 403.9h0M552.52 403.9h0M555.84 403.9h0M559.17 403.9h0M562.5 403.9h0M565.83 403.9h0M569.16 403.9h0M572.49 403.9h0M575.82 403.9h0M579.15 403.9h0M582.48 403.9h0M585.81 403.9h0M589.14 403.9h0M592.47 403.9h0M595.8 403.9h0"/>
<path stroke="#0fa3f0" d="M432.65 406.98h0M435.98 406.98h0M439.31 406.98h0M442.64 406.98h0M445.97 406.98h0M449.3 406.98h0M452.63 406.98h0M455.96 406.98h0M459.29 406.98h0M462.62 406.98h0M465.95 406.98h0M469.28 406.98h0M472.61 406.98h0M475.93 406.98h0M479.26 406.98h0M482.59 406.98h0M485.92 406.98h0M489.25 406.98h0M492.58 406.98h0M495.91 406.98h0M499.24 406.98h0M502.57 406.98h0M505.9 406.98h0M509.23 406.98h0M512.56 406.98h0M515.89 406.98h0M519.22 406.98h0M522.55 406.98h0M525.88 406.98h0M529.21 406.98h0M532.54 406.98h0M535.87 406.98h0M539.2 406.98h0M542.53 406.98h0M545.86 406.98h0M549.19 406.98h0M552.52 406.98h0M555.84 406.98h0M559.17 406.98h0M562.5 406.98h0M565.83 406.98h0M569.16 406.98h0M572.49 406.98h0M575.82 406.98h0M579.15 406.98h0M582.48 406.98h0M585.81 406.98h0M589.14 406.98h0M592.47 406.98h0M595.8 406.98h0M432.65 410.07h0M435.98 410.07h0M439.31 410.07h0M442.64 410.07h0M445.97 410.07h0M449.3 410.07h0M452.63 410.07h0M455.96 410.07h0M459.29 410.07h0M462.62 410.07h0M465.95 410.07h0M469.28 410.07h0M472.61 410.07h0M475.93 410.07h0M479.26 410.07h0M482.59 410.07h0M485.92 410.07h0M489.25 410.07h0M492.58 410.07h0M495.91 410.07h0M499.24 410.07h0M502.57 410.07h0M505.9 410.07h0M509.23 410.07h0M512.56 410.07h0M515.89 410.07h0M519.22 410.07h0M522.55 410.07h0M525.88 410.07h0M529.21 410.07h0M532.54 410.07h0M535.87 410.07h0M539.2 410.07h0M542.53 410.07h0M545.86 410.07h0M549.19 410.07h0M552.52 410.07h0M555.84 410.07h0M559.17 410.07h0M562.5 410.07h0M565.83 410.07h0M569.16 410.07h0M572.49 410.07h0M575.82 410.07h0M579.15 410.07h0M582.48 410.07h0M585.81 410.07h0M589.14 410.07h0M592.47 410.07h0M595.8 410.07h0M432.65 413.15h0M435.98 413.15h0M439.31 413.15h0M442.64 413.15h0M445.97 413.15h0M449.3 413.15h0M452.63 413.15h0M455.96 413.15h0M459.29 413.15h0M462.62 413.15h0M465.95 413.15h0M469.28 413.15h0M472.61 413.15h0M475.93 413.15h0M479.26 413.15h0M482.59 413.15h0M485.92 413.15h0M489.25 413.15h0M492.58 413.15h0M495.91 413.15h0M499.24 413.15h0M502.57 413.15h0M505.9 413.15h0M509.23 413.15h0M512.56 413.15h0M515.89 413.15h0M519.22 413.15h0M522.55 413.15h0M525.88 413.15h0M529.21 413.15h0M532.54 413.15h0M535.87 413.15h0M539.2 413.15h0M542.53 413.15h0M545.86 413.15h0M549.19 413.15h0M552.52 413.15h0M555.84 413.15h0M559.17 413.15h0M562.5 413.15h0M565.83 413.15h0M569.16 413.15h0M572.49 413.15h0M575.82 413.15h0M579.15 413.15h0M582.48 413.15h0M585.81 413.15h0M589.14 413.15h0M592.47 413.15h0M595.8 413.15h0M432.65 416.23h0M435.98 416.23h0M439.31 416.23h0M442.64 416.23h0M445.97 416.23h0M449.3 416.23h0M452.63 416.23h0M455.96 416.23h0M459.29 416.23h0M462.62 416.23h0M465.95 416.23h0M469.28 416.23h0M472.61 416.23h0M475.93 416.23h0M479.26 416.23h0M482.59 416.23h0M485.92 416.23h0M489.25 416.23h0M492.58 416.23h0M495.91 416.23h0M499.24 416.23h0M502.57 416.23h0M505.9 416.23h0M509.23 416.23h0M512.56 416.23h0M515.89 416.23h0M519.22 416.23h0M522.55 416.23h0M525.88 416.23h0M529.21 416.23h0M532.54 416.23h0M535.87 416.23h0M539.2 416.23h0M542.53 416.23h0M545.86 416.23h0M549.19 416.23h0M552.52 416.23h0M555.84 416.23h0M559.17 416.23h0M562.5 416.23h0M565.83 416.23h0M569.16 416.23h0M572.49 416.23h0M575.82 416.23h0M579.15 416.23h0M582.48 416.23h0M585.81 416.23h0M589.14 416.23h0M592.47 416.23h0M595.8 416.23h0M432.65 419.31h0M435.98 419.31h0M439.31 419.31h0M442.64 419.31h0M445.97 419.31h0M449.3 419.31h0M452.63 419.31h0M455.96 419.31h0M459.29 419.31h0M462.62 419.31h0M465.95 419.31h0M469.28 419.31h0M472.61 419.31h0M475.93 419.31h0M479.26 419.31h0M482.59 419.31h0M485.92 419.31h0M489.25 419.31h0M492.58 419.31h0M495.91 419.31h0M499.24 419.31h0M502.57 419.31h0M505.9 419.31h0M509.23 419.31h0M512.56 419.31h0M515.89 419.31h0M519.22 419.31h0M522.55 419.31h0M525.88 419.31h0M529.21 419.31h0M532.54 419.31h0M535.87 419.31h0M539.2 419.31h0M542.53 419.31h0M545.86 419.31h0M549.19 419.31h0M552.52 419.31h0M555.84 419.31h0M559.17 419.31h0M562.5 419.31h0M565.83 419.31h0M569.16 419.31h0M572.49 419.31h0M575.82 419.31h0M579.15 419.31h0M582.48 419.31h0M585.81 419.31h0M589.14 419.31h0M592.47 419.31h0M595.8 419.31h0"/>
<path stroke="#139ef1" d="M432.65 422.39h0M435.98 422.39h0M439.31 422.39h0M442.64 422.39h0M445.97 422.39h0M449.3 422.39h0M452.63 422.39h0M455.96 422.39h0M459.29 422.39h0M462.62 422.39h0M465.95 422.39h0M469.28 422.39h0M472.61 422.39h0M475.93 422.39h0M479.26 422.39h0M482.59 422.39h0M485.92 422.39h0M489.25 422.39h0M492.58 422.39h0M495.91 422.39h0M499.24 422.39h0M502.57 422.39h0M505.9 422.39h0M509.23 422.39h0M512.56 422.39h0M515.89 422.39h0M519.22 422.39h0M522.55 422.39h0M525.88 422.39h0M529.21 422.39h0M532.54 422.39h0M535.87 422.39h0M539.2 422.39h0M542.53 422.39h0M545.86 422.39h0M549.19 422.39h0M552.52 422.39h0M555.84 422.39h0M559.17 422.39h0M562.5 422.39h0M565.83 422.39h0M569.16 422.39h0M572.49 422.39h0M575.82 422.39h0M579.15 422.39h0M582.48 422.39h0M585.81 422.39h0M589.14 422.39h0M592.47 422.39h0M595.8 422.39h0M432.65 425.47h0M435.98 425.47h0M439.31 425.47h0M442.64 425.47h0M445.97 425.47h0M449.3 425.47h0M452.63 425.47h0M455.96 425.47h0M459.29 425.47h0M462.62 425.47h0M465.95 425.47h0M469.28 425.47h0M472.61 425.47h0M475.93 425.47h0M479.26 425.47h0M482.59 425.47h0M485.92 425.47h0M489.25 425.47h0M492.58 425.47h0M495.91 425.47h0M499.24 425.47h0M502.57 425.47h0M505.9 425.47h0M509.23 425.47h0M512.56 425.47h0M515.89 425.47h0M519.22 425.47h0M522.55 425.47h0M525.88 425.47h0M529.21 425.47h0M532.54 425.47h0M535.87 425.47h0M539.2 425.47h0M542.53 425.47h0M545.86 425.47h0M549.19 425.47h0M552.52 425.47h0M555.84 425.47h0M559.17 425.47h0M562.5 425.47h0M565.83 425.47h0M569.16 425.47h0M572.49 425.47h0M575.82 425.47h0M579.15 425.47h0M582.48 425.47h0M585.81 425.47h0M589.14 425.47h0M592.47 425.47h0M595.8 425.47h0M432.65 428.55h0M435.98 428.55h0M439.31 428.55h0M442.64 428.55h0M445.97 428.55h0M449.3 428.55h0M452.63 428.55h0M455.96 428.55h0M459.29 428.55h0M462.62 428.55h0M465.95 428.55h0M469.28 428.55h0M472.61 428.55h0M475.93 428.55h0M479.26 428.55h0M482.59 428.55h0M485.92 428.55h0M489.25 428.55h0M492.58 428.55h0M495.91 428.55h0M499.24 428.55h0M502.57 428.55h0M505.9 428.55h0M509.23 428.55h0M512.56 428.55h0M515.89 428.55h0M519.22 428.55h0M522.55 428.55h0M525.88 428.55h0M529.21 428.55h0M532.54 428.55h0M535.87 428.55h0M539.2 428.55h0M542.53 428.55h0M545.86 428.55h0M549.19 428.55h0M552.52 428.55h0M555.84 428.55h0M559.17 428.55h0M562.5 428.55h0M565.83 428.55h0M569.16 428.55h0M572.49 428.55h0M575.82 428.55h0M579.15 428.55h0M582.48 428.55h0M585.81 428.55h0M589.14 428.55h0M592.47 428.55h0M595.8 428.55h0M432.65 431.63h0M435.98 431.63h0M439.31 431.63h0M442.64 431.63h0M445.97 431.63h0M449.3 431.63h0M452.63 431.63h0M455.96 431.63h0M459.29 431.63h0M462.62 431.63h0M465.95 431.63h0M469.28 431.63h0M472.61 431.63h0M475.93 431.63h0M479.26 431.63h0M482.59 431.63h0M485.92 431.63h0M489.25 431.63h0M492.58 431.63h0M495.91 431.63h0M499.24 431.63h0M502.57 431.63h0M505.9 431.63h0M509.23 431.63h0M512.56 431.63h0M515.89 431.63h0M519.22 431.63h0M522.55 431.63h0M525.88 431.63h0M529.21 431.63h0M532.54 431.63h0M535.87 431.63h0M539.2 431.63h0M542.53 431.63h0M545.86 431.63h0M549.19 431.63h0M552.52 431.63h0M555.84 431.63h0M559.17 431.63h0M562.5 431.63h0M565.83 431.63h0M569.16 431.63h0M572.49 431.63h0M575.82 431.63h0M579.15 431.63h0M582.48 431.63h0M585.81 431.63h0M589.14 431.63h0M592.47 431.63h0M595.8 431.63h0"/>
<path stroke="#1799f2" d="M432.65 434.71h0M435.98 434.71h0M439.31 434.71h0M442.64 434.71h0M445.97 434.71h0M449.3 434.71h0M452.63 434.71h0M455.96 434.71h0M459.29 434.71h0M462.62 434.71h0M465.95 434.71h0M469.28 434.71h0M472.61 434.71h0M475.93 434.71h0M479.26 434.71h0M482.59 434.71h0M485.92 434.71h0M489.25 434.71h0M492.58 434.71h0M495.91 434.71h0M499.24 434.71h0M502.57 434.71h0M505.9 434.71h0M509.23 434.71h0M512.56 434.71h0M515.89 434.71h0M519.22 434.71h0M522.55 434.71h0M525.88 434.71h0M529.21 434.71h0M532.54 434.71h0M535.87 434.71h0M539.2 434.71h0M542.53 434.71h0M545.86 434.71h0M549.19 434.71h0M552.52 434.71h0M555.84 434.71h0M559.17 434.71h0M562.5 434.71h0M565.83 434.71h0M569.16 434.71h0M572.49 434.71h0M575.82 434.71h0M579.15 434.71h0M582.48 434.71h0M585.81 434.71h0M589.14 434.71h0M592.47 434.71h0M595.8 434.71h0M432.65 437.79h0M435.98 437.79h0M439.31 437.79h0M442.64 437.79h0M445.97 437.79h0M449.3 437.79h0M452.63 437.79h0M455.96 437.79h0M459.29 437.79h0M462.62 437.79h0M465.95 437.79h0M469.28 437.79h0M472.61 437.79h0M475.93 437.79h0M479.26 437.79h0M482.59 437.79h0M485.92 437.79h0M489.25 437.79h0M492.58 437.79h0M495.91 437.79h0M499.24 437.79h0M502.57 437.79h0M505.9 437.79h0M509.23 437.79h0M512.56 437.79h0M515.89 437.79h0M519.22 437.79h0M522.55 437.79h0M525.88 437.79h0M529.21 437.79h0M532.54 437.79h0M535.87 437.79h0M539.2 437.79h0M542.53 437.79h0M545.86 437.79h0M549.19 437.79h0M552.52 437.79h0M555.84 437.79h0M559.17 437.79h0M562.5 437.79h0M565.83 437.79h0M569.16 437.79h0M572.49 437.79h0M575.82 437.79h0M579.15 437.79h0M582.48 437.79h0M585.81 437.79h0M589.14 437.79h0M592.47 437.79h0M595.8 437.79h0M432.65 440.87h0M435.98 440.87h0M439.31 440.87h0M442.64 440.87h0M445.97 440.87h0M449.3 440.87h0M452.63 440.87h0M455.96 440.87h0M459.29 440.87h0M462.62 440.87h0M465.95 440.87h0M469.28 440.87h0M472.61 440.87h0M475.93 440.87h0M479.26 440.87h0M482.59 440.87h0M485.92 440.87h0M489.25 440.87h0M492.58 440.87h0M495.91 440.87h0M499.24 440.87h0M502.57 440.87h0M505.9 440.87h0M509.23 440.87h0M512.56 440.87h0M515.89 440.87h0M519.22 440.87h0M522.55 440.87h0M525.88 440.87h0M529.21 440.87h0M532.54 440.87h0M535.87 440.87h0M539.2 440.87h0M542.53 440.87h0M545.86 440.87h0M549.19 440.87h0M552.52 440.87h0M555.84 440.87h0M559.17 440.87h0M562.5 440.87h0M565.83 440.87h0M569.16 440.87h0M572.49 440.87h0M575.82 440.87h0M579.15 440.87h0M582.48 440.87h0M585.81 440.87h0M589.14 440.87h0M592.47 440.87h0M595.8 440.87h0M432.65 443.95h0M435.98 443.95h0M439.31 443.95h0M442.64 443.95h0M445.97 443.95h0M449.3 443.95h0M452.63 443.95h0M455.96 443.95h0M459.29 443.95h0M462.62 443.95h0M465.95 443.95h0M469.28 443.95h0M472.61 443.95h0M475.93 443.95h0M479.26 443.95h0M482.59 443.95h0M485.92 443.95h0M489.25 443.95h0M492.58 443.95h0M495.91 443.95h0M499.24 443.95h0M502.57 443.95h0M505.9 443.95h0M509.23 443.95h0M512.56 443.95h0M515.89 443.95h0M519.22 443.95h0M522.55 443.95h0M525.88 443.95h0M529.21 443.95h0M532.54 443.95h0M535.87 443.95h0M539.2 443.95h0M542.53 443.95h0M545.86 443.95h0M549.19 443.95h0M552.52 443.95h0M555.84 443.95h0M559.17 443.95h0M562.5 443.95h0M565.83 443.95h0M569.16 443.95h0M572.49 443.95h0M575.82 443.95h0M579.15 443.95h0M582.48 443.95h0M585.81 443.95h0M589.14 443.95h0M592.47 443.95h0M595.8 443.95h0"/>
<path stroke="#1b94f3" d="M432.65 447.03h0M435.98 447.03h0M439.31 447.03h0M442.64 447.03h0M445.97 447.03h0M449.3 447.03h0M452.63 447.03h0M455.96 447.03h0M459.29 447.03h0M462.62 447.03h0M465.95 447.03h0M469.28 447.03h0M472.61 447.03h0M475.93 447.03h0M479.26 447.03h0M482.59 447.03h0M485.92 447.03h0M489.25 447.03h0M492.58 447.03h0M495.91 447.03h0M499.24 447.03h0M502.57 447.03h0M505.9 447.03h0M509.23 447.03h0M512.56 447.03h0M515.89 447.03h0M519.22 447.03h0M522.55 447.03h0M525.88 447.03h0M529.21 447.03h0M532.54 447.03h0M535.87 447.03h0M539.2 447.03h0M542.53 447.03h0M545.86 447.03h0M549.19 447.03h0M552.52 447.03h0M555.84 447.03h0M559.17 447.03h0M562.5 447.03h0M565.83 447.03h0M569.16 447.03h0M572.49 447.03h0M575.82 447.03h0M579.15 447.03h0M582.48 447.03h0M585.81 447.03h0M589.14 447.03h0M592.47 447.03h0M595.8 447.03h0M432.65 450.11h0M435.98 450.11h0M439.31 450.11h0M442.64 450.11h0M445.97 450.11h0M449.3 450.11h0M452.63 450.11h0M455.96 450.11h0M459.29 450.11h0M462.62 450.11h0M465.95 450.11h0M469.28 450.11h0M472.61 450.11h0M475.93 450.11h0M479.26 450.11h0M482.59 450.11h0M485.92 450.11h0M489.25 450.11h0M492.58 450.11h0M495.91 450.11h0M499.24 450.11h0M502.57 450.11h0M505.9 450.11h0M509.23 450.11h0M512.56 450.11h0M515.89 450.11h0M519.22 450.11h0M522.55 450.11h0M525.88 450.11h0M529.21 450.11h0M532.54 450.11h0M535.87 450.11h0M539.2 450.11h0M542.53 450.11h0M545.86 450.11h0M549.19 450.11h0M552.52 450.11h0M555.84 450.11h0M559.17 450.11h0M562.5 450.11h0M565.83 450.11h0M569.16 450.11h0M572.49 450.11h0M575.82 450.11h0M579.15 450.11h0M582.48 450.11h0M585.81 450.11h0M589.14 450.11h0M592.47 450.11h0M595.8 450.11h0M432.65 453.19h0M435.98 453.19h0M439.31 453.19h0M442.64 453.19h0M445.97 453.19h0M449.3 453.19h0M452.63 453.19h0M455.96 453.19h0M459.29 453.19h0M462.62 453.19h0M465.95 453.19h0M469.28 453.19h0M472.61 453.19h0M475.93 453.19h0M479.26 453.19h0M482.59 453.19h0M485.92 453.19h0M489.25 453.19h0M492.58 453.19h0M495.91 453.19h0M499.24 453.19h0M502.57 453.19h0M505.9 453.19h0M509.23 453.19h0M512.56 453.19h0M515.89 453.19h0M519.22 453.19h0M522.55 453.19h0M525.88 453.19h0M529.21 453.19h0M532.54 453.19h0M535.87 453.19h0M539.2 453.19h0M542.53 453.19h0M545.86 453.19h0M549.19 453.19h0M552.52 453.19h0M555.84 453.19h0M559.17 453.19h0M562.5 453.19h0M565.83 453.19h0M569.16 453.19h0M572.49 453.19h0M575.82 453.19h0M579.15 453.19h0M582.48 453.19h0M585.81 453.19h0M589.14 453.19h0M592.47 453.19h0M595.8 453.19h0M432.65 456.27h0M435.98 456.27h0M439.31 456.27h0M442.64 456.27h0M445.97 456.27h0M449.3 456.27h0M452.63 456.27h0M455.96 456.27h0M459.29 456.27h0M462.62 456.27h0M465.95 456.27h0M469.28 456.27h0M472.61 456.27h0M475.93 456.27h0M479.26 456.27h0M482.59 456.27h0M485.92 456.27h0M489.25 456.27h0M492.58 456.27h0M495.91 456.27h0M499.24 456.27h0M502.57 456.27h0M505.9 456.27h0M509.23 456.27h0M512.56 456.27h0M515.89 456.27h0M519.22 456.27h0M522.55 456.27h0M525.88 456.27h0M529.21 456.27h0M532.54 456.27h0M535.87 456.27h0M539.2 456.27h0M542.53 456.27h0M545.86 456.27h0M549.19 456.27h0M552.52 456.27h0M555.84 456.27h0M559.17 456.27h0M562.5 456.27h0M565.83 456.27h0M569.16 456.27h0M572.49 456.27h0M575.82 456.27h0M579.15 456.27h0M582.48 456.27h0M585.81 456.27h0M589.14 456.27h0M592.47 456.27h0M595.8 456.27h0"/>
<path stroke="#1f8ff4" d="M432.65 459.36h0M435.98 459.36h0M439.31 459.36h0M442.64 459.36h0M445.97 459.36h0M449.3 459.36h0M452.63 459.36h0M455.96 459.36h0M459.29 459.36h0M462.62 459.36h0M465.95 459.36h0M469.28 459.36h0M472.61 459.36h0M475.93 459.36h0M479.26 459.36h0M482.59 459.36h0M485.92 459.36h0M489.25 459.36h0M492.58 459.36h0M495.91 459.36h0M499.24 459.36h0M502.57 459.36h0M505.9 459.36h0M509.23 459.36h0M512.56 459.36h0M515.89 459.36h0M519.22 459.36h0M522.55 459.36h0M525.88 459.36h0M529.21 459.36h0M532.54 459.36h0M535.87 459.36h0M539.2 459.36h0M542.53 459.36h0M545.86 459.36h0M549.19 459.36h0M552.52 459.36h0M555.84 459.36h0M559.17 459.36h0M562.5 459.36h0M565.83 459.36h0M569.16 459.36h0M572.49 459.36h0M575.82 459.36h0M579.15 459.36h0M582.48 459.36h0M585.81 459.36h0M589.14 459.36h0M592.47 459.36h0M595.8 459.36h0M432.65 462.44h0M435.98 462.44h0M439.31 462.44h0M442.64 462.44h0M445.97 462.44h0M449.3 462.44h0M452.63 462.44h0M455.96 462.44h0M459.29 462.44h0M462.62 462.44h0M465.95 462.44h0M469.28 462.44h0M472.61 462.44h0M475.93 462.44h0M479.26 462.44h0M482.59 462.44h0M485.92 462.44h0M489.25 462.44h0M492.58 462.44h0M495.91 462.44h0M499.24 462.44h0M502.57 462.44h0M505.9 462.44h0M509.23 462.44h0M512.56 462.44h0M515.89 462.44h0M519.22 462.44h0M522.55 462.44h0M525.88 462.44h0M529.21 462.44h0M532.54 462.44h0M535.87 462.44h0M539.2 462.44h0M542.53 462.44h0M545.86 462.44h0M549.19 462.44h0M552.52 462.44h0M555.84 462.44h0M559.17 462.44h0M562.5 462.44h0M565.83 462.44h0M569.16 462.44h0M572.49 462.44h0M575.82 462.44h0M579.15 462.44h0M582.48 462.44h0M585.81 462.44h0M589.14 462.44h0M592.47 462.44h0M595.8 462.44h0M432.65 465.52h0M435.98 465.52h0M439.31 465.52h0M442.64 465.52h0M445.97 465.52h0M449.3 465.52h0M452.63 465.52h0M455.96 465.52h0M459.29 465.52h0M462.62 465.52h0M465.95 465.52h0M469.28 465.52h0M472.61 465.52h0M475.93 465.52h0M479.26 465.52h0M482.59 465.52h0M485.92 465.52h0M489.25 465.52h0M492.58 465.52h0M495.91 465.52h0M499.24 465.52h0M502.57 465.52h0M505.9 465.52h0M509.23 465.52h0M512.56 465.52h0M515.89 465.52h0M519.22 465.52h0M522.55 465.52h0M525.88 465.52h0M529.21 465.52h0M532.54 465.52h0M535.87 465.52h0M539.2 465.52h0M542.53 465.52h0M545.86 465.52h0M549.19 465.52h0M552.52 465.52h0M555.84 465.52h0M559.17 465.52h0M562.5 465.52h0M565.83 465.52h0M569.16 465.52h0M572.49 465.52h0M575.82 465.52h0M579.15 465.52h0M582.48 465.52h0M585.81 465.52h0M589.14 465.52h0M592.47 465.52h0M595.8 465.52h0M432.65 468.6h0M435.98 468.6h0M439.31 468.6h0M442.64 468.6h0M445.97 468.6h0M449.3 468.6h0M452.63 468.6h0M455.96 468.6h0M459.29 468.6h0M462.62 468.6h0M465.95 468.6h0M469.28 468.6h0M472.61 468.6h0M475.93 468.6h0M479.26 468.6h0M482.59 468.6h0M485.92 468.6h0M489.25 468.6h0M492.58 468.6h0M495.91 468.6h0M499.24 468.6h0M502.57 468.6h0M505.9 468.6h0M509.23 468.6h0M512.56 468.6h0M515.89 468.6h0M519.22 468.6h0M522.55 468.6h0M525.88 468.6h0M529.21 468.6h0M532.54 468.6h0M535.87 468.6h0M539.2 468.6h0M542.53 468.6h0M545.86 468.6h0M549.19 468.6h0M552.52 468.6h0M555.84 468.6h0M559.17 468.6h0M562.5 468.6h0M565.83 468.6h0M569.16 468.6h0M572.49 468.6h0M575.82 468.6h0M579.15 468.6h0M582.48 468.6h0M585.81 468.6h0M589.14 468.6h0M592.47 468.6h0M595.8 468.6h0"/>
<path stroke="#228af5" d="M432.65 471.68h0M435.98 471.68h0M439.31 471.68h0M442.64 471.68h0M445.97 471.68h0M449.3 471.68h0M452.63 471.68h0M455.96 471.68h0M459.29 471.68h0M462.62 471.68h0M465.95 471.68h0M469.28 471.68h0M472.61 471.68h0M475.93 471.68h0M479.26 471.68h0M482.59 471.68h0M485.92 471.68h0M489.25 471.68h0M492.58 471.68h0M495.91 471.68h0M499.24 471.68h0M502.57 471.68h0M505.9 471.68h0M509.23 471.68h0M512.56 471.68h0M515.89 471.68h0M519.22 471.68h0M522.55 471.68h0M525.88 471.68h0M529.21 471.68h0M532.54 471.68h0M535.87 471.68h0M539.2 471.68h0M542.53 471.68h0M545.86 471.68h0M549.19 471.68h0M552.52 471.68h0M555.84 471.68h0M559.17 471.68h0M562.5 471.68h0M565.83 471.68h0M569.16 471.68h0M572.49 471.68h0M575.82 471.68h0M579.15 471.68h0M582.48 471.68h0M585.81 471.68h0M589.14 471.68h0M592.47 471.68h0M595.8 471.68h0M432.65 474.76h0M435.98 474.76h0M439.31 474.76h0M442.64 474.76h0M445.97 474.76h0M449.3 474.76h0M452.63 474.76h0M455.96 474.76h0M459.29 474.76h0M462.62 474.76h0M465.95 474.76h0M469.28 474.76h0M472.61 474.76h0M475.93 474.76h0M479.26 474.76h0M482.59 474.76h0M485.92 474.76h0M489.25 474.76h0M492.58 474.76h0M495.91 474.76h0M499.24 474.76h0M502.57 474.76h0M505.9 474.76h0M509.23 474.76h0M512.56 474.76h0M515.89 474.76h0M519.22 474.76h0M522.55 474.76h0M525.88 474.76h0M529.21 474.76h0M532.54 474.76h0M535.87 474.76h0M539.2 474.76h0M542.53 474.76h0M545.86 474.76h0M549.19 474.76h0M552.52 474.76h0M555.84 474.76h0M559.17 474.76h0M562.5 474.76h0M565.83 474.76h0M569.16 474.76h0M572.49 474.76h0M575.82 474.76h0M579.15 474.76h0M582.48 474.76h0M585.81 474.76h0M589.14 474.76h0M592.47 474.76h0M595.8 474.76h0M432.65 477.84h0M435.98 477.84h0M439.31 477.84h0M442.64 477.84h0M445.97 477.84h0M449.3 477.84h0M452.63 477.84h0M455.96 477.84h0M459.29 477.84h0M462.62 477.84h0M465.95 477.84h0M469.28 477.84h0M472.61 477.84h0M475.93 477.84h0M479.26 477.84h0M482.59 477.84h0M485.92 477.84h0M489.25 477.84h0M492.58 477.84h0M495.91 477.84h0M499.24 477.84h0M502.57 477.84h0M505.9 477.84h0M509.23 477.84h0M512.56 477.84h0M515.89 477.84h0M519.22 477.84h0M522.55 477.84h0M525.88 477.84h0M529.21 477.84h0M532.54 477.84h0M535.87 477.84h0M539.2 477.84h0M542.53 477.84h0M545.86 477.84h0M549.19 477.84h0M552.52 477.84h0M555.84 477.84h0M559.17 477.84h0M562.5 477.84h0M565.83 477.84h0M569.16 477.84h0M572.49 477.84h0M575.82 477.84h0M579.15 477.84h0M582.48 477.84h0M585.81 477.84h0M589.14 477.84h0M592.47 477.84h0M595.8 477.84h0M432.65 480.92h0M435.98 480.92h0M439.31 480.92h0M442.64 480.92h0M445.97 480.92h0M449.3 480.92h0M452.63 480.92h0M455.96 480.92h0M459.29 480.92h0M462.62 480.92h0M465.95 480.92h0M469.28 480.92h0M472.61 480.92h0M475.93 480.92h0M479.26 480.92h0M482.59 480.92h0M485.92 480.92h0M489.25 480.92h0M492.58 480.92h0M495.91 480.92h0M499.24 480.92h0M502.57 480.92h0M505.9 480.92h0M509.23 480.92h0M512.56 480.92h0M515.89 480.92h0M519.22 480.92h0M522.55 480.92h0M525.88 480.92h0M529.21 480.92h0M532.54 480.92h0M535.87 480.92h0M539.2 480.92h0M542.53 480.92h0M545.86 480.92h0M549.19 480.92h0M552.52 480.92h0M555.84 480.92h0M559.17 480.92h0M562.5 480.92h0M565.83 480.92h0M569.16 480.92h0M572.49 480.92h0M575.82 480.92h0M579.15 480.92h0M582.48 480.92h0M585.81 480.92h0M589.14 480.92h0M592.47 480.92h0M595.8 480.92h0"/>
<path stroke="#2685f5" d="M432.65 484h0M435.98 484h0M439.31 484h0M442.64 484h0M445.97 484h0M449.3 484h0M452.63 484h0M455.96 484h0M459.29 484h0M462.62 484h0M465.95 484h0M469.28 484h0M472.61 484h0M475.93 484h0M479.26 484h0M482.59 484h0M485.92 484h0M489.25 484h0M492.58 484h0M495.91 484h0M499.24 484h0M502.57 484h0M505.9 484h0M509.23 484h0M512.56 484h0M515.89 484h0M519.22 484h0M522.55 484h0M525.88 484h0M529.21 484h0M532.54 484h0M535.87 484h0M539.2 484h0M542.53 484h0M545.86 484h0M549.19 484h0M552.52 484h0M555.84 484h0M559.17 484h0M562.5 484h0M565.83 484h0M569.16 484h0M572.49 484h0M575.82 484h0M579.15 484h0M582.48 484h0M585.81 484h0M589.14 484h0M592.47 484h0M595.8 484h0"/>
</g>
<path d="M433.15 350.39L436.48 350.39L439.81 350.39L443.14 350.39L446.47 350.39L449.8 350.39L453.13 350.39L456.46 350.39L459.79 350.39L463.12 350.39L466.45 350.39L469.78 350.39L473.11 350.39L476.43 350.39L479.76 350.39L483.09 350.39L486.42 350.39L489.75 350.39L493.08 350.39L496.41 350.39L499.74 350.39L503.07 350.39L506.4 350.39L509.73 350.39L513.06 350.39L516.39 350.39L519.72 350.39L523.05 350.39L526.38 350.39L529.71 350.39L533.04 350.39L536.37 350.39L539.7 350.39L543.03 350.39L546.36 350.39L549.69 350.39L553.02 350.39L556.34 350.39L559.67 350.39L563 350.39L566.33 350.39L569.66 350.39L572.99 350.39L576.32 350.39L579.65 350.39L582.98 350.39L586.31 350.39L589.64 350.39L592.97 350.39L596.3 350.39" stroke="#000" stroke-width="1.1" fill="none" stroke-linejoin="round" stroke-linecap="round"/>
<rect x="424.5" y="325.6" width="179.3" height="165.8" fill="none" stroke="#505050" stroke-width="0.8"/>
<path d="M432.65 491.4v3M487.03 491.4v3M541.42 491.4v3M595.8 491.4v3M603.8 350.81h2.6M603.8 395.21h2.6M603.8 439.6h2.6M603.8 484h2.6" stroke="#5a5a5a" stroke-width="0.9" fill="none"/>
<text x="426.35" y="511.5" font-size="12">10</text>
<text x="438.55" y="505.2" font-size="8">0</text>
<text x="480.73" y="511.5" font-size="12">10</text>
<text x="492.93" y="505.2" font-size="8">1</text>
<text x="535.12" y="511.5" font-size="12">10</text>
<text x="547.32" y="505.2" font-size="8">2</text>
<text x="589.5" y="511.5" font-size="12">10</text>
<text x="601.7" y="505.2" font-size="8">3</text>
<text y="99.2" font-size="12"><tspan x="100.35" textLength="9.6" lengthAdjust="spacingAndGlyphs">Δ</tspan><tspan x="110.75" class="i" textLength="6.6" lengthAdjust="spacingAndGlyphs">x</tspan><tspan x="123.75" textLength="8.8" lengthAdjust="spacingAndGlyphs">=</tspan><tspan x="135.35" textLength="15.6" lengthAdjust="spacingAndGlyphs">0.0</tspan><tspan x="154.25" textLength="9.6" lengthAdjust="spacingAndGlyphs">m</tspan></text>
<text x="117.15" y="101.4" font-size="8">1</text>
<text y="99.2" font-size="12"><tspan x="290.55" textLength="9.6" lengthAdjust="spacingAndGlyphs">Δ</tspan><tspan x="300.95" class="i" textLength="6.6" lengthAdjust="spacingAndGlyphs">x</tspan><tspan x="313.95" textLength="8.8" lengthAdjust="spacingAndGlyphs">=</tspan><tspan x="325.55" textLength="15.6" lengthAdjust="spacingAndGlyphs">0.6</tspan><tspan x="344.45" textLength="9.6" lengthAdjust="spacingAndGlyphs">m</tspan></text>
<text x="307.35" y="101.4" font-size="8">1</text>
<text y="99.2" font-size="12"><tspan x="482.65" textLength="9.6" lengthAdjust="spacingAndGlyphs">Δ</tspan><tspan x="493.05" class="i" textLength="6.6" lengthAdjust="spacingAndGlyphs">x</tspan><tspan x="506.05" textLength="8.8" lengthAdjust="spacingAndGlyphs">=</tspan><tspan x="517.65" textLength="15.6" lengthAdjust="spacingAndGlyphs">0.9</tspan><tspan x="536.55" textLength="9.6" lengthAdjust="spacingAndGlyphs">m</tspan></text>
<text x="499.45" y="101.4" font-size="8">1</text>
<text y="320.1" font-size="12"><tspan x="109.85" class="i" textLength="8.8" lengthAdjust="spacingAndGlyphs">D</tspan><tspan x="121.35" textLength="8.7" lengthAdjust="spacingAndGlyphs">=</tspan><tspan x="133.45" textLength="21.6" lengthAdjust="spacingAndGlyphs">0.01</tspan></text>
<text y="320.1" font-size="12"><tspan x="303.05" class="i" textLength="8.8" lengthAdjust="spacingAndGlyphs">D</tspan><tspan x="314.55" textLength="8.7" lengthAdjust="spacingAndGlyphs">=</tspan><tspan x="326.65" textLength="15.6" lengthAdjust="spacingAndGlyphs">0.5</tspan></text>
<text y="320.1" font-size="12"><tspan x="495.15" class="i" textLength="8.8" lengthAdjust="spacingAndGlyphs">D</tspan><tspan x="506.65" textLength="8.7" lengthAdjust="spacingAndGlyphs">=</tspan><tspan x="518.75" textLength="15.6" lengthAdjust="spacingAndGlyphs">1.0</tspan></text>
<g transform="translate(17.3 208.87) rotate(-90)">
<text y="0" font-size="12"><tspan x="0" class="i" font-size="12.8" textLength="7.7" lengthAdjust="spacingAndGlyphs">F</tspan><tspan x="25.2">(</tspan><tspan x="28.9" textLength="8.4" lengthAdjust="spacingAndGlyphs">N</tspan><tspan x="38.0">)</tspan></text>
<text x="7.2" y="3.2" font-size="8" textLength="12.6" lengthAdjust="spacingAndGlyphs">max</text>
</g>
<g transform="translate(11.9 429.1) rotate(-90)">
<text y="0" font-size="12"><tspan x="0" class="i" font-size="12.8" textLength="7.7" lengthAdjust="spacingAndGlyphs">F</tspan><tspan x="25.2">(</tspan><tspan x="28.9" textLength="8.4" lengthAdjust="spacingAndGlyphs">N</tspan><tspan x="38.0">)</tspan></text>
<text x="7.2" y="3.2" font-size="8" textLength="12.6" lengthAdjust="spacingAndGlyphs">max</text>
</g>
<text y="532.7" font-size="12"><tspan x="109.95" class="i">a</tspan><tspan x="118.95">(</tspan><tspan x="122.65" textLength="8.3" lengthAdjust="spacingAndGlyphs">N</tspan><tspan x="134.15">s</tspan><tspan x="153.15">)</tspan></text>
<text y="526.9" font-size="8"><tspan x="142.05">−</tspan><tspan x="148.35">1</tspan></text>
<text y="532.7" font-size="12"><tspan x="300.15" class="i">a</tspan><tspan x="309.15">(</tspan><tspan x="312.85" textLength="8.3" lengthAdjust="spacingAndGlyphs">N</tspan><tspan x="324.35">s</tspan><tspan x="343.35">)</tspan></text>
<text y="526.9" font-size="8"><tspan x="332.25">−</tspan><tspan x="338.55">1</tspan></text>
<text y="532.7" font-size="12"><tspan x="492.25" class="i">a</tspan><tspan x="501.25">(</tspan><tspan x="504.95" textLength="8.3" lengthAdjust="spacingAndGlyphs">N</tspan><tspan x="516.45">s</tspan><tspan x="535.45">)</tspan></text>
<text y="526.9" font-size="8"><tspan x="524.35">−</tspan><tspan x="530.65">1</tspan></text>
<defs><linearGradient id="cb" gradientUnits="userSpaceOnUse" x1="0" y1="389.1" x2="0" y2="208.3">
<stop offset="0" stop-color="#8000ff"/>
<stop offset=".03" stop-color="#7314ff"/>
<stop offset=".05" stop-color="#6628fe"/>
<stop offset=".07" stop-color="#593cfd"/>
<stop offset=".1" stop-color="#4d4ffc"/>
<stop offset=".12" stop-color="#4062fa"/>
<stop offset=".15" stop-color="#3374f8"/>
<stop offset=".17" stop-color="#2685f5"/>
<stop offset=".2" stop-color="#1a96f3"/>
<stop offset=".23" stop-color="#0da6ef"/>
<stop offset=".25" stop-color="#00b4ec"/>
<stop offset=".28" stop-color="#0dc2e8"/>
<stop offset=".3" stop-color="#1acee3"/>
<stop offset=".33" stop-color="#26d9de"/>
<stop offset=".35" stop-color="#33e3d9"/>
<stop offset=".38" stop-color="#40ecd4"/>
<stop offset=".4" stop-color="#4df3ce"/>
<stop offset=".42" stop-color="#59f8c8"/>
<stop offset=".45" stop-color="#66fcc2"/>
<stop offset=".47" stop-color="#73febb"/>
<stop offset=".5" stop-color="#80ffb4"/>
<stop offset=".53" stop-color="#8cfead"/>
<stop offset=".55" stop-color="#99fca6"/>
<stop offset=".57" stop-color="#a6f89e"/>
<stop offset=".6" stop-color="#b3f396"/>
<stop offset=".62" stop-color="#bfec8e"/>
<stop offset=".65" stop-color="#cce385"/>
<stop offset=".68" stop-color="#d9d97d"/>
<stop offset=".7" stop-color="#e5ce74"/>
<stop offset=".72" stop-color="#f2c26b"/>
<stop offset=".75" stop-color="#ffb462"/>
<stop offset=".78" stop-color="#ffa658"/>
<stop offset=".8" stop-color="#ff964f"/>
<stop offset=".82" stop-color="#ff8545"/>
<stop offset=".85" stop-color="#ff743c"/>
<stop offset=".88" stop-color="#ff6232"/>
<stop offset=".9" stop-color="#ff4f28"/>
<stop offset=".93" stop-color="#ff3c1e"/>
<stop offset=".95" stop-color="#ff2814"/>
<stop offset=".97" stop-color="#ff140a"/>
<stop offset="1" stop-color="#ff0000"/>
</linearGradient></defs>
<rect x="616.9" y="208.3" width="7.6" height="180.8" fill="url(#cb)"/>
<path d="M616.9 209.3L620.7 202.3L624.5 209.3Z" fill="#ff0000"/>
<path d="M616.9 388.1L620.7 395.1L624.5 388.1Z" fill="#8000ff"/>
<path d="M616.9 208.3L620.7 202.3L624.5 208.3V389.1L620.7 395.1L616.9 389.1Z" fill="none" stroke="#444" stroke-width="0.7" stroke-linejoin="miter"/>
<text x="628.6" y="212.3" font-size="12" textLength="15.6" lengthAdjust="spacingAndGlyphs">3.0</text>
<text x="628.6" y="257.5" font-size="12" textLength="15.6" lengthAdjust="spacingAndGlyphs">2.5</text>
<text x="628.6" y="302.7" font-size="12" textLength="15.6" lengthAdjust="spacingAndGlyphs">2.0</text>
<text x="628.6" y="347.9" font-size="12" textLength="15.6" lengthAdjust="spacingAndGlyphs">1.5</text>
<text x="628.6" y="393.1" font-size="12" textLength="15.6" lengthAdjust="spacingAndGlyphs">1.0</text>
<path d="M624.5 208.3h2.6M624.5 253.5h2.6M624.5 298.7h2.6M624.5 343.9h2.6M624.5 389.1h2.6" stroke="#555" stroke-width="0.8" fill="none"/>
<g transform="translate(661.1 333.3) rotate(-90)">
<text y="0" font-size="12"><tspan x="0" class="i" textLength="6.2" lengthAdjust="spacingAndGlyphs">x</tspan><tspan x="9.3">(</tspan><tspan x="14.6" class="i">t</tspan><tspan x="21.9" textLength="7.2" lengthAdjust="spacingAndGlyphs">=</tspan><tspan x="32.6" class="i">t</tspan><tspan x="41.4">)</tspan><tspan x="52.2">(</tspan><tspan x="56.1" textLength="8.6" lengthAdjust="spacingAndGlyphs">m</tspan><tspan x="65.6">)</tspan></text>
<text y="2.2" font-size="8"><tspan x="5.6">1</tspan><tspan x="37.0" class="i">e</tspan></text>
</g>
<path d="M242.1 79.5L331.5 167.2M396.8 79.5L368.4 167.2" stroke="#686868" stroke-width="1.4" fill="none"/>
<rect x="331.5" y="167.2" width="36.9" height="18.3" fill="none" stroke="#686868" stroke-width="1.4"/>
<rect x="243.4" y="1.45" width="152.1" height="76.75" fill="#fff"/>
<path d="M269.9 2.8V76.7M244.9 35.2H394" stroke="#dedede" stroke-width="0.9" fill="none"/>
<g stroke-linecap="round" stroke-width="9.3" fill="none"><path stroke="#17a2e6" d="M250.3 7.1h0M264.1 7.1h0M277.9 7.1h0M291.7 7.1h0M319.3 7.1h0M333.1 7.1h0M250.3 19.9h0M264.1 19.9h0M277.9 19.9h0M291.7 19.9h0M319.3 19.9h0M333.1 19.9h0M250.3 32.7h0M264.1 32.7h0M277.9 32.7h0M291.7 32.7h0M319.3 32.7h0M333.1 32.7h0M250.3 45.5h0M264.1 45.5h0M277.9 45.5h0M291.7 45.5h0M319.3 45.5h0M333.1 45.5h0M250.3 58.3h0M264.1 58.3h0M277.9 58.3h0M291.7 58.3h0M305.5 58.3h0M319.3 58.3h0M333.1 58.3h0M250.3 71.1h0M264.1 71.1h0M277.9 71.1h0M291.7 71.1h0M305.5 71.1h0M319.3 71.1h0M333.1 71.1h0"/><path stroke="#ff2a0c" d="M305.5 7.1h0M346.9 7.1h0M360.7 7.1h0M374.5 7.1h0M388.3 7.1h0M305.5 19.9h0M346.9 19.9h0M360.7 19.9h0M374.5 19.9h0M388.3 19.9h0M305.5 32.7h0M346.9 32.7h0M360.7 32.7h0M374.5 32.7h0M388.3 32.7h0M305.5 45.5h0M346.9 45.5h0M360.7 45.5h0M374.5 45.5h0M388.3 45.5h0M346.9 58.3h0M360.7 58.3h0M374.5 58.3h0M388.3 58.3h0M346.9 71.1h0M360.7 71.1h0M374.5 71.1h0M388.3 71.1h0"/></g>
<path d="M299.8 1.5V44.6L305.7 49.7L312 44.6V7.6L316.9 3.4L319 1.6M341.5 1.5V78" stroke="#000" stroke-width="3.4" fill="none" stroke-linejoin="miter"/>
<rect x="284.7" y="39.3" width="83.8" height="13.6" fill="none" stroke="#6a12cc" stroke-width="2.2"/>
<rect x="243.4" y="1.45" width="152.1" height="76.75" fill="none" stroke="#6b6b6b" stroke-width="3"/>
</svg></body></html>
